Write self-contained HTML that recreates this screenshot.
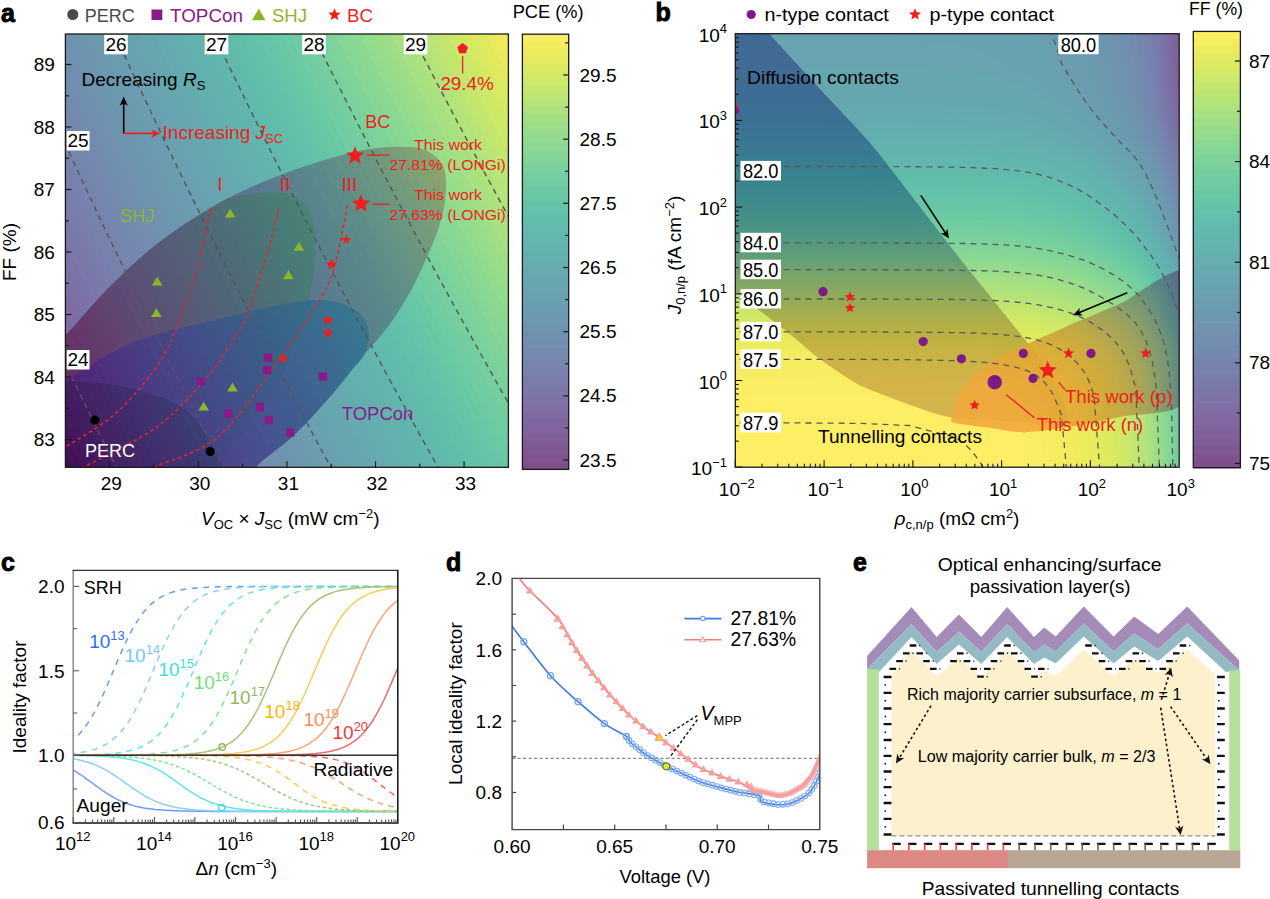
<!DOCTYPE html>
<html><head><meta charset="utf-8"><style>
html,body{margin:0;padding:0;background:#fff;width:1270px;height:899px;overflow:hidden}
svg{display:block}
text{font-family:"Liberation Sans", sans-serif}
</style></head><body>
<svg width="1270" height="899" viewBox="0 0 1270 899" font-family='"Liberation Sans", sans-serif'>
<rect width="1270" height="899" fill="#fff"/>
<clipPath id="clipA"><rect x="65.4" y="34.0" width="443.0" height="433.3"/></clipPath>
<clipPath id="clipB"><rect x="735.3" y="33.7" width="443.9000000000001" height="433.5"/></clipPath>
<g clip-path="url(#clipA)">
<rect x="65.4" y="34.0" width="443.0" height="433.3" fill="#fff"/>
<path d="M30,370 C35.8,342.7 51.4,350.2 65,336 C78.6,321.8 96.1,300.3 111.7,284.8 C127.3,269.3 142.8,255.1 158.4,242.8 C174,230.5 189.4,220.3 205,211 C220.6,201.7 236.1,193.9 251.9,186.7 C267.7,179.5 282.7,173.9 300,168 C317.3,162.1 339.4,155 355.6,151.5 C371.8,148 385.7,147.1 397.3,146.8 C408.9,146.6 417.6,147.1 425,150 C432.4,152.9 438.3,158.4 441.8,164 C445.3,169.6 445.8,175.6 446,183.5 C446.2,191.4 445.3,201.6 443.2,211.3 C441.1,221 438.6,229 433.4,241.9 C428.1,254.8 419.3,274.9 411.7,289 C404.1,303.1 396.9,314.3 388,326.5 C379.1,338.7 367.9,350 358,362 C348.1,374 339.6,385.9 328.7,398.3 C317.8,410.7 304.8,425 292.8,436.3 C280.9,447.6 267.5,455.4 257,466 C246.5,476.6 267.8,494.3 230,500 C192.2,505.7 63.3,521.7 30,500 C-3.3,478.3 24.2,397.3 30,370 Z" fill="rgb(228,70,150)"/>
<path d="M30,370 C35.8,342.7 51.4,350.2 65,336 C78.6,321.8 96.1,300.3 111.7,284.8 C127.3,269.3 142.8,254.9 158.4,242.8 C174,230.7 193.3,219.4 205,212 C216.7,204.6 218.8,201.6 228.5,198.4 C238.2,195.2 253.8,193.4 263.5,192.6 C273.2,191.8 280.4,192 287,193.7 C293.6,195.4 299,198.3 303.3,203 C307.6,207.7 310.7,213.6 312.6,221.8 C314.6,230 315,242.3 315,252 C315,261.7 314.1,270.3 312.6,280 C311.1,289.7 308.8,300 306,310 C303.2,320 300.3,328.3 296,340 C291.7,351.7 287.7,365.8 280,380 C272.3,394.2 260.8,410 250,425 C239.2,440 225,457.5 215,470 C205,482.5 220.8,495 190,500 C159.2,505 56.7,521.7 30,500 C3.3,478.3 24.2,397.3 30,370 Z" fill="rgb(150,83,40)" opacity="0.75"/>
<path d="M30,395 C35.8,375 47.8,388.8 65,380 C82.2,371.2 110.2,351.6 133.5,342 C156.8,332.4 181.4,328.2 205,322.2 C228.6,316.2 256.9,309.5 275.2,305.8 C293.5,302.1 304,300.4 315,300 C326,299.6 333.5,300.5 341.4,303.2 C349.3,305.9 357.9,310.7 362.5,316 C367.1,321.3 368.5,328.7 368.9,335 C369.3,341.3 367.5,348.2 364.7,354 C361.9,359.8 358,362.6 352,370 C346,377.4 338.6,387.2 328.7,398.3 C318.8,409.4 304.8,425 292.8,436.3 C280.9,447.6 267.5,455.4 257,466 C246.5,476.6 267.8,494.3 230,500 C192.2,505.7 63.3,517.5 30,500 C-3.3,482.5 24.2,415 30,395 Z" fill="rgb(70,30,150)" opacity="0.7"/>
<path d="M30,381 C36,361.2 51.2,380.8 65.7,381.5 C80.2,382.2 98.7,381.8 116.7,385.3 C134.7,388.8 159.6,395.7 173.5,402.3 C187.4,408.9 193.1,416.8 200,425 C206.9,433.2 211.2,444.6 215,451.5 C218.8,458.4 220.8,458.5 222.6,466.6 C224.4,474.7 258.1,494.4 226,500 C193.9,505.6 62.7,519.8 30,500 C-2.7,480.2 24.1,400.8 30,381 Z" fill="rgb(40,20,40)" opacity="0.7"/>
<g opacity="0.7">
<rect x="65.4" y="34.0" width="443.0" height="433.3" fill="#440154"/>
<path d="M55.4,486 L34.6,443.3 L14.2,400.4 L-5.9,357.6 L-25.6,314.9 L-45.1,272.1 L-64.2,229.2 L-83.1,186.4 L-101.6,143.7 L-119.9,100.9 L-137.9,58 L-155.6,15.3 L558.4,15.3 L558.4,486 Z" fill="#440256"/>
<path d="M64,486 L43.2,443.3 L22.7,400.4 L2.5,357.6 L-17.3,314.9 L-36.8,272.1 L-56,229.2 L-74.9,186.4 L-93.6,143.7 L-111.9,100.9 L-129.9,58 L-147.7,15.3 L558.4,15.3 L558.4,486 Z" fill="#46075a"/>
<path d="M72.6,486 L51.7,443.3 L31.2,400.4 L10.9,357.6 L-9,314.9 L-28.6,272.1 L-47.8,229.2 L-66.8,186.4 L-85.5,143.7 L-103.9,100.9 L-122,58 L-139.8,15.3 L558.4,15.3 L558.4,486 Z" fill="#460b5e"/>
<path d="M81.3,486 L60.3,443.3 L39.6,400.4 L19.3,357.6 L-0.6,314.9 L-20.3,272.1 L-39.6,229.2 L-58.7,186.4 L-77.4,143.7 L-95.9,100.9 L-114,58 L-131.9,15.3 L558.4,15.3 L558.4,486 Z" fill="#471063"/>
<path d="M89.9,486 L68.8,443.3 L48.1,400.4 L27.8,357.6 L7.7,314.9 L-12,272.1 L-31.4,229.2 L-50.5,186.4 L-69.3,143.7 L-87.8,100.9 L-106.1,58 L-124,15.3 L558.4,15.3 L558.4,486 Z" fill="#481467"/>
<path d="M98.5,486 L77.4,443.3 L56.6,400.4 L36.2,357.6 L16.1,314.9 L-3.7,272.1 L-23.2,229.2 L-42.4,186.4 L-61.2,143.7 L-79.8,100.9 L-98.1,58 L-116.1,15.3 L558.4,15.3 L558.4,486 Z" fill="#48186a"/>
<path d="M107.1,486 L85.9,443.3 L65.1,400.4 L44.6,357.6 L24.4,314.9 L4.5,272.1 L-15,229.2 L-34.2,186.4 L-53.2,143.7 L-71.8,100.9 L-90.2,58 L-108.2,15.3 L558.4,15.3 L558.4,486 Z" fill="#481c6e"/>
<path d="M115.7,486 L94.5,443.3 L73.6,400.4 L53,357.6 L32.7,314.9 L12.8,272.1 L-6.8,229.2 L-26.1,186.4 L-45.1,143.7 L-63.8,100.9 L-82.2,58 L-100.3,15.3 L558.4,15.3 L558.4,486 Z" fill="#482071"/>
<path d="M124.3,486 L103,443.3 L82,400.4 L61.4,357.6 L41.1,314.9 L21.1,272.1 L1.4,229.2 L-18,186.4 L-37,143.7 L-55.8,100.9 L-74.2,58 L-92.4,15.3 L558.4,15.3 L558.4,486 Z" fill="#482475"/>
<path d="M133,486 L111.6,443.3 L90.5,400.4 L69.8,357.6 L49.4,314.9 L29.4,272.1 L9.6,229.2 L-9.8,186.4 L-28.9,143.7 L-47.8,100.9 L-66.3,58 L-84.5,15.3 L558.4,15.3 L558.4,486 Z" fill="#482878"/>
<path d="M141.6,486 L120.1,443.3 L99,400.4 L78.2,357.6 L57.7,314.9 L37.6,272.1 L17.8,229.2 L-1.7,186.4 L-20.9,143.7 L-39.7,100.9 L-58.3,58 L-76.7,15.3 L558.4,15.3 L558.4,486 Z" fill="#472c7a"/>
<path d="M150.2,486 L128.7,443.3 L107.5,400.4 L86.6,357.6 L66.1,314.9 L45.9,272.1 L26,229.2 L6.5,186.4 L-12.8,143.7 L-31.7,100.9 L-50.4,58 L-68.8,15.3 L558.4,15.3 L558.4,486 Z" fill="#472f7d"/>
<path d="M158.8,486 L137.2,443.3 L115.9,400.4 L95,357.6 L74.4,314.9 L54.2,272.1 L34.2,229.2 L14.6,186.4 L-4.7,143.7 L-23.7,100.9 L-42.4,58 L-60.9,15.3 L558.4,15.3 L558.4,486 Z" fill="#46337f"/>
<path d="M167.4,486 L145.7,443.3 L124.4,400.4 L103.4,357.6 L82.8,314.9 L62.4,272.1 L42.4,229.2 L22.8,186.4 L3.4,143.7 L-15.7,100.9 L-34.5,58 L-53,15.3 L558.4,15.3 L558.4,486 Z" fill="#453781"/>
<path d="M176.1,486 L154.3,443.3 L132.9,400.4 L111.8,357.6 L91.1,314.9 L70.7,272.1 L50.7,229.2 L30.9,186.4 L11.5,143.7 L-7.7,100.9 L-26.5,58 L-45.1,15.3 L558.4,15.3 L558.4,486 Z" fill="#443a83"/>
<path d="M184.7,486 L162.8,443.3 L141.4,400.4 L120.2,357.6 L99.4,314.9 L79,272.1 L58.9,229.2 L39,186.4 L19.5,143.7 L0.3,100.9 L-18.6,58 L-37.2,15.3 L558.4,15.3 L558.4,486 Z" fill="#433e85"/>
<path d="M193.3,486 L171.4,443.3 L149.8,400.4 L128.6,357.6 L107.8,314.9 L87.3,272.1 L67.1,229.2 L47.2,186.4 L27.6,143.7 L8.4,100.9 L-10.6,58 L-29.3,15.3 L558.4,15.3 L558.4,486 Z" fill="#424186"/>
<path d="M201.9,486 L179.9,443.3 L158.3,400.4 L137,357.6 L116.1,314.9 L95.5,272.1 L75.3,229.2 L55.3,186.4 L35.7,143.7 L16.4,100.9 L-2.7,58 L-21.4,15.3 L558.4,15.3 L558.4,486 Z" fill="#404588"/>
<path d="M210.5,486 L188.5,443.3 L166.8,400.4 L145.5,357.6 L124.5,314.9 L103.8,272.1 L83.5,229.2 L63.5,186.4 L43.8,143.7 L24.4,100.9 L5.3,58 L-13.5,15.3 L558.4,15.3 L558.4,486 Z" fill="#3f4889"/>
<path d="M219.1,486 L197,443.3 L175.3,400.4 L153.9,357.6 L132.8,314.9 L112.1,272.1 L91.7,229.2 L71.6,186.4 L51.9,143.7 L32.4,100.9 L13.3,58 L-5.6,15.3 L558.4,15.3 L558.4,486 Z" fill="#3e4c8a"/>
<path d="M227.8,486 L205.6,443.3 L183.7,400.4 L162.3,357.6 L141.1,314.9 L120.4,272.1 L99.9,229.2 L79.8,186.4 L59.9,143.7 L40.4,100.9 L21.2,58 L2.3,15.3 L558.4,15.3 L558.4,486 Z" fill="#3c4f8a"/>
<path d="M236.4,486 L214.1,443.3 L192.2,400.4 L170.7,357.6 L149.5,314.9 L128.6,272.1 L108.1,229.2 L87.9,186.4 L68,143.7 L48.4,100.9 L29.2,58 L10.2,15.3 L558.4,15.3 L558.4,486 Z" fill="#3b528b"/>
<path d="M245,486 L222.7,443.3 L200.7,400.4 L179.1,357.6 L157.8,314.9 L136.9,272.1 L116.3,229.2 L96,186.4 L76.1,143.7 L56.5,100.9 L37.1,58 L18.1,15.3 L558.4,15.3 L558.4,486 Z" fill="#39558c"/>
<path d="M253.6,486 L231.2,443.3 L209.2,400.4 L187.5,357.6 L166.2,314.9 L145.2,272.1 L124.5,229.2 L104.2,186.4 L84.2,143.7 L64.5,100.9 L45.1,58 L26,15.3 L558.4,15.3 L558.4,486 Z" fill="#38598c"/>
<path d="M262.2,486 L239.7,443.3 L217.6,400.4 L195.9,357.6 L174.5,314.9 L153.4,272.1 L132.7,229.2 L112.3,186.4 L92.3,143.7 L72.5,100.9 L53,58 L33.9,15.3 L558.4,15.3 L558.4,486 Z" fill="#365c8d"/>
<path d="M270.8,486 L248.3,443.3 L226.1,400.4 L204.3,357.6 L182.8,314.9 L161.7,272.1 L140.9,229.2 L120.5,186.4 L100.3,143.7 L80.5,100.9 L61,58 L41.8,15.3 L558.4,15.3 L558.4,486 Z" fill="#355f8d"/>
<path d="M279.5,486 L256.8,443.3 L234.6,400.4 L212.7,357.6 L191.2,314.9 L170,272.1 L149.1,229.2 L128.6,186.4 L108.4,143.7 L88.5,100.9 L68.9,58 L49.7,15.3 L558.4,15.3 L558.4,486 Z" fill="#33628d"/>
<path d="M288.1,486 L265.4,443.3 L243.1,400.4 L221.1,357.6 L199.5,314.9 L178.3,272.1 L157.3,229.2 L136.8,186.4 L116.5,143.7 L96.5,100.9 L76.9,58 L57.5,15.3 L558.4,15.3 L558.4,486 Z" fill="#32658e"/>
<path d="M296.7,486 L273.9,443.3 L251.5,400.4 L229.5,357.6 L207.9,314.9 L186.5,272.1 L165.6,229.2 L144.9,186.4 L124.6,143.7 L104.6,100.9 L84.8,58 L65.4,15.3 L558.4,15.3 L558.4,486 Z" fill="#31688e"/>
<path d="M305.3,486 L282.5,443.3 L260,400.4 L237.9,357.6 L216.2,314.9 L194.8,272.1 L173.8,229.2 L153,186.4 L132.7,143.7 L112.6,100.9 L92.8,58 L73.3,15.3 L558.4,15.3 L558.4,486 Z" fill="#2f6b8e"/>
<path d="M313.9,486 L291,443.3 L268.5,400.4 L246.3,357.6 L224.5,314.9 L203.1,272.1 L182,229.2 L161.2,186.4 L140.7,143.7 L120.6,100.9 L100.8,58 L81.2,15.3 L558.4,15.3 L558.4,486 Z" fill="#2e6e8e"/>
<path d="M322.5,486 L299.6,443.3 L277,400.4 L254.7,357.6 L232.9,314.9 L211.4,272.1 L190.2,229.2 L169.3,186.4 L148.8,143.7 L128.6,100.9 L108.7,58 L89.1,15.3 L558.4,15.3 L558.4,486 Z" fill="#2c718e"/>
<path d="M331.2,486 L308.1,443.3 L285.4,400.4 L263.2,357.6 L241.2,314.9 L219.6,272.1 L198.4,229.2 L177.5,186.4 L156.9,143.7 L136.6,100.9 L116.7,58 L97,15.3 L558.4,15.3 L558.4,486 Z" fill="#2b748e"/>
<path d="M339.8,486 L316.7,443.3 L293.9,400.4 L271.6,357.6 L249.6,314.9 L227.9,272.1 L206.6,229.2 L185.6,186.4 L165,143.7 L144.6,100.9 L124.6,58 L104.9,15.3 L558.4,15.3 L558.4,486 Z" fill="#2a778e"/>
<path d="M348.4,486 L325.2,443.3 L302.4,400.4 L280,357.6 L257.9,314.9 L236.2,272.1 L214.8,229.2 L193.8,186.4 L173,143.7 L152.7,100.9 L132.6,58 L112.8,15.3 L558.4,15.3 L558.4,486 Z" fill="#297a8e"/>
<path d="M357,486 L333.8,443.3 L310.9,400.4 L288.4,357.6 L266.2,314.9 L244.4,272.1 L223,229.2 L201.9,186.4 L181.1,143.7 L160.7,100.9 L140.5,58 L120.7,15.3 L558.4,15.3 L558.4,486 Z" fill="#287d8e"/>
<path d="M365.6,486 L342.3,443.3 L319.4,400.4 L296.8,357.6 L274.6,314.9 L252.7,272.1 L231.2,229.2 L210,186.4 L189.2,143.7 L168.7,100.9 L148.5,58 L128.6,15.3 L558.4,15.3 L558.4,486 Z" fill="#27808e"/>
<path d="M374.2,486 L350.8,443.3 L327.8,400.4 L305.2,357.6 L282.9,314.9 L261,272.1 L239.4,229.2 L218.2,186.4 L197.3,143.7 L176.7,100.9 L156.4,58 L136.5,15.3 L558.4,15.3 L558.4,486 Z" fill="#26828e"/>
<path d="M382.9,486 L359.4,443.3 L336.3,400.4 L313.6,357.6 L291.3,314.9 L269.3,272.1 L247.6,229.2 L226.3,186.4 L205.4,143.7 L184.7,100.9 L164.4,58 L144.4,15.3 L558.4,15.3 L558.4,486 Z" fill="#25858e"/>
<path d="M391.5,486 L367.9,443.3 L344.8,400.4 L322,357.6 L299.6,314.9 L277.5,272.1 L255.8,229.2 L234.5,186.4 L213.4,143.7 L192.7,100.9 L172.4,58 L152.3,15.3 L558.4,15.3 L558.4,486 Z" fill="#23888e"/>
<path d="M400.1,486 L376.5,443.3 L353.3,400.4 L330.4,357.6 L307.9,314.9 L285.8,272.1 L264,229.2 L242.6,186.4 L221.5,143.7 L200.8,100.9 L180.3,58 L160.2,15.3 L558.4,15.3 L558.4,486 Z" fill="#228b8d"/>
<path d="M408.7,486 L385,443.3 L361.7,400.4 L338.8,357.6 L316.3,314.9 L294.1,272.1 L272.2,229.2 L250.8,186.4 L229.6,143.7 L208.8,100.9 L188.3,58 L168.1,15.3 L558.4,15.3 L558.4,486 Z" fill="#218e8d"/>
<path d="M417.3,486 L393.6,443.3 L370.2,400.4 L347.2,357.6 L324.6,314.9 L302.4,272.1 L280.5,229.2 L258.9,186.4 L237.7,143.7 L216.8,100.9 L196.2,58 L176,15.3 L558.4,15.3 L558.4,486 Z" fill="#21918c"/>
<path d="M425.9,486 L402.1,443.3 L378.7,400.4 L355.6,357.6 L332.9,314.9 L310.6,272.1 L288.7,229.2 L267,186.4 L245.8,143.7 L224.8,100.9 L204.2,58 L183.9,15.3 L558.4,15.3 L558.4,486 Z" fill="#20938c"/>
<path d="M434.6,486 L410.7,443.3 L387.2,400.4 L364,357.6 L341.3,314.9 L318.9,272.1 L296.9,229.2 L275.2,186.4 L253.8,143.7 L232.8,100.9 L212.1,58 L191.7,15.3 L558.4,15.3 L558.4,486 Z" fill="#1f968b"/>
<path d="M443.2,486 L419.2,443.3 L395.6,400.4 L372.4,357.6 L349.6,314.9 L327.2,272.1 L305.1,229.2 L283.3,186.4 L261.9,143.7 L240.8,100.9 L220.1,58 L199.6,15.3 L558.4,15.3 L558.4,486 Z" fill="#1f998a"/>
<path d="M451.8,486 L427.8,443.3 L404.1,400.4 L380.9,357.6 L358,314.9 L335.4,272.1 L313.3,229.2 L291.5,186.4 L270,143.7 L248.9,100.9 L228,58 L207.5,15.3 L558.4,15.3 L558.4,486 Z" fill="#1e9c89"/>
<path d="M460.4,486 L436.3,443.3 L412.6,400.4 L389.3,357.6 L366.3,314.9 L343.7,272.1 L321.5,229.2 L299.6,186.4 L278.1,143.7 L256.9,100.9 L236,58 L215.4,15.3 L558.4,15.3 L558.4,486 Z" fill="#1f9f88"/>
<path d="M469,486 L444.9,443.3 L421.1,400.4 L397.7,357.6 L374.6,314.9 L352,272.1 L329.7,229.2 L307.8,186.4 L286.2,143.7 L264.9,100.9 L243.9,58 L223.3,15.3 L558.4,15.3 L558.4,486 Z" fill="#1fa187"/>
<path d="M477.6,486 L453.4,443.3 L429.5,400.4 L406.1,357.6 L383,314.9 L360.3,272.1 L337.9,229.2 L315.9,186.4 L294.2,143.7 L272.9,100.9 L251.9,58 L231.2,15.3 L558.4,15.3 L558.4,486 Z" fill="#20a486"/>
<path d="M486.3,486 L461.9,443.3 L438,400.4 L414.5,357.6 L391.3,314.9 L368.5,272.1 L346.1,229.2 L324,186.4 L302.3,143.7 L280.9,100.9 L259.9,58 L239.1,15.3 L558.4,15.3 L558.4,486 Z" fill="#22a785"/>
<path d="M494.9,486 L470.5,443.3 L446.5,400.4 L422.9,357.6 L399.7,314.9 L376.8,272.1 L354.3,229.2 L332.2,186.4 L310.4,143.7 L288.9,100.9 L267.8,58 L247,15.3 L558.4,15.3 L558.4,486 Z" fill="#24aa83"/>
<path d="M503.5,486 L479,443.3 L455,400.4 L431.3,357.6 L408,314.9 L385.1,272.1 L362.5,229.2 L340.3,186.4 L318.5,143.7 L297,100.9 L275.8,58 L254.9,15.3 L558.4,15.3 L558.4,486 Z" fill="#26ad81"/>
<path d="M512.1,486 L487.6,443.3 L463.4,400.4 L439.7,357.6 L416.3,314.9 L393.4,272.1 L370.7,229.2 L348.5,186.4 L326.5,143.7 L305,100.9 L283.7,58 L262.8,15.3 L558.4,15.3 L558.4,486 Z" fill="#29af7f"/>
<path d="M520.7,486 L496.1,443.3 L471.9,400.4 L448.1,357.6 L424.7,314.9 L401.6,272.1 L378.9,229.2 L356.6,186.4 L334.6,143.7 L313,100.9 L291.7,58 L270.7,15.3 L558.4,15.3 L558.4,486 Z" fill="#2db27d"/>
<path d="M529.4,486 L504.7,443.3 L480.4,400.4 L456.5,357.6 L433,314.9 L409.9,272.1 L387.1,229.2 L364.8,186.4 L342.7,143.7 L321,100.9 L299.6,58 L278.6,15.3 L558.4,15.3 L558.4,486 Z" fill="#31b57b"/>
<path d="M538,486 L513.2,443.3 L488.9,400.4 L464.9,357.6 L441.4,314.9 L418.2,272.1 L395.4,229.2 L372.9,186.4 L350.8,143.7 L329,100.9 L307.6,58 L286.5,15.3 L558.4,15.3 L558.4,486 Z" fill="#35b779"/>
<path d="M546.6,486 L521.8,443.3 L497.3,400.4 L473.3,357.6 L449.7,314.9 L426.4,272.1 L403.6,229.2 L381,186.4 L358.9,143.7 L337,100.9 L315.5,58 L294.4,15.3 L558.4,15.3 L558.4,486 Z" fill="#3aba76"/>
<path d="M555.2,486 L530.3,443.3 L505.8,400.4 L481.7,357.6 L458,314.9 L434.7,272.1 L411.8,229.2 L389.2,186.4 L366.9,143.7 L345,100.9 L323.5,58 L302.3,15.3 L558.4,15.3 L558.4,486 Z" fill="#3fbc73"/>
<path d="M563.8,486 L538.9,443.3 L514.3,400.4 L490.1,357.6 L466.4,314.9 L443,272.1 L420,229.2 L397.3,186.4 L375,143.7 L353.1,100.9 L331.4,58 L310.2,15.3 L558.4,15.3 L558.4,486 Z" fill="#44bf70"/>
<path d="M572.4,486 L547.4,443.3 L522.8,400.4 L498.6,357.6 L474.7,314.9 L451.3,272.1 L428.2,229.2 L405.5,186.4 L383.1,143.7 L361.1,100.9 L339.4,58 L318.1,15.3 L558.4,15.3 L558.4,486 Z" fill="#4ac16d"/>
<path d="M581.1,486 L555.9,443.3 L531.3,400.4 L507,357.6 L483.1,314.9 L459.5,272.1 L436.4,229.2 L413.6,186.4 L391.2,143.7 L369.1,100.9 L347.4,58 L325.9,15.3 L558.4,15.3 L558.4,486 Z" fill="#50c46a"/>
<path d="M589.7,486 L564.5,443.3 L539.7,400.4 L515.4,357.6 L491.4,314.9 L467.8,272.1 L444.6,229.2 L421.7,186.4 L399.3,143.7 L377.1,100.9 L355.3,58 L333.8,15.3 L558.4,15.3 L558.4,486 Z" fill="#56c667"/>
<path d="M598.3,486 L573,443.3 L548.2,400.4 L523.8,357.6 L499.7,314.9 L476.1,272.1 L452.8,229.2 L429.9,186.4 L407.3,143.7 L385.1,100.9 L363.3,58 L341.7,15.3 L558.4,15.3 L558.4,486 Z" fill="#5cc863"/>
<path d="M606.9,486 L581.6,443.3 L556.7,400.4 L532.2,357.6 L508.1,314.9 L484.4,272.1 L461,229.2 L438,186.4 L415.4,143.7 L393.1,100.9 L371.2,58 L349.6,15.3 L558.4,15.3 L558.4,486 Z" fill="#63cb5f"/>
<path d="M615.5,486 L590.1,443.3 L565.2,400.4 L540.6,357.6 L516.4,314.9 L492.6,272.1 L469.2,229.2 L446.2,186.4 L423.5,143.7 L401.2,100.9 L379.2,58 L357.5,15.3 L558.4,15.3 L558.4,486 Z" fill="#69cd5b"/>
<path d="M624.1,486 L598.7,443.3 L573.6,400.4 L549,357.6 L524.8,314.9 L500.9,272.1 L477.4,229.2 L454.3,186.4 L431.6,143.7 L409.2,100.9 L387.1,58 L365.4,15.3 L558.4,15.3 L558.4,486 Z" fill="#70cf57"/>
<path d="M632.8,486 L607.2,443.3 L582.1,400.4 L557.4,357.6 L533.1,314.9 L509.2,272.1 L485.6,229.2 L462.5,186.4 L439.7,143.7 L417.2,100.9 L395.1,58 L373.3,15.3 L558.4,15.3 L558.4,486 Z" fill="#77d153"/>
<path d="M641.4,486 L615.8,443.3 L590.6,400.4 L565.8,357.6 L541.4,314.9 L517.4,272.1 L493.8,229.2 L470.6,186.4 L447.7,143.7 L425.2,100.9 L403,58 L381.2,15.3 L558.4,15.3 L558.4,486 Z" fill="#7fd34e"/>
<path d="M650,486 L624.3,443.3 L599.1,400.4 L574.2,357.6 L549.8,314.9 L525.7,272.1 L502,229.2 L478.7,186.4 L455.8,143.7 L433.2,100.9 L411,58 L389.1,15.3 L558.4,15.3 L558.4,486 Z" fill="#86d549"/>
<path d="M658.6,486 L632.9,443.3 L607.5,400.4 L582.6,357.6 L558.1,314.9 L534,272.1 L510.3,229.2 L486.9,186.4 L463.9,143.7 L441.2,100.9 L419,58 L397,15.3 L558.4,15.3 L558.4,486 Z" fill="#8ed645"/>
<path d="M667.2,486 L641.4,443.3 L616,400.4 L591,357.6 L566.4,314.9 L542.3,272.1 L518.5,229.2 L495,186.4 L472,143.7 L449.3,100.9 L426.9,58 L404.9,15.3 L558.4,15.3 L558.4,486 Z" fill="#95d840"/>
<path d="M675.8,486 L650,443.3 L624.5,400.4 L599.4,357.6 L574.8,314.9 L550.5,272.1 L526.7,229.2 L503.2,186.4 L480,143.7 L457.3,100.9 L434.9,58 L412.8,15.3 L558.4,15.3 L558.4,486 Z" fill="#9dd93b"/>
<path d="M684.5,486 L658.5,443.3 L633,400.4 L607.8,357.6 L583.1,314.9 L558.8,272.1 L534.9,229.2 L511.3,186.4 L488.1,143.7 L465.3,100.9 L442.8,58 L420.7,15.3 L558.4,15.3 L558.4,486 Z" fill="#a5db36"/>
<path d="M693.1,486 L667,443.3 L641.4,400.4 L616.3,357.6 L591.5,314.9 L567.1,272.1 L543.1,229.2 L519.5,186.4 L496.2,143.7 L473.3,100.9 L450.8,58 L428.6,15.3 L558.4,15.3 L558.4,486 Z" fill="#addc30"/>
<path d="M701.7,486 L675.6,443.3 L649.9,400.4 L624.7,357.6 L599.8,314.9 L575.4,272.1 L551.3,229.2 L527.6,186.4 L504.3,143.7 L481.3,100.9 L458.7,58 L436.5,15.3 L558.4,15.3 L558.4,486 Z" fill="#b5de2b"/>
<path d="M710.3,486 L684.1,443.3 L658.4,400.4 L633.1,357.6 L608.1,314.9 L583.6,272.1 L559.5,229.2 L535.7,186.4 L512.4,143.7 L489.3,100.9 L466.7,58 L444.4,15.3 L558.4,15.3 L558.4,486 Z" fill="#bddf26"/>
<path d="M718.9,486 L692.7,443.3 L666.9,400.4 L641.5,357.6 L616.5,314.9 L591.9,272.1 L567.7,229.2 L543.9,186.4 L520.4,143.7 L497.4,100.9 L474.6,58 L452.3,15.3 L558.4,15.3 L558.4,486 Z" fill="#c5e021"/>
<path d="M727.5,486 L701.2,443.3 L675.3,400.4 L649.9,357.6 L624.8,314.9 L600.2,272.1 L575.9,229.2 L552,186.4 L528.5,143.7 L505.4,100.9 L482.6,58 L460.1,15.3 L558.4,15.3 L558.4,486 Z" fill="#cde11d"/>
<path d="M736.2,486 L709.8,443.3 L683.8,400.4 L658.3,357.6 L633.2,314.9 L608.4,272.1 L584.1,229.2 L560.2,186.4 L536.6,143.7 L513.4,100.9 L490.5,58 L468,15.3 L558.4,15.3 L558.4,486 Z" fill="#d5e21a"/>
<path d="M744.8,486 L718.3,443.3 L692.3,400.4 L666.7,357.6 L641.5,314.9 L616.7,272.1 L592.3,229.2 L568.3,186.4 L544.7,143.7 L521.4,100.9 L498.5,58 L475.9,15.3 L558.4,15.3 L558.4,486 Z" fill="#dde318"/>
<path d="M753.4,486 L726.9,443.3 L700.8,400.4 L675.1,357.6 L649.8,314.9 L625,272.1 L600.5,229.2 L576.5,186.4 L552.8,143.7 L529.4,100.9 L506.5,58 L483.8,15.3 L558.4,15.3 L558.4,486 Z" fill="#e5e419"/>
<path d="M762,486 L735.4,443.3 L709.2,400.4 L683.5,357.6 L658.2,314.9 L633.3,272.1 L608.7,229.2 L584.6,186.4 L560.8,143.7 L537.4,100.9 L514.4,58 L491.7,15.3 L558.4,15.3 L558.4,486 Z" fill="#ece51b"/>
<path d="M770.6,486 L744,443.3 L717.7,400.4 L691.9,357.6 L666.5,314.9 L641.5,272.1 L616.9,229.2 L592.7,186.4 L568.9,143.7 L545.5,100.9 L522.4,58 L499.6,15.3 L558.4,15.3 L558.4,486 Z" fill="#f4e61e"/>
<path d="M779.2,486 L752.5,443.3 L726.2,400.4 L700.3,357.6 L674.9,314.9 L649.8,272.1 L625.2,229.2 L600.9,186.4 L577,143.7 L553.5,100.9 L530.3,58 L507.5,15.3 L558.4,15.3 L558.4,486 Z" fill="#fbe723"/>
<path d="M787.9,486 L761,443.3 L734.7,400.4 L708.7,357.6 L683.2,314.9 L658.1,272.1 L633.4,229.2 L609,186.4 L585.1,143.7 L561.5,100.9 L538.3,58 L515.4,15.3 L558.4,15.3 L558.4,486 Z" fill="#fde725"/>
</g>
</g>
<g clip-path="url(#clipA)">
<path d="M122.3,479.8 L97,428.9 L72.2,378 L47.9,327 L24,276.1 L0.6,225.2 L-22.4,174.3 L-44.9,123.3 L-67.1,72.4 L-88.8,21.5" fill="none" stroke="#555" stroke-width="1.4" stroke-dasharray="5.5,4.5"/>
<path d="M229.9,479.8 L203.5,428.9 L177.7,378 L152.3,327 L127.5,276.1 L103.1,225.2 L79.2,174.3 L55.7,123.3 L32.6,72.4 L10,21.5" fill="none" stroke="#555" stroke-width="1.4" stroke-dasharray="5.5,4.5"/>
<path d="M337.5,479.8 L310.1,428.9 L283.2,378 L256.8,327 L231,276.1 L205.6,225.2 L180.7,174.3 L156.3,123.3 L132.3,72.4 L108.8,21.5" fill="none" stroke="#555" stroke-width="1.4" stroke-dasharray="5.5,4.5"/>
<path d="M445,479.8 L416.6,428.9 L388.7,378 L361.3,327 L334.5,276.1 L308.1,225.2 L282.3,174.3 L256.9,123.3 L232,72.4 L207.5,21.5" fill="none" stroke="#555" stroke-width="1.4" stroke-dasharray="5.5,4.5"/>
<path d="M552.6,479.8 L523.1,428.9 L494.2,378 L465.8,327 L437.9,276.1 L410.6,225.2 L383.8,174.3 L357.5,123.3 L331.7,72.4 L306.3,21.5" fill="none" stroke="#555" stroke-width="1.4" stroke-dasharray="5.5,4.5"/>
<path d="M660.2,479.8 L629.6,428.9 L599.7,378 L570.3,327 L541.4,276.1 L513.1,225.2 L485.4,174.3 L458.1,123.3 L431.4,72.4 L405.1,21.5" fill="none" stroke="#555" stroke-width="1.4" stroke-dasharray="5.5,4.5"/>
<path d="M50,456 C52.9,454.3 57.5,452 67.3,445.8 C77.1,439.6 96.8,428.7 109,418.9 C121.2,409.1 131.4,398 140.8,387 C150.2,376 158.3,365.4 165.2,352.8 C172.1,340.2 177.1,325.1 182.4,311.2 C187.7,297.3 193.2,282.8 197,269.6 C200.8,256.4 202.6,242.7 205,232 C207.4,221.3 210.2,210 211.3,205.6" fill="none" stroke="#e8242a" stroke-width="1.5" stroke-dasharray="3.5,3"/>
<path d="M70,474 C72.8,472.6 72.3,473.4 87,465.4 C101.7,457.4 138,440.9 158,426.2 C178,411.5 194.6,391.2 206.8,377.3 C219,363.4 224.4,354 231.3,343 C238.2,332 242.3,326.7 248.4,311.2 C254.5,295.7 262.8,267.6 268,250 C273.2,232.4 277.5,213 279.4,205.6" fill="none" stroke="#e8242a" stroke-width="1.5" stroke-dasharray="3.5,3"/>
<path d="M130,478 C134.2,476.1 140.6,473.6 155.4,466.6 C170.2,459.6 198.2,454.1 219,436 C239.8,417.9 265.1,377.9 280.3,357.7 C295.5,337.5 301.3,329 310,315 C318.7,301 326.1,291.9 332.3,273.7 C338.5,255.5 344.9,216.9 347.4,205.6" fill="none" stroke="#e8242a" stroke-width="1.5" stroke-dasharray="3.5,3"/>
</g>
<path d="M230.2,208.5 L235.4,217.6 L224.9,217.6 Z" fill="#8db52a"/>
<path d="M299,241.7 L304.2,250.8 L293.8,250.8 Z" fill="#8db52a"/>
<path d="M288.4,270.1 L293.6,279.2 L283.1,279.2 Z" fill="#8db52a"/>
<path d="M157.2,276.5 L162.4,285.6 L151.9,285.6 Z" fill="#8db52a"/>
<path d="M156.4,307.9 L161.7,317 L151.2,317 Z" fill="#8db52a"/>
<path d="M232.5,382.5 L237.8,391.6 L227.2,391.6 Z" fill="#8db52a"/>
<path d="M203.7,401.4 L208.9,410.5 L198.4,410.5 Z" fill="#8db52a"/>
<rect x="263.8" y="353.5" width="8.4" height="8.4" fill="#8b1a89"/>
<rect x="263.1" y="366" width="8.4" height="8.4" fill="#8b1a89"/>
<rect x="196.5" y="377.3" width="8.4" height="8.4" fill="#8b1a89"/>
<rect x="318.7" y="372.4" width="8.4" height="8.4" fill="#8b1a89"/>
<rect x="255.5" y="403" width="8.4" height="8.4" fill="#8b1a89"/>
<rect x="224.1" y="409.5" width="8.4" height="8.4" fill="#8b1a89"/>
<rect x="264.6" y="415.9" width="8.4" height="8.4" fill="#8b1a89"/>
<rect x="285.8" y="428.4" width="8.4" height="8.4" fill="#8b1a89"/>
<circle cx="94.8" cy="420.1" r="4.6" fill="#000"/>
<circle cx="210.2" cy="451.5" r="4.6" fill="#000"/>
<path d="M283.1,352.9 L284.6,356.4 L288.3,356.7 L285.5,359.2 L286.3,362.8 L283.1,360.9 L279.9,362.8 L280.7,359.2 L277.9,356.7 L281.6,356.4 Z" fill="#f01e1e"/>
<path d="M327.8,314.4 L329.3,318.1 L333.3,318.4 L330.3,321 L331.2,324.9 L327.8,322.8 L324.4,324.9 L325.3,321 L322.3,318.4 L326.3,318.1 Z" fill="#f01e1e"/>
<path d="M327.8,327.3 L329.3,331 L333.3,331.3 L330.3,333.9 L331.2,337.8 L327.8,335.7 L324.4,337.8 L325.3,333.9 L322.3,331.3 L326.3,331 Z" fill="#f01e1e"/>
<path d="M331.6,258.5 L333.1,262.2 L337.1,262.5 L334.1,265.1 L335,269 L331.6,266.9 L328.2,269 L329.1,265.1 L326.1,262.5 L330.1,262.2 Z" fill="#f01e1e"/>
<path d="M346.3,234.7 L347.6,237.9 L351.1,238.2 L348.4,240.4 L349.2,243.7 L346.3,241.9 L343.4,243.7 L344.2,240.4 L341.5,238.2 L345,237.9 Z" fill="#f01e1e"/>
<path d="M355,146.2 L357.5,152.2 L364,152.8 L359.1,157 L360.6,163.4 L355,160 L349.4,163.4 L350.9,157 L346,152.8 L352.5,152.2 Z" fill="#f01e1e"/>
<path d="M361,194.3 L363.5,200.3 L370,200.9 L365.1,205.1 L366.6,211.5 L361,208.1 L355.4,211.5 L356.9,205.1 L352,200.9 L358.5,200.3 Z" fill="#f01e1e"/>
<path d="M462.6,43.1 L467.9,47 L465.9,53.2 L459.3,53.2 L457.3,47 Z" fill="#f01e1e"/>
<line x1="462.6" y1="56" x2="462.6" y2="73.5" stroke="#f01e1e" stroke-width="1.3"/>
<line x1="366.7" y1="155.1" x2="389.5" y2="155.1" stroke="#f01e1e" stroke-width="1.3"/>
<line x1="372.8" y1="204.3" x2="389.5" y2="204.3" stroke="#f01e1e" stroke-width="1.3"/>
<line x1="123.7" y1="133.4" x2="123.7" y2="102" stroke="#000" stroke-width="1.6"/>
<path d="M123.7,96.5 L119.7,105.5 L123.7,103.5 L127.7,105.5 Z" fill="#000"/>
<line x1="123.7" y1="133.4" x2="154" y2="133.4" stroke="#f01e1e" stroke-width="1.6"/>
<path d="M160.5,133.4 L151.5,129.4 L153.5,133.4 L151.5,137.4 Z" fill="#f01e1e"/>
<text x="1" y="21.5" font-size="25" text-anchor="start" fill="#000" font-weight="bold" stroke="#000" stroke-width="0.9">a</text>
<circle cx="72.8" cy="14.5" r="5.5" fill="#4a4a4a"/>
<text x="84.8" y="22" font-size="19" text-anchor="start" fill="#4a4a4a" textLength="50" lengthAdjust="spacingAndGlyphs" >PERC</text>
<rect x="151.5" y="9.5" width="10.8" height="10.5" fill="#8b1a89"/>
<text x="170" y="22" font-size="19" text-anchor="start" fill="#8b1a89" textLength="73" lengthAdjust="spacingAndGlyphs" >TOPCon</text>
<path d="M258.8,8.5 L265.5,20.3 L252,20.3 Z" fill="#8db52a"/>
<text x="272" y="22" font-size="19" text-anchor="start" fill="#8db52a" textLength="35" lengthAdjust="spacingAndGlyphs" >SHJ</text>
<path d="M334.5,8.3 L336.2,12.4 L340.7,12.8 L337.3,15.7 L338.3,20.1 L334.5,17.7 L330.7,20.1 L331.7,15.7 L328.3,12.8 L332.8,12.4 Z" fill="#f01e1e"/>
<text x="347" y="22" font-size="19" text-anchor="start" fill="#f01e1e" textLength="26" lengthAdjust="spacingAndGlyphs" >BC</text>
<rect x="104.2" y="34.8" width="23.6" height="19.5" fill="#fff"/>
<text x="116" y="51.1" font-size="19" text-anchor="middle" fill="#000" >26</text>
<rect x="204.7" y="34.8" width="23.6" height="19.5" fill="#fff"/>
<text x="216.5" y="51.1" font-size="19" text-anchor="middle" fill="#000" >27</text>
<rect x="302.2" y="34.8" width="23.6" height="19.5" fill="#fff"/>
<text x="314" y="51.1" font-size="19" text-anchor="middle" fill="#000" >28</text>
<rect x="403.7" y="34.8" width="23.6" height="19.5" fill="#fff"/>
<text x="415.5" y="51.1" font-size="19" text-anchor="middle" fill="#000" >29</text>
<rect x="66.7" y="131" width="22.8" height="19.5" fill="#fff"/>
<text x="78.1" y="147.3" font-size="19" text-anchor="middle" fill="#000" >25</text>
<rect x="66.7" y="350" width="22.8" height="19.5" fill="#fff"/>
<text x="78.1" y="366.3" font-size="19" text-anchor="middle" fill="#000" >24</text>
<text x="81.5" y="85.6" font-size="19" text-anchor="start" fill="#000" >Decreasing <tspan font-style="italic">R</tspan><tspan font-size="13" dy="4">S</tspan></text>
<text x="162.6" y="139" font-size="19" text-anchor="start" fill="#f01e1e" >Increasing <tspan font-style="italic">J</tspan><tspan font-size="13" dy="4">SC</tspan></text>
<text x="440.4" y="90.4" font-size="19" text-anchor="start" fill="#f01e1e" textLength="53.4" lengthAdjust="spacingAndGlyphs" >29.4%</text>
<text x="365.3" y="127.9" font-size="19" text-anchor="start" fill="#f01e1e" textLength="25.1" lengthAdjust="spacingAndGlyphs" >BC</text>
<text x="448" y="150.1" font-size="15.5" text-anchor="middle" fill="#f01e1e" textLength="68" lengthAdjust="spacingAndGlyphs" >This work</text>
<text x="447.6" y="169.6" font-size="15.5" text-anchor="middle" fill="#f01e1e" textLength="116.2" lengthAdjust="spacingAndGlyphs" >27.81% (LONGi)</text>
<text x="448" y="200.2" font-size="15.5" text-anchor="middle" fill="#f01e1e" textLength="68" lengthAdjust="spacingAndGlyphs" >This work</text>
<text x="447.6" y="219.6" font-size="15.5" text-anchor="middle" fill="#f01e1e" textLength="116.2" lengthAdjust="spacingAndGlyphs" >27.63% (LONGi)</text>
<text x="219.8" y="191" font-size="19" text-anchor="middle" fill="#f01e1e" >I</text>
<text x="285" y="191" font-size="19" text-anchor="middle" fill="#f01e1e" >II</text>
<text x="349.3" y="191" font-size="19" text-anchor="middle" fill="#f01e1e" >III</text>
<text x="120" y="222.4" font-size="19" text-anchor="start" fill="#8db52a" textLength="34.3" lengthAdjust="spacingAndGlyphs" >SHJ</text>
<text x="85" y="456.9" font-size="19" text-anchor="start" fill="#fff" textLength="50" lengthAdjust="spacingAndGlyphs" >PERC</text>
<text x="341.7" y="420.2" font-size="19" text-anchor="start" fill="#8b1a89" textLength="71.7" lengthAdjust="spacingAndGlyphs" >TOPCon</text>
<rect x="65.4" y="34.0" width="443.0" height="433.3" fill="none" stroke="#1a1a1a" stroke-width="1.3"/>
<line x1="65.4" y1="439.5" x2="71.4" y2="439.5" stroke="#1a1a1a" stroke-width="1.2"/>
<text x="54.9" y="446" font-size="19" text-anchor="end" fill="#000" >83</text>
<line x1="65.4" y1="408.2" x2="68.9" y2="408.2" stroke="#1a1a1a" stroke-width="1.2"/>
<line x1="65.4" y1="377" x2="71.4" y2="377" stroke="#1a1a1a" stroke-width="1.2"/>
<text x="54.9" y="383.5" font-size="19" text-anchor="end" fill="#000" >84</text>
<line x1="65.4" y1="345.8" x2="68.9" y2="345.8" stroke="#1a1a1a" stroke-width="1.2"/>
<line x1="65.4" y1="314.5" x2="71.4" y2="314.5" stroke="#1a1a1a" stroke-width="1.2"/>
<text x="54.9" y="321" font-size="19" text-anchor="end" fill="#000" >85</text>
<line x1="65.4" y1="283.2" x2="68.9" y2="283.2" stroke="#1a1a1a" stroke-width="1.2"/>
<line x1="65.4" y1="252" x2="71.4" y2="252" stroke="#1a1a1a" stroke-width="1.2"/>
<text x="54.9" y="258.5" font-size="19" text-anchor="end" fill="#000" >86</text>
<line x1="65.4" y1="220.8" x2="68.9" y2="220.8" stroke="#1a1a1a" stroke-width="1.2"/>
<line x1="65.4" y1="189.5" x2="71.4" y2="189.5" stroke="#1a1a1a" stroke-width="1.2"/>
<text x="54.9" y="196" font-size="19" text-anchor="end" fill="#000" >87</text>
<line x1="65.4" y1="158.2" x2="68.9" y2="158.2" stroke="#1a1a1a" stroke-width="1.2"/>
<line x1="65.4" y1="127" x2="71.4" y2="127" stroke="#1a1a1a" stroke-width="1.2"/>
<text x="54.9" y="133.5" font-size="19" text-anchor="end" fill="#000" >88</text>
<line x1="65.4" y1="95.8" x2="68.9" y2="95.8" stroke="#1a1a1a" stroke-width="1.2"/>
<line x1="65.4" y1="64.5" x2="71.4" y2="64.5" stroke="#1a1a1a" stroke-width="1.2"/>
<text x="54.9" y="71" font-size="19" text-anchor="end" fill="#000" >89</text>
<line x1="109.7" y1="467.3" x2="109.7" y2="461.3" stroke="#1a1a1a" stroke-width="1.2"/>
<text x="111.2" y="490.3" font-size="19" text-anchor="middle" fill="#000" >29</text>
<line x1="154" y1="467.3" x2="154" y2="463.8" stroke="#1a1a1a" stroke-width="1.2"/>
<line x1="198.3" y1="467.3" x2="198.3" y2="461.3" stroke="#1a1a1a" stroke-width="1.2"/>
<text x="199.8" y="490.3" font-size="19" text-anchor="middle" fill="#000" >30</text>
<line x1="242.6" y1="467.3" x2="242.6" y2="463.8" stroke="#1a1a1a" stroke-width="1.2"/>
<line x1="286.9" y1="467.3" x2="286.9" y2="461.3" stroke="#1a1a1a" stroke-width="1.2"/>
<text x="288.4" y="490.3" font-size="19" text-anchor="middle" fill="#000" >31</text>
<line x1="331.2" y1="467.3" x2="331.2" y2="463.8" stroke="#1a1a1a" stroke-width="1.2"/>
<line x1="375.5" y1="467.3" x2="375.5" y2="461.3" stroke="#1a1a1a" stroke-width="1.2"/>
<text x="377" y="490.3" font-size="19" text-anchor="middle" fill="#000" >32</text>
<line x1="419.8" y1="467.3" x2="419.8" y2="463.8" stroke="#1a1a1a" stroke-width="1.2"/>
<line x1="464.1" y1="467.3" x2="464.1" y2="461.3" stroke="#1a1a1a" stroke-width="1.2"/>
<text x="465.6" y="490.3" font-size="19" text-anchor="middle" fill="#000" >33</text>
<text x="201" y="525" font-size="19" text-anchor="start" fill="#000" ><tspan font-style="italic">V</tspan><tspan font-size="13" dy="4">OC</tspan><tspan dy="-4"> × </tspan><tspan font-style="italic">J</tspan><tspan font-size="13" dy="4">SC</tspan><tspan dy="-4"> (mW cm</tspan><tspan font-size="13" dy="-7">−2</tspan><tspan dy="7">)</tspan></text>
<text transform="translate(15.5,252) rotate(-90)" font-size="19" text-anchor="middle">FF (%)</text>
<rect x="522.4" y="34.2" width="46.3" height="7.9" fill="#faee64"/>
<rect x="522.4" y="41.5" width="46.3" height="7.9" fill="#f4ed60"/>
<rect x="522.4" y="48.7" width="46.3" height="7.9" fill="#ecec5e"/>
<rect x="522.4" y="56" width="46.3" height="7.9" fill="#e5eb5e"/>
<rect x="522.4" y="63.2" width="46.3" height="7.9" fill="#dcea61"/>
<rect x="522.4" y="70.5" width="46.3" height="7.9" fill="#d5e965"/>
<rect x="522.4" y="77.7" width="46.3" height="7.9" fill="#cde86a"/>
<rect x="522.4" y="85" width="46.3" height="7.9" fill="#c6e76e"/>
<rect x="522.4" y="92.2" width="46.3" height="7.9" fill="#bce574"/>
<rect x="522.4" y="99.5" width="46.3" height="7.9" fill="#b5e479"/>
<rect x="522.4" y="106.7" width="46.3" height="7.9" fill="#aee27e"/>
<rect x="522.4" y="114" width="46.3" height="7.9" fill="#a5e083"/>
<rect x="522.4" y="121.2" width="46.3" height="7.9" fill="#9ede87"/>
<rect x="522.4" y="128.5" width="46.3" height="7.9" fill="#98dc8b"/>
<rect x="522.4" y="135.7" width="46.3" height="7.9" fill="#91da8f"/>
<rect x="522.4" y="143" width="46.3" height="7.9" fill="#8ad893"/>
<rect x="522.4" y="150.3" width="46.3" height="7.9" fill="#84d697"/>
<rect x="522.4" y="157.5" width="46.3" height="7.9" fill="#7fd39a"/>
<rect x="522.4" y="164.8" width="46.3" height="7.9" fill="#7ad19d"/>
<rect x="522.4" y="172" width="46.3" height="7.9" fill="#74cea0"/>
<rect x="522.4" y="179.3" width="46.3" height="7.9" fill="#70cca2"/>
<rect x="522.4" y="186.5" width="46.3" height="7.9" fill="#6cc9a4"/>
<rect x="522.4" y="193.8" width="46.3" height="7.9" fill="#69c7a6"/>
<rect x="522.4" y="201" width="46.3" height="7.9" fill="#66c3a8"/>
<rect x="522.4" y="208.3" width="46.3" height="7.9" fill="#64c1aa"/>
<rect x="522.4" y="215.5" width="46.3" height="7.9" fill="#63beab"/>
<rect x="522.4" y="222.8" width="46.3" height="7.9" fill="#62bbac"/>
<rect x="522.4" y="230" width="46.3" height="7.9" fill="#62b8ad"/>
<rect x="522.4" y="237.3" width="46.3" height="7.9" fill="#62b6ae"/>
<rect x="522.4" y="244.5" width="46.3" height="7.9" fill="#63b3af"/>
<rect x="522.4" y="251.8" width="46.3" height="7.9" fill="#64b0af"/>
<rect x="522.4" y="259.1" width="46.3" height="7.9" fill="#65adaf"/>
<rect x="522.4" y="266.3" width="46.3" height="7.9" fill="#66aab0"/>
<rect x="522.4" y="273.6" width="46.3" height="7.9" fill="#67a8b0"/>
<rect x="522.4" y="280.8" width="46.3" height="7.9" fill="#68a5b0"/>
<rect x="522.4" y="288.1" width="46.3" height="7.9" fill="#69a2b0"/>
<rect x="522.4" y="295.3" width="46.3" height="7.9" fill="#6a9fb0"/>
<rect x="522.4" y="302.6" width="46.3" height="7.9" fill="#6b9db0"/>
<rect x="522.4" y="309.8" width="46.3" height="7.9" fill="#6d99b0"/>
<rect x="522.4" y="317.1" width="46.3" height="7.9" fill="#6e97b0"/>
<rect x="522.4" y="324.3" width="46.3" height="7.9" fill="#6f94b0"/>
<rect x="522.4" y="331.6" width="46.3" height="7.9" fill="#7190af"/>
<rect x="522.4" y="338.8" width="46.3" height="7.9" fill="#728daf"/>
<rect x="522.4" y="346.1" width="46.3" height="7.9" fill="#738baf"/>
<rect x="522.4" y="353.3" width="46.3" height="7.9" fill="#7588ae"/>
<rect x="522.4" y="360.6" width="46.3" height="7.9" fill="#7784ad"/>
<rect x="522.4" y="367.9" width="46.3" height="7.9" fill="#7881ad"/>
<rect x="522.4" y="375.1" width="46.3" height="7.9" fill="#797dac"/>
<rect x="522.4" y="382.4" width="46.3" height="7.9" fill="#7a7aaa"/>
<rect x="522.4" y="389.6" width="46.3" height="7.9" fill="#7c76a9"/>
<rect x="522.4" y="396.9" width="46.3" height="7.9" fill="#7d73a7"/>
<rect x="522.4" y="404.1" width="46.3" height="7.9" fill="#7e6fa5"/>
<rect x="522.4" y="411.4" width="46.3" height="7.9" fill="#7e6ca3"/>
<rect x="522.4" y="418.6" width="46.3" height="7.9" fill="#7f67a0"/>
<rect x="522.4" y="425.9" width="46.3" height="7.9" fill="#7f649d"/>
<rect x="522.4" y="433.1" width="46.3" height="7.9" fill="#7f609a"/>
<rect x="522.4" y="440.4" width="46.3" height="7.9" fill="#7f5c95"/>
<rect x="522.4" y="447.6" width="46.3" height="7.9" fill="#7e5892"/>
<rect x="522.4" y="454.9" width="46.3" height="7.9" fill="#7e538e"/>
<rect x="522.4" y="462.1" width="46.3" height="7.9" fill="#7d4f89"/>
<rect x="522.4" y="34.2" width="46.3" height="435.2" fill="none" stroke="#1a1a1a" stroke-width="1.3"/>
<line x1="568.7" y1="460" x2="563.2" y2="460" stroke="#1a1a1a" stroke-width="1.2"/>
<text x="579.5" y="466.5" font-size="19" text-anchor="start" fill="#000" >23.5</text>
<line x1="568.7" y1="427.9" x2="565.2" y2="427.9" stroke="#1a1a1a" stroke-width="1.2"/>
<line x1="568.7" y1="395.9" x2="563.2" y2="395.9" stroke="#1a1a1a" stroke-width="1.2"/>
<text x="579.5" y="402.4" font-size="19" text-anchor="start" fill="#000" >24.5</text>
<line x1="568.7" y1="363.8" x2="565.2" y2="363.8" stroke="#1a1a1a" stroke-width="1.2"/>
<line x1="568.7" y1="331.7" x2="563.2" y2="331.7" stroke="#1a1a1a" stroke-width="1.2"/>
<text x="579.5" y="338.2" font-size="19" text-anchor="start" fill="#000" >25.5</text>
<line x1="568.7" y1="299.6" x2="565.2" y2="299.6" stroke="#1a1a1a" stroke-width="1.2"/>
<line x1="568.7" y1="267.5" x2="563.2" y2="267.5" stroke="#1a1a1a" stroke-width="1.2"/>
<text x="579.5" y="274" font-size="19" text-anchor="start" fill="#000" >26.5</text>
<line x1="568.7" y1="235.4" x2="565.2" y2="235.4" stroke="#1a1a1a" stroke-width="1.2"/>
<line x1="568.7" y1="203.3" x2="563.2" y2="203.3" stroke="#1a1a1a" stroke-width="1.2"/>
<text x="579.5" y="209.8" font-size="19" text-anchor="start" fill="#000" >27.5</text>
<line x1="568.7" y1="171.3" x2="565.2" y2="171.3" stroke="#1a1a1a" stroke-width="1.2"/>
<line x1="568.7" y1="139.2" x2="563.2" y2="139.2" stroke="#1a1a1a" stroke-width="1.2"/>
<text x="579.5" y="145.7" font-size="19" text-anchor="start" fill="#000" >28.5</text>
<line x1="568.7" y1="107.1" x2="565.2" y2="107.1" stroke="#1a1a1a" stroke-width="1.2"/>
<line x1="568.7" y1="75" x2="563.2" y2="75" stroke="#1a1a1a" stroke-width="1.2"/>
<text x="579.5" y="81.5" font-size="19" text-anchor="start" fill="#000" >29.5</text>
<line x1="568.7" y1="42.9" x2="565.2" y2="42.9" stroke="#1a1a1a" stroke-width="1.2"/>
<text x="512.7" y="18" font-size="19" text-anchor="start" fill="#000" textLength="70.9" lengthAdjust="spacingAndGlyphs" >PCE (%)</text>
<g clip-path="url(#clipB)">
<rect x="735.3" y="33.7" width="443.9000000000001" height="433.5" fill="#fff"/>
<path d="M700,20 C706,-6 753.4,19 760,20 C766.6,21 760.4,23.5 766,30 C771.6,36.5 805.5,73.3 816,84.7 C826.5,96.1 860.9,132.2 871,144 C881.1,155.8 907.8,191.2 917,203 C926.2,214.8 953.6,250.6 963,262.5 C972.4,274.4 1002.7,311.7 1010.7,321.7 C1018.7,331.7 1037.6,355.4 1042.6,362.7 C1047.6,370 1058.3,388.9 1060.8,394.6 C1063.3,400.3 1068.1,417 1068,420 C1067.9,423 1064.8,424.8 1060,425 C1055.2,425.2 1030.9,422.8 1020,422 C1009.1,421.2 961.4,418.8 951.4,417.4 C941.4,416 928.6,411.5 919.5,408.3 C910.4,405.1 870.3,390.5 860.3,385.5 C850.3,380.5 826.9,364.2 819.4,358.7 C811.9,353.1 791.4,335.1 785,330 C778.6,324.9 760.5,311.4 755.5,307.6 C750.5,303.8 740.5,294.8 735,292 C729.5,289.2 703.5,307.2 700,280 C696.5,252.8 694,46 700,20 Z" fill="rgb(120,62,165)"/>
<path d="M951.2,419.2 C951.4,416.7 954.8,402.7 957.2,398.2 C959.6,393.7 970.4,378.5 975.2,374 C980,369.5 999.9,356.1 1005.3,353 C1010.7,349.9 1022.6,345.9 1029.4,343 C1036.2,340.1 1064.2,327.5 1073.5,323.5 C1082.8,319.5 1111.2,307.8 1122.4,302.6 C1133.6,297.5 1178.7,262.2 1185,272 C1191.3,281.8 1191.3,386.6 1185,401 C1178.7,415.4 1133.6,414 1122.4,416.5 C1111.2,419 1083.3,424.7 1073.5,426.3 C1063.7,427.9 1032.8,432.2 1024.5,432.4 C1016.2,432.6 997.2,428.9 990.3,428 C983.3,427.1 958.9,423.9 955,423 C951.1,422.1 951,421.7 951.2,419.2 Z" fill="rgb(215,25,120)" opacity="0.9"/>
<g opacity="0.7">
<rect x="735.3" y="33.7" width="443.9000000000001" height="433.5" fill="#440154"/>
<path d="M717.5,16.4 L765.5,16.4 L813.4,16.4 L861.4,16.4 L909.3,16.4 L955.2,16.4 L957.2,16.4 L963.4,16.4 L971.6,16.4 L979.7,16.4 L987.9,16.4 L996.1,16.4 L1004.2,16.4 L1012.4,16.4 L1020.6,16.4 L1028.8,16.4 L1036.9,16.4 L1045.1,16.4 L1053.3,16.4 L1061.4,16.4 L1069.6,16.4 L1077.8,16.4 L1086,16.4 L1090.4,16.4 L1094.1,16.4 L1102.3,16.4 L1104.7,16.4 L1110.5,16.4 L1115.1,16.4 L1118.6,16.4 L1123.3,16.4 L1126.8,16.4 L1130,16.4 L1135,16.4 L1135.8,16.4 L1140.8,16.4 L1143.1,16.4 L1145.2,16.4 L1149.1,16.4 L1151.3,16.4 L1152.7,16.4 L1156,16.4 L1159.1,16.4 L1159.5,16.4 L1161.9,16.4 L1164.5,16.4 L1166.9,16.4 L1167.7,16.4 L1169.2,16.4 L1171.4,16.4 L1173.5,16.4 L1175.4,16.4 L1175.8,16.4 L1177.3,16.4 L1179.1,16.4 L1180.8,16.4 L1182.4,16.4 L1183.9,16.4 L1184,16.4 L1185.4,26.4 L1186.9,77.4 L1188.3,100.2 L1189.6,112.4 L1190.9,112.4 L1192.2,112.4 L1197,510.6 L717.5,510.6 Z" fill="#450457"/>
<path d="M717.5,16.4 L765.5,16.4 L813.4,16.4 L861.4,16.4 L909.3,16.4 L955.2,16.4 L957.2,16.4 L963.4,16.4 L971.6,16.4 L979.7,16.4 L987.9,16.4 L996.1,16.4 L1004.2,16.4 L1012.4,16.4 L1020.6,16.4 L1028.8,16.4 L1036.9,16.4 L1045.1,16.4 L1053.3,16.4 L1061.4,16.4 L1069.6,16.4 L1077.8,16.4 L1086,16.4 L1090.4,16.4 L1094.1,16.4 L1102.3,16.4 L1104.7,16.4 L1110.5,16.4 L1115.1,16.4 L1118.6,16.4 L1123.3,16.4 L1126.8,16.4 L1130,16.4 L1135,16.4 L1135.8,16.4 L1140.8,16.4 L1143.1,16.4 L1145.2,16.4 L1149.1,16.4 L1151.3,16.4 L1152.7,16.4 L1156,16.4 L1159.1,16.4 L1159.5,16.4 L1161.9,16.4 L1164.5,16.4 L1166.9,16.4 L1167.7,16.4 L1169.2,16.4 L1171.4,16.4 L1173.5,16.4 L1175.4,16.4 L1175.8,16.4 L1177.3,16.4 L1179.1,16.4 L1180.8,16.4 L1182.4,16.4 L1183.9,16.4 L1184,16.4 L1185.4,62.8 L1186.9,90.6 L1188.3,108.8 L1189.6,119 L1190.9,119 L1192.2,119 L1197,510.6 L717.5,510.6 Z" fill="#46075a"/>
<path d="M717.5,16.4 L765.5,16.4 L813.4,16.4 L861.4,16.4 L909.3,16.4 L955.2,16.4 L957.2,16.4 L963.4,16.4 L971.6,16.4 L979.7,16.4 L987.9,16.4 L996.1,16.4 L1004.2,16.4 L1012.4,16.4 L1020.6,16.4 L1028.8,16.4 L1036.9,16.4 L1045.1,16.4 L1053.3,16.4 L1061.4,16.4 L1069.6,16.4 L1077.8,16.4 L1086,16.4 L1090.4,16.4 L1094.1,16.4 L1102.3,16.4 L1104.7,16.4 L1110.5,16.4 L1115.1,16.4 L1118.6,16.4 L1123.3,16.4 L1126.8,16.4 L1130,16.4 L1135,16.4 L1135.8,16.4 L1140.8,16.4 L1143.1,16.4 L1145.2,16.4 L1149.1,16.4 L1151.3,16.4 L1152.7,16.4 L1156,16.4 L1159.1,16.4 L1159.5,16.4 L1161.9,16.4 L1164.5,16.4 L1166.9,16.4 L1167.7,16.4 L1169.2,16.4 L1171.4,16.4 L1173.5,16.4 L1175.4,16.4 L1175.8,16.4 L1177.3,16.4 L1179.1,16.4 L1180.8,16.4 L1182.4,16.4 L1183.9,32.2 L1184,35.1 L1185.4,79.1 L1186.9,101.1 L1188.3,115.9 L1189.6,125.1 L1190.9,125.1 L1192.2,125.1 L1197,510.6 L717.5,510.6 Z" fill="#460a5d"/>
<path d="M717.5,16.4 L765.5,16.4 L813.4,16.4 L861.4,16.4 L909.3,16.4 L955.2,16.4 L957.2,16.4 L963.4,16.4 L971.6,16.4 L979.7,16.4 L987.9,16.4 L996.1,16.4 L1004.2,16.4 L1012.4,16.4 L1020.6,16.4 L1028.8,16.4 L1036.9,16.4 L1045.1,16.4 L1053.3,16.4 L1061.4,16.4 L1069.6,16.4 L1077.8,16.4 L1086,16.4 L1090.4,16.4 L1094.1,16.4 L1102.3,16.4 L1104.7,16.4 L1110.5,16.4 L1115.1,16.4 L1118.6,16.4 L1123.3,16.4 L1126.8,16.4 L1130,16.4 L1135,16.4 L1135.8,16.4 L1140.8,16.4 L1143.1,16.4 L1145.2,16.4 L1149.1,16.4 L1151.3,16.4 L1152.7,16.4 L1156,16.4 L1159.1,16.4 L1159.5,16.4 L1161.9,16.4 L1164.5,16.4 L1166.9,16.4 L1167.7,16.4 L1169.2,16.4 L1171.4,16.4 L1173.5,16.4 L1175.4,16.4 L1175.8,16.4 L1177.3,16.4 L1179.1,16.4 L1180.8,16.4 L1182.4,16.4 L1183.9,65.3 L1184,66.4 L1185.4,91.9 L1186.9,109.6 L1188.3,122.2 L1189.6,130.8 L1190.9,130.8 L1192.2,130.8 L1197,510.6 L717.5,510.6 Z" fill="#470d60"/>
<path d="M717.5,16.4 L765.5,16.4 L813.4,16.4 L861.4,16.4 L909.3,16.4 L955.2,16.4 L957.2,16.4 L963.4,16.4 L971.6,16.4 L979.7,16.4 L987.9,16.4 L996.1,16.4 L1004.2,16.4 L1012.4,16.4 L1020.6,16.4 L1028.8,16.4 L1036.9,16.4 L1045.1,16.4 L1053.3,16.4 L1061.4,16.4 L1069.6,16.4 L1077.8,16.4 L1086,16.4 L1090.4,16.4 L1094.1,16.4 L1102.3,16.4 L1104.7,16.4 L1110.5,16.4 L1115.1,16.4 L1118.6,16.4 L1123.3,16.4 L1126.8,16.4 L1130,16.4 L1135,16.4 L1135.8,16.4 L1140.8,16.4 L1143.1,16.4 L1145.2,16.4 L1149.1,16.4 L1151.3,16.4 L1152.7,16.4 L1156,16.4 L1159.1,16.4 L1159.5,16.4 L1161.9,16.4 L1164.5,16.4 L1166.9,16.4 L1167.7,16.4 L1169.2,16.4 L1171.4,16.4 L1173.5,16.4 L1175.4,16.4 L1175.8,16.4 L1177.3,16.4 L1179.1,16.4 L1180.8,16.4 L1182.4,38.6 L1183.9,80.9 L1184,81.9 L1185.4,102.2 L1186.9,116.6 L1188.3,128.1 L1189.6,135.8 L1190.9,135.8 L1192.2,135.8 L1197,510.6 L717.5,510.6 Z" fill="#471063"/>
<path d="M717.5,16.4 L765.5,16.4 L813.4,16.4 L861.4,16.4 L909.3,16.4 L955.2,16.4 L957.2,16.4 L963.4,16.4 L971.6,16.4 L979.7,16.4 L987.9,16.4 L996.1,16.4 L1004.2,16.4 L1012.4,16.4 L1020.6,16.4 L1028.8,16.4 L1036.9,16.4 L1045.1,16.4 L1053.3,16.4 L1061.4,16.4 L1069.6,16.4 L1077.8,16.4 L1086,16.4 L1090.4,16.4 L1094.1,16.4 L1102.3,16.4 L1104.7,16.4 L1110.5,16.4 L1115.1,16.4 L1118.6,16.4 L1123.3,16.4 L1126.8,16.4 L1130,16.4 L1135,16.4 L1135.8,16.4 L1140.8,16.4 L1143.1,16.4 L1145.2,16.4 L1149.1,16.4 L1151.3,16.4 L1152.7,16.4 L1156,16.4 L1159.1,16.4 L1159.5,16.4 L1161.9,16.4 L1164.5,16.4 L1166.9,16.4 L1167.7,16.4 L1169.2,16.4 L1171.4,16.4 L1173.5,16.4 L1175.4,16.4 L1175.8,16.4 L1177.3,16.4 L1179.1,16.4 L1180.8,16.4 L1182.4,67.8 L1183.9,93.4 L1184,94.2 L1185.4,110.4 L1186.9,122.8 L1188.3,133.5 L1189.6,140.4 L1190.9,140.4 L1192.2,140.4 L1197,510.6 L717.5,510.6 Z" fill="#471365"/>
<path d="M717.5,16.4 L765.5,16.4 L813.4,16.4 L861.4,16.4 L909.3,16.4 L955.2,16.4 L957.2,16.4 L963.4,16.4 L971.6,16.4 L979.7,16.4 L987.9,16.4 L996.1,16.4 L1004.2,16.4 L1012.4,16.4 L1020.6,16.4 L1028.8,16.4 L1036.9,16.4 L1045.1,16.4 L1053.3,16.4 L1061.4,16.4 L1069.6,16.4 L1077.8,16.4 L1086,16.4 L1090.4,16.4 L1094.1,16.4 L1102.3,16.4 L1104.7,16.4 L1110.5,16.4 L1115.1,16.4 L1118.6,16.4 L1123.3,16.4 L1126.8,16.4 L1130,16.4 L1135,16.4 L1135.8,16.4 L1140.8,16.4 L1143.1,16.4 L1145.2,16.4 L1149.1,16.4 L1151.3,16.4 L1152.7,16.4 L1156,16.4 L1159.1,16.4 L1159.5,16.4 L1161.9,16.4 L1164.5,16.4 L1166.9,16.4 L1167.7,16.4 L1169.2,16.4 L1171.4,16.4 L1173.5,16.4 L1175.4,16.4 L1175.8,16.4 L1177.3,16.4 L1179.1,16.4 L1180.8,45.3 L1182.4,83 L1183.9,103.4 L1184,104 L1185.4,117.3 L1186.9,128.7 L1188.3,138.3 L1189.6,144.5 L1190.9,144.5 L1192.2,144.5 L1197,510.6 L717.5,510.6 Z" fill="#481668"/>
<path d="M717.5,16.4 L765.5,16.4 L813.4,16.4 L861.4,16.4 L909.3,16.4 L955.2,16.4 L957.2,16.4 L963.4,16.4 L971.6,16.4 L979.7,16.4 L987.9,16.4 L996.1,16.4 L1004.2,16.4 L1012.4,16.4 L1020.6,16.4 L1028.8,16.4 L1036.9,16.4 L1045.1,16.4 L1053.3,16.4 L1061.4,16.4 L1069.6,16.4 L1077.8,16.4 L1086,16.4 L1090.4,16.4 L1094.1,16.4 L1102.3,16.4 L1104.7,16.4 L1110.5,16.4 L1115.1,16.4 L1118.6,16.4 L1123.3,16.4 L1126.8,16.4 L1130,16.4 L1135,16.4 L1135.8,16.4 L1140.8,16.4 L1143.1,16.4 L1145.2,16.4 L1149.1,16.4 L1151.3,16.4 L1152.7,16.4 L1156,16.4 L1159.1,16.4 L1159.5,16.4 L1161.9,16.4 L1164.5,16.4 L1166.9,16.4 L1167.7,16.4 L1169.2,16.4 L1171.4,16.4 L1173.5,16.4 L1175.4,16.4 L1175.8,16.4 L1177.3,16.4 L1179.1,16.4 L1180.8,70.6 L1182.4,95.1 L1183.9,111.4 L1184,111.9 L1185.4,123.5 L1186.9,134 L1188.3,142.6 L1189.6,148.3 L1190.9,148.3 L1192.2,148.3 L1197,510.6 L717.5,510.6 Z" fill="#48186a"/>
<path d="M717.5,16.4 L765.5,16.4 L813.4,16.4 L861.4,16.4 L909.3,16.4 L955.2,16.4 L957.2,16.4 L963.4,16.4 L971.6,16.4 L979.7,16.4 L987.9,16.4 L996.1,16.4 L1004.2,16.4 L1012.4,16.4 L1020.6,16.4 L1028.8,16.4 L1036.9,16.4 L1045.1,16.4 L1053.3,16.4 L1061.4,16.4 L1069.6,16.4 L1077.8,16.4 L1086,16.4 L1090.4,16.4 L1094.1,16.4 L1102.3,16.4 L1104.7,16.4 L1110.5,16.4 L1115.1,16.4 L1118.6,16.4 L1123.3,16.4 L1126.8,16.4 L1130,16.4 L1135,16.4 L1135.8,16.4 L1140.8,16.4 L1143.1,16.4 L1145.2,16.4 L1149.1,16.4 L1151.3,16.4 L1152.7,16.4 L1156,16.4 L1159.1,16.4 L1159.5,16.4 L1161.9,16.4 L1164.5,16.4 L1166.9,16.4 L1167.7,16.4 L1169.2,16.4 L1171.4,16.4 L1173.5,16.4 L1175.4,16.4 L1175.8,16.4 L1177.3,16.4 L1179.1,52 L1180.8,85.2 L1182.4,104.7 L1183.9,118.2 L1184,118.6 L1185.4,129.3 L1186.9,138.7 L1188.3,146.6 L1189.6,152 L1190.9,152 L1192.2,152 L1197,510.6 L717.5,510.6 Z" fill="#481b6d"/>
<path d="M717.5,16.4 L765.5,16.4 L813.4,16.4 L861.4,16.4 L909.3,16.4 L955.2,16.4 L957.2,16.4 L963.4,16.4 L971.6,16.4 L979.7,16.4 L987.9,16.4 L996.1,16.4 L1004.2,16.4 L1012.4,16.4 L1020.6,16.4 L1028.8,16.4 L1036.9,16.4 L1045.1,16.4 L1053.3,16.4 L1061.4,16.4 L1069.6,16.4 L1077.8,16.4 L1086,16.4 L1090.4,16.4 L1094.1,16.4 L1102.3,16.4 L1104.7,16.4 L1110.5,16.4 L1115.1,16.4 L1118.6,16.4 L1123.3,16.4 L1126.8,16.4 L1130,16.4 L1135,16.4 L1135.8,16.4 L1140.8,16.4 L1143.1,16.4 L1145.2,16.4 L1149.1,16.4 L1151.3,16.4 L1152.7,16.4 L1156,16.4 L1159.1,16.4 L1159.5,16.4 L1161.9,16.4 L1164.5,16.4 L1166.9,16.4 L1167.7,16.4 L1169.2,16.4 L1171.4,16.4 L1173.5,16.4 L1175.4,16.4 L1175.8,16.4 L1177.3,19.2 L1179.1,73.4 L1180.8,96.8 L1182.4,112.5 L1183.9,124.3 L1184,124.7 L1185.4,134.5 L1186.9,143 L1188.3,150.3 L1189.6,155.5 L1190.9,155.5 L1192.2,155.5 L1197,510.6 L717.5,510.6 Z" fill="#481d6f"/>
<path d="M717.5,16.4 L765.5,16.4 L813.4,16.4 L861.4,16.4 L909.3,16.4 L955.2,16.4 L957.2,16.4 L963.4,16.4 L971.6,16.4 L979.7,16.4 L987.9,16.4 L996.1,16.4 L1004.2,16.4 L1012.4,16.4 L1020.6,16.4 L1028.8,16.4 L1036.9,16.4 L1045.1,16.4 L1053.3,16.4 L1061.4,16.4 L1069.6,16.4 L1077.8,16.4 L1086,16.4 L1090.4,16.4 L1094.1,16.4 L1102.3,16.4 L1104.7,16.4 L1110.5,16.4 L1115.1,16.4 L1118.6,16.4 L1123.3,16.4 L1126.8,16.4 L1130,16.4 L1135,16.4 L1135.8,16.4 L1140.8,16.4 L1143.1,16.4 L1145.2,16.4 L1149.1,16.4 L1151.3,16.4 L1152.7,16.4 L1156,16.4 L1159.1,16.4 L1159.5,16.4 L1161.9,16.4 L1164.5,16.4 L1166.9,16.4 L1167.7,16.4 L1169.2,16.4 L1171.4,16.4 L1173.5,16.4 L1175.4,16.4 L1175.8,16.4 L1177.3,58.6 L1179.1,87.4 L1180.8,106.1 L1182.4,119.1 L1183.9,130.1 L1184,130.4 L1185.4,139.2 L1186.9,146.9 L1188.3,153.8 L1189.6,159 L1190.9,159 L1192.2,159 L1197,510.6 L717.5,510.6 Z" fill="#482071"/>
<path d="M717.5,16.4 L765.5,16.4 L813.4,16.4 L861.4,16.4 L909.3,16.4 L955.2,16.4 L957.2,16.4 L963.4,16.4 L971.6,16.4 L979.7,16.4 L987.9,16.4 L996.1,16.4 L1004.2,16.4 L1012.4,16.4 L1020.6,16.4 L1028.8,16.4 L1036.9,16.4 L1045.1,16.4 L1053.3,16.4 L1061.4,16.4 L1069.6,16.4 L1077.8,16.4 L1086,16.4 L1090.4,16.4 L1094.1,16.4 L1102.3,16.4 L1104.7,16.4 L1110.5,16.4 L1115.1,16.4 L1118.6,16.4 L1123.3,16.4 L1126.8,16.4 L1130,16.4 L1135,16.4 L1135.8,16.4 L1140.8,16.4 L1143.1,16.4 L1145.2,16.4 L1149.1,16.4 L1151.3,16.4 L1152.7,16.4 L1156,16.4 L1159.1,16.4 L1159.5,16.4 L1161.9,16.4 L1164.5,16.4 L1166.9,16.4 L1167.7,16.4 L1169.2,16.4 L1171.4,16.4 L1173.5,16.4 L1175.4,29.2 L1175.8,44.9 L1177.3,76.6 L1179.1,98.6 L1180.8,113.6 L1182.4,125.2 L1183.9,135.2 L1184,135.5 L1185.4,143.5 L1186.9,150.6 L1188.3,157.3 L1189.6,162.7 L1190.9,162.7 L1192.2,162.7 L1197,510.6 L717.5,510.6 Z" fill="#482374"/>
<path d="M717.5,16.4 L765.5,16.4 L813.4,16.4 L861.4,16.4 L909.3,16.4 L955.2,16.4 L957.2,16.4 L963.4,16.4 L971.6,16.4 L979.7,16.4 L987.9,16.4 L996.1,16.4 L1004.2,16.4 L1012.4,16.4 L1020.6,16.4 L1028.8,16.4 L1036.9,16.4 L1045.1,16.4 L1053.3,16.4 L1061.4,16.4 L1069.6,16.4 L1077.8,16.4 L1086,16.4 L1090.4,16.4 L1094.1,16.4 L1102.3,16.4 L1104.7,16.4 L1110.5,16.4 L1115.1,16.4 L1118.6,16.4 L1123.3,16.4 L1126.8,16.4 L1130,16.4 L1135,16.4 L1135.8,16.4 L1140.8,16.4 L1143.1,16.4 L1145.2,16.4 L1149.1,16.4 L1151.3,16.4 L1152.7,16.4 L1156,16.4 L1159.1,16.4 L1159.5,16.4 L1161.9,16.4 L1164.5,16.4 L1166.9,16.4 L1167.7,16.4 L1169.2,16.4 L1171.4,16.4 L1173.5,16.4 L1175.4,64 L1175.8,70.4 L1177.3,90 L1179.1,107.5 L1180.8,120.1 L1182.4,130.9 L1183.9,139.8 L1184,140.1 L1185.4,147.4 L1186.9,154.2 L1188.3,160.9 L1189.6,166.5 L1190.9,166.5 L1192.2,166.5 L1197,510.6 L717.5,510.6 Z" fill="#482576"/>
<path d="M717.5,16.4 L765.5,16.4 L813.4,16.4 L861.4,16.4 L909.3,16.4 L955.2,16.4 L957.2,16.4 L963.4,16.4 L971.6,16.4 L979.7,16.4 L987.9,16.4 L996.1,16.4 L1004.2,16.4 L1012.4,16.4 L1020.6,16.4 L1028.8,16.4 L1036.9,16.4 L1045.1,16.4 L1053.3,16.4 L1061.4,16.4 L1069.6,16.4 L1077.8,16.4 L1086,16.4 L1090.4,16.4 L1094.1,16.4 L1102.3,16.4 L1104.7,16.4 L1110.5,16.4 L1115.1,16.4 L1118.6,16.4 L1123.3,16.4 L1126.8,16.4 L1130,16.4 L1135,16.4 L1135.8,16.4 L1140.8,16.4 L1143.1,16.4 L1145.2,16.4 L1149.1,16.4 L1151.3,16.4 L1152.7,16.4 L1156,16.4 L1159.1,16.4 L1159.5,16.4 L1161.9,16.4 L1164.5,16.4 L1166.9,16.4 L1167.7,16.4 L1169.2,16.4 L1171.4,16.4 L1173.5,39.3 L1175.4,80 L1175.8,85 L1177.3,100.6 L1179.1,114.9 L1180.8,126.2 L1182.4,135.9 L1183.9,144 L1184,144.3 L1185.4,151 L1186.9,157.7 L1188.3,164.7 L1189.6,170.5 L1190.9,170.5 L1192.2,170.5 L1197,510.6 L717.5,510.6 Z" fill="#482878"/>
<path d="M717.5,16.4 L765.5,16.4 L813.4,16.4 L861.4,16.4 L909.3,16.4 L955.2,16.4 L957.2,16.4 L963.4,16.4 L971.6,16.4 L979.7,16.4 L987.9,16.4 L996.1,16.4 L1004.2,16.4 L1012.4,16.4 L1020.6,16.4 L1028.8,16.4 L1036.9,16.4 L1045.1,16.4 L1053.3,16.4 L1061.4,16.4 L1069.6,16.4 L1077.8,16.4 L1086,16.4 L1090.4,16.4 L1094.1,16.4 L1102.3,16.4 L1104.7,16.4 L1110.5,16.4 L1115.1,16.4 L1118.6,16.4 L1123.3,16.4 L1126.8,16.4 L1130,16.4 L1135,16.4 L1135.8,16.4 L1140.8,16.4 L1143.1,16.4 L1145.2,16.4 L1149.1,16.4 L1151.3,16.4 L1152.7,16.4 L1156,16.4 L1159.1,16.4 L1159.5,16.4 L1161.9,16.4 L1164.5,16.4 L1166.9,16.4 L1167.7,16.4 L1169.2,16.4 L1171.4,16.4 L1173.5,68.1 L1175.4,92.7 L1175.8,96.7 L1177.3,109.2 L1179.1,121.2 L1180.8,131.7 L1182.4,140.5 L1183.9,147.9 L1184,148.1 L1185.4,154.6 L1186.9,161.3 L1188.3,168.6 L1189.6,174.6 L1190.9,174.6 L1192.2,174.6 L1197,510.6 L717.5,510.6 Z" fill="#472a7a"/>
<path d="M717.5,16.4 L765.5,16.4 L813.4,16.4 L861.4,16.4 L909.3,16.4 L955.2,16.4 L957.2,16.4 L963.4,16.4 L971.6,16.4 L979.7,16.4 L987.9,16.4 L996.1,16.4 L1004.2,16.4 L1012.4,16.4 L1020.6,16.4 L1028.8,16.4 L1036.9,16.4 L1045.1,16.4 L1053.3,16.4 L1061.4,16.4 L1069.6,16.4 L1077.8,16.4 L1086,16.4 L1090.4,16.4 L1094.1,16.4 L1102.3,16.4 L1104.7,16.4 L1110.5,16.4 L1115.1,16.4 L1118.6,16.4 L1123.3,16.4 L1126.8,16.4 L1130,16.4 L1135,16.4 L1135.8,16.4 L1140.8,16.4 L1143.1,16.4 L1145.2,16.4 L1149.1,16.4 L1151.3,16.4 L1152.7,16.4 L1156,16.4 L1159.1,16.4 L1159.5,16.4 L1161.9,16.4 L1164.5,16.4 L1166.9,16.4 L1167.7,16.4 L1169.2,16.4 L1171.4,48.3 L1173.5,83.2 L1175.4,102.8 L1175.8,106 L1177.3,116.2 L1179.1,127.2 L1180.8,136.7 L1182.4,144.6 L1183.9,151.5 L1184,151.7 L1185.4,158.1 L1186.9,165 L1188.3,172.6 L1189.6,178.6 L1190.9,178.6 L1192.2,178.6 L1197,510.6 L717.5,510.6 Z" fill="#472d7b"/>
<path d="M717.5,16.4 L765.5,16.4 L813.4,16.4 L861.4,16.4 L909.3,16.4 L955.2,16.4 L957.2,16.4 L963.4,16.4 L971.6,16.4 L979.7,16.4 L987.9,16.4 L996.1,16.4 L1004.2,16.4 L1012.4,16.4 L1020.6,16.4 L1028.8,16.4 L1036.9,16.4 L1045.1,16.4 L1053.3,16.4 L1061.4,16.4 L1069.6,16.4 L1077.8,16.4 L1086,16.4 L1090.4,16.4 L1094.1,16.4 L1102.3,16.4 L1104.7,16.4 L1110.5,16.4 L1115.1,16.4 L1118.6,16.4 L1123.3,16.4 L1126.8,16.4 L1130,16.4 L1135,16.4 L1135.8,16.4 L1140.8,16.4 L1143.1,16.4 L1145.2,16.4 L1149.1,16.4 L1151.3,16.4 L1152.7,16.4 L1156,16.4 L1159.1,16.4 L1159.5,16.4 L1161.9,16.4 L1164.5,16.4 L1166.9,16.4 L1167.7,16.4 L1169.2,16.4 L1171.4,71.8 L1173.5,95.2 L1175.4,110.9 L1175.8,113.6 L1177.3,122.5 L1179.1,132.7 L1180.8,141.2 L1182.4,148.4 L1183.9,155 L1184,155.3 L1185.4,161.7 L1186.9,169 L1188.3,176.7 L1189.6,182.7 L1190.9,182.7 L1192.2,182.7 L1197,510.6 L717.5,510.6 Z" fill="#472f7d"/>
<path d="M717.5,16.4 L765.5,16.4 L813.4,16.4 L861.4,16.4 L909.3,16.4 L955.2,16.4 L957.2,16.4 L963.4,16.4 L971.6,16.4 L979.7,16.4 L987.9,16.4 L996.1,16.4 L1004.2,16.4 L1012.4,16.4 L1020.6,16.4 L1028.8,16.4 L1036.9,16.4 L1045.1,16.4 L1053.3,16.4 L1061.4,16.4 L1069.6,16.4 L1077.8,16.4 L1086,16.4 L1090.4,16.4 L1094.1,16.4 L1102.3,16.4 L1104.7,16.4 L1110.5,16.4 L1115.1,16.4 L1118.6,16.4 L1123.3,16.4 L1126.8,16.4 L1130,16.4 L1135,16.4 L1135.8,16.4 L1140.8,16.4 L1143.1,16.4 L1145.2,16.4 L1149.1,16.4 L1151.3,16.4 L1152.7,16.4 L1156,16.4 L1159.1,16.4 L1159.5,16.4 L1161.9,16.4 L1164.5,16.4 L1166.9,16.4 L1167.7,16.4 L1169.2,56.4 L1171.4,86.2 L1173.5,104.8 L1175.4,117.7 L1175.8,120.1 L1177.3,128.4 L1179.1,137.5 L1180.8,145.2 L1182.4,152 L1183.9,158.6 L1184,158.8 L1185.4,165.5 L1186.9,173 L1188.3,180.8 L1189.6,186.8 L1190.9,186.8 L1192.2,186.8 L1197,510.6 L717.5,510.6 Z" fill="#46327e"/>
<path d="M717.5,16.4 L765.5,16.4 L813.4,16.4 L861.4,16.4 L909.3,16.4 L955.2,16.4 L957.2,16.4 L963.4,16.4 L971.6,16.4 L979.7,16.4 L987.9,16.4 L996.1,16.4 L1004.2,16.4 L1012.4,16.4 L1020.6,16.4 L1028.8,16.4 L1036.9,16.4 L1045.1,16.4 L1053.3,16.4 L1061.4,16.4 L1069.6,16.4 L1077.8,16.4 L1086,16.4 L1090.4,16.4 L1094.1,16.4 L1102.3,16.4 L1104.7,16.4 L1110.5,16.4 L1115.1,16.4 L1118.6,16.4 L1123.3,16.4 L1126.8,16.4 L1130,16.4 L1135,16.4 L1135.8,16.4 L1140.8,16.4 L1143.1,16.4 L1145.2,16.4 L1149.1,16.4 L1151.3,16.4 L1152.7,16.4 L1156,16.4 L1159.1,16.4 L1159.5,16.4 L1161.9,16.4 L1164.5,16.4 L1166.9,26.1 L1167.7,48.7 L1169.2,75.4 L1171.4,97.6 L1173.5,112.6 L1175.4,123.9 L1175.8,126.1 L1177.3,133.7 L1179.1,141.9 L1180.8,149 L1182.4,155.6 L1183.9,162.2 L1184,162.4 L1185.4,169.5 L1186.9,177.1 L1188.3,184.8 L1189.6,190.8 L1190.9,190.8 L1192.2,190.8 L1197,510.6 L717.5,510.6 Z" fill="#463480"/>
<path d="M717.5,16.4 L765.5,16.4 L813.4,16.4 L861.4,16.4 L909.3,16.4 L955.2,16.4 L957.2,16.4 L963.4,16.4 L971.6,16.4 L979.7,16.4 L987.9,16.4 L996.1,16.4 L1004.2,16.4 L1012.4,16.4 L1020.6,16.4 L1028.8,16.4 L1036.9,16.4 L1045.1,16.4 L1053.3,16.4 L1061.4,16.4 L1069.6,16.4 L1077.8,16.4 L1086,16.4 L1090.4,16.4 L1094.1,16.4 L1102.3,16.4 L1104.7,16.4 L1110.5,16.4 L1115.1,16.4 L1118.6,16.4 L1123.3,16.4 L1126.8,16.4 L1130,16.4 L1135,16.4 L1135.8,16.4 L1140.8,16.4 L1143.1,16.4 L1145.2,16.4 L1149.1,16.4 L1151.3,16.4 L1152.7,16.4 L1156,16.4 L1159.1,16.4 L1159.5,16.4 L1161.9,16.4 L1164.5,16.4 L1166.9,62.6 L1167.7,72 L1169.2,89.1 L1171.4,106.7 L1173.5,119.2 L1175.4,129.7 L1175.8,131.7 L1177.3,138.5 L1179.1,145.9 L1180.8,152.6 L1182.4,159.1 L1183.9,166 L1184,166.3 L1185.4,173.5 L1186.9,181.1 L1188.3,188.9 L1189.6,194.9 L1190.9,194.9 L1192.2,194.9 L1197,510.6 L717.5,510.6 Z" fill="#453781"/>
<path d="M717.5,16.4 L765.5,16.4 L813.4,16.4 L861.4,16.4 L909.3,16.4 L955.2,16.4 L957.2,16.4 L963.4,16.4 L971.6,16.4 L979.7,16.4 L987.9,16.4 L996.1,16.4 L1004.2,16.4 L1012.4,16.4 L1020.6,16.4 L1028.8,16.4 L1036.9,16.4 L1045.1,16.4 L1053.3,16.4 L1061.4,16.4 L1069.6,16.4 L1077.8,16.4 L1086,16.4 L1090.4,16.4 L1094.1,16.4 L1102.3,16.4 L1104.7,16.4 L1110.5,16.4 L1115.1,16.4 L1118.6,16.4 L1123.3,16.4 L1126.8,16.4 L1130,16.4 L1135,16.4 L1135.8,16.4 L1140.8,16.4 L1143.1,16.4 L1145.2,16.4 L1149.1,16.4 L1151.3,16.4 L1152.7,16.4 L1156,16.4 L1159.1,16.4 L1159.5,16.4 L1161.9,16.4 L1164.5,35.8 L1166.9,78.9 L1167.7,86.3 L1169.2,99.9 L1171.4,114.2 L1173.5,125.3 L1175.4,134.9 L1175.8,136.6 L1177.3,142.8 L1179.1,149.7 L1180.8,156.1 L1182.4,162.7 L1183.9,170 L1184,170.3 L1185.4,177.6 L1186.9,185.2 L1188.3,193 L1189.6,198.9 L1190.9,198.9 L1192.2,198.9 L1197,510.6 L717.5,510.6 Z" fill="#443983"/>
<path d="M717.5,16.4 L765.5,16.4 L813.4,16.4 L861.4,16.4 L909.3,16.4 L955.2,16.4 L957.2,16.4 L963.4,16.4 L971.6,16.4 L979.7,16.4 L987.9,16.4 L996.1,16.4 L1004.2,16.4 L1012.4,16.4 L1020.6,16.4 L1028.8,16.4 L1036.9,16.4 L1045.1,16.4 L1053.3,16.4 L1061.4,16.4 L1069.6,16.4 L1077.8,16.4 L1086,16.4 L1090.4,16.4 L1094.1,16.4 L1102.3,16.4 L1104.7,16.4 L1110.5,16.4 L1115.1,16.4 L1118.6,16.4 L1123.3,16.4 L1126.8,16.4 L1130,16.4 L1135,16.4 L1135.8,16.4 L1140.8,16.4 L1143.1,16.4 L1145.2,16.4 L1149.1,16.4 L1151.3,16.4 L1152.7,16.4 L1156,16.4 L1159.1,16.4 L1159.5,16.4 L1161.9,16.4 L1164.5,66.7 L1166.9,91.8 L1167.7,97.7 L1169.2,108.6 L1171.4,120.6 L1173.5,130.9 L1175.4,139.5 L1175.8,141.1 L1177.3,146.7 L1179.1,153.3 L1180.8,159.7 L1182.4,166.6 L1183.9,174 L1184,174.3 L1185.4,181.6 L1186.9,189.3 L1188.3,197 L1189.6,202.9 L1190.9,202.9 L1192.2,202.9 L1197,510.6 L717.5,510.6 Z" fill="#443b84"/>
<path d="M717.5,16.4 L765.5,16.4 L813.4,16.4 L861.4,16.4 L909.3,16.4 L955.2,16.4 L957.2,16.4 L963.4,16.4 L971.6,16.4 L979.7,16.4 L987.9,16.4 L996.1,16.4 L1004.2,16.4 L1012.4,16.4 L1020.6,16.4 L1028.8,16.4 L1036.9,16.4 L1045.1,16.4 L1053.3,16.4 L1061.4,16.4 L1069.6,16.4 L1077.8,16.4 L1086,16.4 L1090.4,16.4 L1094.1,16.4 L1102.3,16.4 L1104.7,16.4 L1110.5,16.4 L1115.1,16.4 L1118.6,16.4 L1123.3,16.4 L1126.8,16.4 L1130,16.4 L1135,16.4 L1135.8,16.4 L1140.8,16.4 L1143.1,16.4 L1145.2,16.4 L1149.1,16.4 L1151.3,16.4 L1152.7,16.4 L1156,16.4 L1159.1,16.4 L1159.5,16.4 L1161.9,44.3 L1164.5,82.1 L1166.9,102.1 L1167.7,106.8 L1169.2,115.7 L1171.4,126.6 L1173.5,136 L1175.4,143.7 L1175.8,145.2 L1177.3,150.4 L1179.1,156.8 L1180.8,163.4 L1182.4,170.6 L1183.9,178.1 L1184,178.4 L1185.4,185.7 L1186.9,193.4 L1188.3,201 L1189.6,206.9 L1190.9,206.9 L1192.2,206.9 L1197,510.6 L717.5,510.6 Z" fill="#433e85"/>
<path d="M717.5,16.4 L765.5,16.4 L813.4,16.4 L861.4,16.4 L909.3,16.4 L955.2,16.4 L957.2,16.4 L963.4,16.4 L971.6,16.4 L979.7,16.4 L987.9,16.4 L996.1,16.4 L1004.2,16.4 L1012.4,16.4 L1020.6,16.4 L1028.8,16.4 L1036.9,16.4 L1045.1,16.4 L1053.3,16.4 L1061.4,16.4 L1069.6,16.4 L1077.8,16.4 L1086,16.4 L1090.4,16.4 L1094.1,16.4 L1102.3,16.4 L1104.7,16.4 L1110.5,16.4 L1115.1,16.4 L1118.6,16.4 L1123.3,16.4 L1126.8,16.4 L1130,16.4 L1135,16.4 L1135.8,16.4 L1140.8,16.4 L1143.1,16.4 L1145.2,16.4 L1149.1,16.4 L1151.3,16.4 L1152.7,16.4 L1156,16.4 L1159.1,16.4 L1159.5,20.7 L1161.9,70.2 L1164.5,94.4 L1166.9,110.4 L1167.7,114.2 L1169.2,122 L1171.4,132.1 L1173.5,140.5 L1175.4,147.6 L1175.8,149 L1177.3,154 L1179.1,160.3 L1180.8,167.3 L1182.4,174.6 L1183.9,182.2 L1184,182.4 L1185.4,189.8 L1186.9,197.4 L1188.3,205 L1189.6,210.8 L1190.9,210.8 L1192.2,210.8 L1197,510.6 L717.5,510.6 Z" fill="#424086"/>
<path d="M717.5,16.4 L765.5,16.4 L813.4,16.4 L861.4,16.4 L909.3,16.4 L955.2,16.4 L957.2,16.4 L963.4,16.4 L971.6,16.4 L979.7,16.4 L987.9,16.4 L996.1,16.4 L1004.2,16.4 L1012.4,16.4 L1020.6,16.4 L1028.8,16.4 L1036.9,16.4 L1045.1,16.4 L1053.3,16.4 L1061.4,16.4 L1069.6,16.4 L1077.8,16.4 L1086,16.4 L1090.4,16.4 L1094.1,16.4 L1102.3,16.4 L1104.7,16.4 L1110.5,16.4 L1115.1,16.4 L1118.6,16.4 L1123.3,16.4 L1126.8,16.4 L1130,16.4 L1135,16.4 L1135.8,16.4 L1140.8,16.4 L1143.1,16.4 L1145.2,16.4 L1149.1,16.4 L1151.3,16.4 L1152.7,16.4 L1156,16.4 L1159.1,50.9 L1159.5,59.6 L1161.9,84.8 L1164.5,104.1 L1166.9,117.3 L1167.7,120.7 L1169.2,128 L1171.4,137 L1173.5,144.6 L1175.4,151.3 L1175.8,152.6 L1177.3,157.5 L1179.1,164 L1180.8,171.3 L1182.4,178.7 L1183.9,186.2 L1184,186.5 L1185.4,193.8 L1186.9,201.4 L1188.3,209 L1189.6,214.7 L1190.9,214.7 L1192.2,214.7 L1197,510.6 L717.5,510.6 Z" fill="#414287"/>
<path d="M717.5,16.4 L765.5,16.4 L813.4,16.4 L861.4,16.4 L909.3,16.4 L955.2,16.4 L957.2,16.4 L963.4,16.4 L971.6,16.4 L979.7,16.4 L987.9,16.4 L996.1,16.4 L1004.2,16.4 L1012.4,16.4 L1020.6,16.4 L1028.8,16.4 L1036.9,16.4 L1045.1,16.4 L1053.3,16.4 L1061.4,16.4 L1069.6,16.4 L1077.8,16.4 L1086,16.4 L1090.4,16.4 L1094.1,16.4 L1102.3,16.4 L1104.7,16.4 L1110.5,16.4 L1115.1,16.4 L1118.6,16.4 L1123.3,16.4 L1126.8,16.4 L1130,16.4 L1135,16.4 L1135.8,16.4 L1140.8,16.4 L1143.1,16.4 L1145.2,16.4 L1149.1,16.4 L1151.3,16.4 L1152.7,16.4 L1156,16.4 L1159.1,72.9 L1159.5,77.1 L1161.9,96.5 L1164.5,112 L1166.9,123.4 L1167.7,126.7 L1169.2,133.3 L1171.4,141.5 L1173.5,148.5 L1175.4,154.8 L1175.8,156.1 L1177.3,161.1 L1179.1,168 L1180.8,175.3 L1182.4,182.8 L1183.9,190.3 L1184,190.6 L1185.4,197.9 L1186.9,205.4 L1188.3,212.9 L1189.6,218.5 L1190.9,218.5 L1192.2,218.5 L1197,510.6 L717.5,510.6 Z" fill="#404588"/>
<path d="M717.5,16.4 L765.5,16.4 L813.4,16.4 L861.4,16.4 L909.3,16.4 L955.2,16.4 L957.2,16.4 L963.4,16.4 L971.6,16.4 L979.7,16.4 L987.9,16.4 L996.1,16.4 L1004.2,16.4 L1012.4,16.4 L1020.6,16.4 L1028.8,16.4 L1036.9,16.4 L1045.1,16.4 L1053.3,16.4 L1061.4,16.4 L1069.6,16.4 L1077.8,16.4 L1086,16.4 L1090.4,16.4 L1094.1,16.4 L1102.3,16.4 L1104.7,16.4 L1110.5,16.4 L1115.1,16.4 L1118.6,16.4 L1123.3,16.4 L1126.8,16.4 L1130,16.4 L1135,16.4 L1135.8,16.4 L1140.8,16.4 L1143.1,16.4 L1145.2,16.4 L1149.1,16.4 L1151.3,16.4 L1152.7,16.4 L1156,55.3 L1159.1,87 L1159.5,90.4 L1161.9,105.9 L1164.5,118.7 L1166.9,129.3 L1167.7,132.2 L1169.2,138.1 L1171.4,145.5 L1173.5,152.1 L1175.4,158.3 L1175.8,159.6 L1177.3,164.8 L1179.1,172 L1180.8,179.4 L1182.4,186.8 L1183.9,194.4 L1184,194.6 L1185.4,201.9 L1186.9,209.4 L1188.3,216.7 L1189.6,222.3 L1190.9,222.3 L1192.2,222.3 L1197,510.6 L717.5,510.6 Z" fill="#3f4788"/>
<path d="M717.5,16.4 L765.5,16.4 L813.4,16.4 L861.4,16.4 L909.3,16.4 L955.2,16.4 L957.2,16.4 L963.4,16.4 L971.6,16.4 L979.7,16.4 L987.9,16.4 L996.1,16.4 L1004.2,16.4 L1012.4,16.4 L1020.6,16.4 L1028.8,16.4 L1036.9,16.4 L1045.1,16.4 L1053.3,16.4 L1061.4,16.4 L1069.6,16.4 L1077.8,16.4 L1086,16.4 L1090.4,16.4 L1094.1,16.4 L1102.3,16.4 L1104.7,16.4 L1110.5,16.4 L1115.1,16.4 L1118.6,16.4 L1123.3,16.4 L1126.8,16.4 L1130,16.4 L1135,16.4 L1135.8,16.4 L1140.8,16.4 L1143.1,16.4 L1145.2,16.4 L1149.1,16.4 L1151.3,16.4 L1152.7,18.4 L1156,74.9 L1159.1,98.3 L1159.5,100.9 L1161.9,113.5 L1164.5,124.8 L1166.9,134.5 L1167.7,137.1 L1169.2,142.5 L1171.4,149.3 L1173.5,155.6 L1175.4,161.9 L1175.8,163.3 L1177.3,168.8 L1179.1,176 L1180.8,183.4 L1182.4,190.9 L1183.9,198.4 L1184,198.7 L1185.4,205.9 L1186.9,213.3 L1188.3,220.5 L1189.6,225.9 L1190.9,225.9 L1192.2,225.9 L1197,510.6 L717.5,510.6 Z" fill="#3e4989"/>
<path d="M717.5,16.4 L765.5,16.4 L813.4,16.4 L861.4,16.4 L909.3,16.4 L955.2,16.4 L957.2,16.4 L963.4,16.4 L971.6,16.4 L979.7,16.4 L987.9,16.4 L996.1,16.4 L1004.2,16.4 L1012.4,16.4 L1020.6,16.4 L1028.8,16.4 L1036.9,16.4 L1045.1,16.4 L1053.3,16.4 L1061.4,16.4 L1069.6,16.4 L1077.8,16.4 L1086,16.4 L1090.4,16.4 L1094.1,16.4 L1102.3,16.4 L1104.7,16.4 L1110.5,16.4 L1115.1,16.4 L1118.6,16.4 L1123.3,16.4 L1126.8,16.4 L1130,16.4 L1135,16.4 L1135.8,16.4 L1140.8,16.4 L1143.1,16.4 L1145.2,16.4 L1149.1,16.4 L1151.3,27.7 L1152.7,58.1 L1156,88.6 L1159.1,107.3 L1159.5,109.4 L1161.9,120 L1164.5,130.5 L1166.9,139.2 L1167.7,141.5 L1169.2,146.4 L1171.4,152.9 L1173.5,159.2 L1175.4,165.7 L1175.8,167.2 L1177.3,172.8 L1179.1,180.1 L1180.8,187.5 L1182.4,195 L1183.9,202.4 L1184,202.7 L1185.4,209.8 L1186.9,217.1 L1188.3,224.2 L1189.6,229.5 L1190.9,229.5 L1192.2,229.5 L1197,510.6 L717.5,510.6 Z" fill="#3e4c8a"/>
<path d="M717.5,16.4 L765.5,16.4 L813.4,16.4 L861.4,16.4 L909.3,16.4 L955.2,16.4 L957.2,16.4 L963.4,16.4 L971.6,16.4 L979.7,16.4 L987.9,16.4 L996.1,16.4 L1004.2,16.4 L1012.4,16.4 L1020.6,16.4 L1028.8,16.4 L1036.9,16.4 L1045.1,16.4 L1053.3,16.4 L1061.4,16.4 L1069.6,16.4 L1077.8,16.4 L1086,16.4 L1090.4,16.4 L1094.1,16.4 L1102.3,16.4 L1104.7,16.4 L1110.5,16.4 L1115.1,16.4 L1118.6,16.4 L1123.3,16.4 L1126.8,16.4 L1130,16.4 L1135,16.4 L1135.8,16.4 L1140.8,16.4 L1143.1,16.4 L1145.2,16.4 L1149.1,21.2 L1151.3,63.4 L1152.7,76.3 L1156,99.5 L1159.1,114.6 L1159.5,116.5 L1161.9,126 L1164.5,135.6 L1166.9,143.4 L1167.7,145.6 L1169.2,150.2 L1171.4,156.4 L1173.5,162.8 L1175.4,169.7 L1175.8,171.2 L1177.3,176.9 L1179.1,184.2 L1180.8,191.6 L1182.4,199 L1183.9,206.4 L1184,206.7 L1185.4,213.7 L1186.9,220.9 L1188.3,227.8 L1189.6,233 L1190.9,233 L1192.2,233 L1197,510.6 L717.5,510.6 Z" fill="#3d4e8a"/>
<path d="M717.5,16.4 L765.5,16.4 L813.4,16.4 L861.4,16.4 L909.3,16.4 L955.2,16.4 L957.2,16.4 L963.4,16.4 L971.6,16.4 L979.7,16.4 L987.9,16.4 L996.1,16.4 L1004.2,16.4 L1012.4,16.4 L1020.6,16.4 L1028.8,16.4 L1036.9,16.4 L1045.1,16.4 L1053.3,16.4 L1061.4,16.4 L1069.6,16.4 L1077.8,16.4 L1086,16.4 L1090.4,16.4 L1094.1,16.4 L1102.3,16.4 L1104.7,16.4 L1110.5,16.4 L1115.1,16.4 L1118.6,16.4 L1123.3,16.4 L1126.8,16.4 L1130,16.4 L1135,16.4 L1135.8,16.4 L1140.8,16.4 L1143.1,16.4 L1145.2,16.4 L1149.1,60 L1151.3,79.5 L1152.7,89.7 L1156,108.3 L1159.1,121 L1159.5,122.7 L1161.9,131.6 L1164.5,140.2 L1166.9,147.3 L1167.7,149.3 L1169.2,153.7 L1171.4,160 L1173.5,166.7 L1175.4,173.8 L1175.8,175.3 L1177.3,180.9 L1179.1,188.2 L1180.8,195.6 L1182.4,203 L1183.9,210.3 L1184,210.6 L1185.4,217.5 L1186.9,224.6 L1188.3,231.4 L1189.6,236.4 L1190.9,236.4 L1192.2,236.4 L1197,510.6 L717.5,510.6 Z" fill="#3c508b"/>
<path d="M717.5,16.4 L765.5,16.4 L813.4,16.4 L861.4,16.4 L909.3,16.4 L955.2,16.4 L957.2,16.4 L963.4,16.4 L971.6,16.4 L979.7,16.4 L987.9,16.4 L996.1,16.4 L1004.2,16.4 L1012.4,16.4 L1020.6,16.4 L1028.8,16.4 L1036.9,16.4 L1045.1,16.4 L1053.3,16.4 L1061.4,16.4 L1069.6,16.4 L1077.8,16.4 L1086,16.4 L1090.4,16.4 L1094.1,16.4 L1102.3,16.4 L1104.7,16.4 L1110.5,16.4 L1115.1,16.4 L1118.6,16.4 L1123.3,16.4 L1126.8,16.4 L1130,16.4 L1135,16.4 L1135.8,16.4 L1140.8,16.4 L1143.1,16.4 L1145.2,23.5 L1149.1,77.3 L1151.3,92.3 L1152.7,100.4 L1156,115.5 L1159.1,127 L1159.5,128.6 L1161.9,136.6 L1164.5,144.3 L1166.9,151 L1167.7,152.9 L1169.2,157.2 L1171.4,163.6 L1173.5,170.7 L1175.4,177.8 L1175.8,179.3 L1177.3,185 L1179.1,192.3 L1180.8,199.7 L1182.4,207 L1183.9,214.2 L1184,214.5 L1185.4,221.3 L1186.9,228.2 L1188.3,234.8 L1189.6,239.7 L1190.9,239.7 L1192.2,239.7 L1197,510.6 L717.5,510.6 Z" fill="#3b528b"/>
<path d="M717.5,16.4 L765.5,16.4 L813.4,16.4 L861.4,16.4 L909.3,16.4 L955.2,16.4 L957.2,16.4 L963.4,16.4 L971.6,16.4 L979.7,16.4 L987.9,16.4 L996.1,16.4 L1004.2,16.4 L1012.4,16.4 L1020.6,16.4 L1028.8,16.4 L1036.9,16.4 L1045.1,16.4 L1053.3,16.4 L1061.4,16.4 L1069.6,16.4 L1077.8,16.4 L1086,16.4 L1090.4,16.4 L1094.1,16.4 L1102.3,16.4 L1104.7,16.4 L1110.5,16.4 L1115.1,16.4 L1118.6,16.4 L1123.3,16.4 L1126.8,16.4 L1130,16.4 L1135,16.4 L1135.8,16.4 L1140.8,16.4 L1143.1,26.8 L1145.2,61.3 L1149.1,90.5 L1151.3,102.5 L1152.7,109 L1156,121.8 L1159.1,132.5 L1159.5,133.9 L1161.9,141.1 L1164.5,148.2 L1166.9,154.5 L1167.7,156.5 L1169.2,160.8 L1171.4,167.6 L1173.5,174.7 L1175.4,181.9 L1175.8,183.4 L1177.3,189.1 L1179.1,196.4 L1180.8,203.7 L1182.4,210.9 L1183.9,218 L1184,218.3 L1185.4,225 L1186.9,231.7 L1188.3,238.1 L1189.6,242.8 L1190.9,242.8 L1192.2,242.8 L1197,510.6 L717.5,510.6 Z" fill="#3a548c"/>
<path d="M717.5,16.4 L765.5,16.4 L813.4,16.4 L861.4,16.4 L909.3,16.4 L955.2,16.4 L957.2,16.4 L963.4,16.4 L971.6,16.4 L979.7,16.4 L987.9,16.4 L996.1,16.4 L1004.2,16.4 L1012.4,16.4 L1020.6,16.4 L1028.8,16.4 L1036.9,16.4 L1045.1,16.4 L1053.3,16.4 L1061.4,16.4 L1069.6,16.4 L1077.8,16.4 L1086,16.4 L1090.4,16.4 L1094.1,16.4 L1102.3,16.4 L1104.7,16.4 L1110.5,16.4 L1115.1,16.4 L1118.6,16.4 L1123.3,16.4 L1126.8,16.4 L1130,16.4 L1135,16.4 L1135.8,16.4 L1140.8,25.7 L1143.1,63 L1145.2,78.1 L1149.1,101.1 L1151.3,110.7 L1152.7,116.1 L1156,127.8 L1159.1,137.4 L1159.5,138.6 L1161.9,145.1 L1164.5,151.8 L1166.9,158.1 L1167.7,160 L1169.2,164.5 L1171.4,171.6 L1173.5,178.8 L1175.4,186 L1175.8,187.5 L1177.3,193.1 L1179.1,200.4 L1180.8,207.6 L1182.4,214.8 L1183.9,221.8 L1184,222 L1185.4,228.6 L1186.9,235.1 L1188.3,241.3 L1189.6,245.8 L1190.9,245.8 L1192.2,245.8 L1197,510.6 L717.5,510.6 Z" fill="#39568c"/>
<path d="M717.5,16.4 L765.5,16.4 L813.4,16.4 L861.4,16.4 L909.3,16.4 L955.2,16.4 L957.2,16.4 L963.4,16.4 L971.6,16.4 L979.7,16.4 L987.9,16.4 L996.1,16.4 L1004.2,16.4 L1012.4,16.4 L1020.6,16.4 L1028.8,16.4 L1036.9,16.4 L1045.1,16.4 L1053.3,16.4 L1061.4,16.4 L1069.6,16.4 L1077.8,16.4 L1086,16.4 L1090.4,16.4 L1094.1,16.4 L1102.3,16.4 L1104.7,16.4 L1110.5,16.4 L1115.1,16.4 L1118.6,16.4 L1123.3,16.4 L1126.8,16.4 L1130,16.4 L1135,16.4 L1135.8,16.4 L1140.8,62.5 L1143.1,79.2 L1145.2,91.2 L1149.1,109.5 L1151.3,117.5 L1152.7,122.4 L1156,133.1 L1159.1,141.8 L1159.5,142.9 L1161.9,148.9 L1164.5,155.3 L1166.9,161.7 L1167.7,163.7 L1169.2,168.5 L1171.4,175.6 L1173.5,182.8 L1175.4,190 L1175.8,191.5 L1177.3,197.2 L1179.1,204.4 L1180.8,211.6 L1182.4,218.6 L1183.9,225.5 L1184,225.7 L1185.4,232.1 L1186.9,238.4 L1188.3,244.4 L1189.6,248.7 L1190.9,248.7 L1192.2,248.7 L1197,510.6 L717.5,510.6 Z" fill="#38588c"/>
<path d="M717.5,16.4 L765.5,16.4 L813.4,16.4 L861.4,16.4 L909.3,16.4 L955.2,16.4 L957.2,16.4 L963.4,16.4 L971.6,16.4 L979.7,16.4 L987.9,16.4 L996.1,16.4 L1004.2,16.4 L1012.4,16.4 L1020.6,16.4 L1028.8,16.4 L1036.9,16.4 L1045.1,16.4 L1053.3,16.4 L1061.4,16.4 L1069.6,16.4 L1077.8,16.4 L1086,16.4 L1090.4,16.4 L1094.1,16.4 L1102.3,16.4 L1104.7,16.4 L1110.5,16.4 L1115.1,16.4 L1118.6,16.4 L1123.3,16.4 L1126.8,16.4 L1130,16.4 L1135,18.2 L1135.8,29.8 L1140.8,78.8 L1143.1,92 L1145.2,101.6 L1149.1,116.5 L1151.3,123.7 L1152.7,128.3 L1156,138 L1159.1,145.8 L1159.5,146.9 L1161.9,152.5 L1164.5,158.9 L1166.9,165.4 L1167.7,167.6 L1169.2,172.5 L1171.4,179.7 L1173.5,186.9 L1175.4,194.1 L1175.8,195.6 L1177.3,201.2 L1179.1,208.3 L1180.8,215.4 L1182.4,222.3 L1183.9,229.1 L1184,229.3 L1185.4,235.5 L1186.9,241.6 L1188.3,247.3 L1189.6,251.4 L1190.9,251.4 L1192.2,251.4 L1197,510.6 L717.5,510.6 Z" fill="#375a8c"/>
<path d="M717.5,16.4 L765.5,16.4 L813.4,16.4 L861.4,16.4 L909.3,16.4 L955.2,16.4 L957.2,16.4 L963.4,16.4 L971.6,16.4 L979.7,16.4 L987.9,16.4 L996.1,16.4 L1004.2,16.4 L1012.4,16.4 L1020.6,16.4 L1028.8,16.4 L1036.9,16.4 L1045.1,16.4 L1053.3,16.4 L1061.4,16.4 L1069.6,16.4 L1077.8,16.4 L1086,16.4 L1090.4,16.4 L1094.1,16.4 L1102.3,16.4 L1104.7,16.4 L1110.5,16.4 L1115.1,16.4 L1118.6,16.4 L1123.3,16.4 L1126.8,16.4 L1130,16.4 L1135,58 L1135.8,64.3 L1140.8,91.7 L1143.1,102.3 L1145.2,109.9 L1149.1,122.8 L1151.3,129.5 L1152.7,133.6 L1156,142.3 L1159.1,149.6 L1159.5,150.6 L1161.9,156.1 L1164.5,162.5 L1166.9,169.4 L1167.7,171.6 L1169.2,176.6 L1171.4,183.8 L1173.5,191 L1175.4,198.1 L1175.8,199.6 L1177.3,205.2 L1179.1,212.2 L1180.8,219.2 L1182.4,226 L1183.9,232.6 L1184,232.8 L1185.4,238.8 L1186.9,244.7 L1188.3,250.1 L1189.6,254 L1190.9,254 L1192.2,254 L1197,510.6 L717.5,510.6 Z" fill="#365c8d"/>
<path d="M717.5,16.4 L765.5,16.4 L813.4,16.4 L861.4,16.4 L909.3,16.4 L955.2,16.4 L957.2,16.4 L963.4,16.4 L971.6,16.4 L979.7,16.4 L987.9,16.4 L996.1,16.4 L1004.2,16.4 L1012.4,16.4 L1020.6,16.4 L1028.8,16.4 L1036.9,16.4 L1045.1,16.4 L1053.3,16.4 L1061.4,16.4 L1069.6,16.4 L1077.8,16.4 L1086,16.4 L1090.4,16.4 L1094.1,16.4 L1102.3,16.4 L1104.7,16.4 L1110.5,16.4 L1115.1,16.4 L1118.6,16.4 L1123.3,16.4 L1126.8,16.4 L1130,37.5 L1135,76.2 L1135.8,80.2 L1140.8,102 L1143.1,110.5 L1145.2,116.9 L1149.1,128.7 L1151.3,134.7 L1152.7,138.4 L1156,146.3 L1159.1,153.1 L1159.5,154.1 L1161.9,159.6 L1164.5,166.3 L1166.9,173.5 L1167.7,175.7 L1169.2,180.6 L1171.4,187.8 L1173.5,195 L1175.4,202.1 L1175.8,203.6 L1177.3,209.1 L1179.1,216.1 L1180.8,222.9 L1182.4,229.6 L1183.9,236 L1184,236.2 L1185.4,242 L1186.9,247.6 L1188.3,252.8 L1189.6,256.6 L1190.9,256.6 L1192.2,256.6 L1197,510.6 L717.5,510.6 Z" fill="#355e8d"/>
<path d="M717.5,16.4 L765.5,16.4 L813.4,16.4 L861.4,16.4 L909.3,16.4 L955.2,16.4 L957.2,16.4 L963.4,16.4 L971.6,16.4 L979.7,16.4 L987.9,16.4 L996.1,16.4 L1004.2,16.4 L1012.4,16.4 L1020.6,16.4 L1028.8,16.4 L1036.9,16.4 L1045.1,16.4 L1053.3,16.4 L1061.4,16.4 L1069.6,16.4 L1077.8,16.4 L1086,16.4 L1090.4,16.4 L1094.1,16.4 L1102.3,16.4 L1104.7,16.4 L1110.5,16.4 L1115.1,16.4 L1118.6,16.4 L1123.3,16.4 L1126.8,41.5 L1130,67.4 L1135,89.7 L1135.8,92.8 L1140.8,110.3 L1143.1,117.4 L1145.2,123.1 L1149.1,133.9 L1151.3,139.4 L1152.7,142.7 L1156,150 L1159.1,156.7 L1159.5,157.6 L1161.9,163.3 L1164.5,170.3 L1166.9,177.5 L1167.7,179.7 L1169.2,184.7 L1171.4,191.9 L1173.5,199.1 L1175.4,206.1 L1175.8,207.6 L1177.3,213 L1179.1,219.9 L1180.8,226.6 L1182.4,233.1 L1183.9,239.2 L1184,239.5 L1185.4,245 L1186.9,250.4 L1188.3,255.4 L1189.6,259.2 L1190.9,259.2 L1192.2,259.2 L1197,510.6 L717.5,510.6 Z" fill="#34608d"/>
<path d="M717.5,16.4 L765.5,16.4 L813.4,16.4 L861.4,16.4 L909.3,16.4 L955.2,16.4 L957.2,16.4 L963.4,16.4 L971.6,16.4 L979.7,16.4 L987.9,16.4 L996.1,16.4 L1004.2,16.4 L1012.4,16.4 L1020.6,16.4 L1028.8,16.4 L1036.9,16.4 L1045.1,16.4 L1053.3,16.4 L1061.4,16.4 L1069.6,16.4 L1077.8,16.4 L1086,16.4 L1090.4,16.4 L1094.1,16.4 L1102.3,16.4 L1104.7,16.4 L1110.5,16.4 L1115.1,16.4 L1118.6,16.4 L1123.3,44.5 L1126.8,69 L1130,82.7 L1135,100.4 L1135.8,102.9 L1140.8,117.2 L1143.1,123.6 L1145.2,129 L1149.1,138.7 L1151.3,143.6 L1152.7,146.6 L1156,153.6 L1159.1,160.2 L1159.5,161.2 L1161.9,167.2 L1164.5,174.4 L1166.9,181.6 L1167.7,183.8 L1169.2,188.8 L1171.4,195.9 L1173.5,203.1 L1175.4,210.1 L1175.8,211.5 L1177.3,216.9 L1179.1,223.6 L1180.8,230.2 L1182.4,236.4 L1183.9,242.4 L1184,242.6 L1185.4,247.9 L1186.9,253.1 L1188.3,258 L1189.6,261.7 L1190.9,261.7 L1192.2,261.7 L1197,510.6 L717.5,510.6 Z" fill="#33628d"/>
<path d="M717.5,16.4 L765.5,16.4 L813.4,16.4 L861.4,16.4 L909.3,16.4 L955.2,16.4 L957.2,16.4 L963.4,16.4 L971.6,16.4 L979.7,16.4 L987.9,16.4 L996.1,16.4 L1004.2,16.4 L1012.4,16.4 L1020.6,16.4 L1028.8,16.4 L1036.9,16.4 L1045.1,16.4 L1053.3,16.4 L1061.4,16.4 L1069.6,16.4 L1077.8,16.4 L1086,16.4 L1090.4,16.4 L1094.1,16.4 L1102.3,16.4 L1104.7,16.4 L1110.5,16.4 L1115.1,16.4 L1118.6,38.9 L1123.3,70.2 L1126.8,83.9 L1130,94.8 L1135,109 L1135.8,111 L1140.8,123.4 L1143.1,129.4 L1145.2,134.2 L1149.1,143 L1151.3,147.5 L1152.7,150.4 L1156,157.1 L1159.1,163.9 L1159.5,165 L1161.9,171.2 L1164.5,178.4 L1166.9,185.7 L1167.7,187.9 L1169.2,192.8 L1171.4,200 L1173.5,207.1 L1175.4,213.9 L1175.8,215.4 L1177.3,220.7 L1179.1,227.2 L1180.8,233.6 L1182.4,239.7 L1183.9,245.4 L1184,245.6 L1185.4,250.7 L1186.9,255.6 L1188.3,260.5 L1189.6,264.3 L1190.9,264.3 L1192.2,264.3 L1197,510.6 L717.5,510.6 Z" fill="#32648e"/>
<path d="M717.5,16.4 L765.5,16.4 L813.4,16.4 L861.4,16.4 L909.3,16.4 L955.2,16.4 L957.2,16.4 L963.4,16.4 L971.6,16.4 L979.7,16.4 L987.9,16.4 L996.1,16.4 L1004.2,16.4 L1012.4,16.4 L1020.6,16.4 L1028.8,16.4 L1036.9,16.4 L1045.1,16.4 L1053.3,16.4 L1061.4,16.4 L1069.6,16.4 L1077.8,16.4 L1086,16.4 L1090.4,16.4 L1094.1,16.4 L1102.3,16.4 L1104.7,16.4 L1110.5,16.4 L1115.1,46.5 L1118.6,67.9 L1123.3,84.9 L1126.8,95.8 L1130,104.5 L1135,116.1 L1135.8,117.8 L1140.8,129.2 L1143.1,134.6 L1145.2,138.9 L1149.1,146.9 L1151.3,151.1 L1152.7,153.9 L1156,160.7 L1159.1,167.8 L1159.5,168.9 L1161.9,175.2 L1164.5,182.5 L1166.9,189.7 L1167.7,191.9 L1169.2,196.9 L1171.4,204 L1173.5,211 L1175.4,217.8 L1175.8,219.2 L1177.3,224.4 L1179.1,230.8 L1180.8,237 L1182.4,242.9 L1183.9,248.3 L1184,248.5 L1185.4,253.4 L1186.9,258.2 L1188.3,263.1 L1189.6,267 L1190.9,267 L1192.2,267 L1197,510.6 L717.5,510.6 Z" fill="#31668e"/>
<path d="M717.5,16.4 L765.5,16.4 L813.4,16.4 L861.4,16.4 L909.3,16.4 L955.2,16.4 L957.2,16.4 L963.4,16.4 L971.6,16.4 L979.7,16.4 L987.9,16.4 L996.1,16.4 L1004.2,16.4 L1012.4,16.4 L1020.6,16.4 L1028.8,16.4 L1036.9,16.4 L1045.1,16.4 L1053.3,16.4 L1061.4,16.4 L1069.6,16.4 L1077.8,16.4 L1086,16.4 L1090.4,16.4 L1094.1,16.4 L1102.3,16.4 L1104.7,16.4 L1110.5,46.2 L1115.1,71 L1118.6,83.1 L1123.3,96.6 L1126.8,105.3 L1130,112.3 L1135,122.3 L1135.8,124 L1140.8,134.5 L1143.1,139.3 L1145.2,143.2 L1149.1,150.6 L1151.3,154.7 L1152.7,157.4 L1156,164.4 L1159.1,171.9 L1159.5,173 L1161.9,179.3 L1164.5,186.6 L1166.9,193.8 L1167.7,196 L1169.2,200.9 L1171.4,207.9 L1173.5,214.8 L1175.4,221.5 L1175.8,222.9 L1177.3,228 L1179.1,234.2 L1180.8,240.2 L1182.4,245.9 L1183.9,251.1 L1184,251.2 L1185.4,255.9 L1186.9,260.7 L1188.3,265.7 L1189.6,269.7 L1190.9,269.7 L1192.2,269.7 L1197,510.6 L717.5,510.6 Z" fill="#31688e"/>
<path d="M717.5,16.4 L765.5,16.4 L813.4,16.4 L861.4,16.4 L909.3,16.4 L955.2,16.4 L957.2,16.4 L963.4,16.4 L971.6,16.4 L979.7,16.4 L987.9,16.4 L996.1,16.4 L1004.2,16.4 L1012.4,16.4 L1020.6,16.4 L1028.8,16.4 L1036.9,16.4 L1045.1,16.4 L1053.3,16.4 L1061.4,16.4 L1069.6,16.4 L1077.8,16.4 L1086,16.4 L1090.4,16.4 L1094.1,16.4 L1102.3,19.7 L1104.7,39.5 L1110.5,70.9 L1115.1,85.6 L1118.6,95.1 L1123.3,105.9 L1126.8,113 L1130,119 L1135,128.3 L1135.8,129.8 L1140.8,139.1 L1143.1,143.5 L1145.2,147.1 L1149.1,154.2 L1151.3,158.2 L1152.7,161 L1156,168.3 L1159.1,175.9 L1159.5,177 L1161.9,183.3 L1164.5,190.7 L1166.9,197.8 L1167.7,200 L1169.2,204.9 L1171.4,211.9 L1173.5,218.7 L1175.4,225.2 L1175.8,226.6 L1177.3,231.5 L1179.1,237.6 L1180.8,243.4 L1182.4,248.7 L1183.9,253.7 L1184,253.9 L1185.4,258.5 L1186.9,263.3 L1188.3,268.4 L1189.6,272.5 L1190.9,272.5 L1192.2,272.5 L1197,510.6 L717.5,510.6 Z" fill="#306a8e"/>
<path d="M717.5,16.4 L765.5,16.4 L813.4,16.4 L861.4,16.4 L909.3,16.4 L955.2,16.4 L957.2,16.4 L963.4,16.4 L971.6,16.4 L979.7,16.4 L987.9,16.4 L996.1,16.4 L1004.2,16.4 L1012.4,16.4 L1020.6,16.4 L1028.8,16.4 L1036.9,16.4 L1045.1,16.4 L1053.3,16.4 L1061.4,16.4 L1069.6,16.4 L1077.8,16.4 L1086,16.4 L1090.4,16.4 L1094.1,16.4 L1102.3,59 L1104.7,68.2 L1110.5,85.5 L1115.1,97.1 L1118.6,104.7 L1123.3,113.5 L1126.8,119.5 L1130,125 L1135,133.6 L1135.8,134.9 L1140.8,143.4 L1143.1,147.4 L1145.2,150.8 L1149.1,157.7 L1151.3,161.8 L1152.7,164.8 L1156,172.4 L1159.1,180 L1159.5,181.1 L1161.9,187.4 L1164.5,194.7 L1166.9,201.9 L1167.7,204 L1169.2,208.9 L1171.4,215.7 L1173.5,222.4 L1175.4,228.8 L1175.8,230.1 L1177.3,234.9 L1179.1,240.8 L1180.8,246.4 L1182.4,251.5 L1183.9,256.3 L1184,256.5 L1185.4,261 L1186.9,265.9 L1188.3,271.2 L1189.6,275.3 L1190.9,275.3 L1192.2,275.3 L1197,510.6 L717.5,510.6 Z" fill="#2f6c8e"/>
<path d="M717.5,16.4 L765.5,16.4 L813.4,16.4 L861.4,16.4 L909.3,16.4 L955.2,16.4 L957.2,16.4 L963.4,16.4 L971.6,16.4 L979.7,16.4 L987.9,16.4 L996.1,16.4 L1004.2,16.4 L1012.4,16.4 L1020.6,16.4 L1028.8,16.4 L1036.9,16.4 L1045.1,16.4 L1053.3,16.4 L1061.4,16.4 L1069.6,16.4 L1077.8,16.4 L1086,16.4 L1090.4,16.4 L1094.1,42.1 L1102.3,76.8 L1104.7,83.3 L1110.5,97 L1115.1,106.3 L1118.6,112.5 L1123.3,120 L1126.8,125.6 L1130,130.7 L1135,138.4 L1135.8,139.6 L1140.8,147.3 L1143.1,151.1 L1145.2,154.3 L1149.1,161.3 L1151.3,165.6 L1152.7,168.7 L1156,176.4 L1159.1,184 L1159.5,185.2 L1161.9,191.5 L1164.5,198.7 L1166.9,205.8 L1167.7,208 L1169.2,212.8 L1171.4,219.5 L1173.5,226.1 L1175.4,232.3 L1175.8,233.6 L1177.3,238.3 L1179.1,243.9 L1180.8,249.2 L1182.4,254.1 L1183.9,258.8 L1184,259 L1185.4,263.6 L1186.9,268.6 L1188.3,274 L1189.6,278.2 L1190.9,278.2 L1192.2,278.2 L1197,510.6 L717.5,510.6 Z" fill="#2e6e8e"/>
<path d="M717.5,16.4 L765.5,16.4 L813.4,16.4 L861.4,16.4 L909.3,16.4 L955.2,16.4 L957.2,16.4 L963.4,16.4 L971.6,16.4 L979.7,16.4 L987.9,16.4 L996.1,16.4 L1004.2,16.4 L1012.4,16.4 L1020.6,16.4 L1028.8,16.4 L1036.9,16.4 L1045.1,16.4 L1053.3,16.4 L1061.4,16.4 L1069.6,16.4 L1077.8,16.4 L1086,27 L1090.4,55.7 L1094.1,69.2 L1102.3,90.1 L1104.7,95.3 L1110.5,106.3 L1115.1,113.8 L1118.6,119.2 L1123.3,126 L1126.8,131.2 L1130,135.8 L1135,142.7 L1135.8,143.8 L1140.8,151 L1143.1,154.6 L1145.2,157.9 L1149.1,165 L1151.3,169.6 L1152.7,172.7 L1156,180.5 L1159.1,188.1 L1159.5,189.2 L1161.9,195.5 L1164.5,202.8 L1166.9,209.8 L1167.7,211.9 L1169.2,216.6 L1171.4,223.2 L1173.5,229.6 L1175.4,235.7 L1175.8,237 L1177.3,241.5 L1179.1,246.9 L1180.8,251.9 L1182.4,256.7 L1183.9,261.4 L1184,261.6 L1185.4,266.2 L1186.9,271.4 L1188.3,276.8 L1189.6,281.1 L1190.9,281.1 L1192.2,281.1 L1197,510.6 L717.5,510.6 Z" fill="#2d708e"/>
<path d="M717.5,16.4 L765.5,16.4 L813.4,16.4 L861.4,16.4 L909.3,16.4 L955.2,16.4 L957.2,16.4 L963.4,16.4 L971.6,16.4 L979.7,16.4 L987.9,16.4 L996.1,16.4 L1004.2,16.4 L1012.4,16.4 L1020.6,16.4 L1028.8,16.4 L1036.9,16.4 L1045.1,16.4 L1053.3,16.4 L1061.4,16.4 L1069.6,16.4 L1077.8,19.5 L1086,63.1 L1090.4,75.1 L1094.1,84.1 L1102.3,100.7 L1104.7,104.9 L1110.5,113.8 L1115.1,120.3 L1118.6,125.2 L1123.3,131.6 L1126.8,136.2 L1130,140.3 L1135,146.6 L1135.8,147.6 L1140.8,154.5 L1143.1,158.1 L1145.2,161.5 L1149.1,169 L1151.3,173.6 L1152.7,176.8 L1156,184.6 L1159.1,192.2 L1159.5,193.3 L1161.9,199.6 L1164.5,206.7 L1166.9,213.7 L1167.7,215.8 L1169.2,220.4 L1171.4,226.9 L1173.5,233.1 L1175.4,239 L1175.8,240.2 L1177.3,244.5 L1179.1,249.7 L1180.8,254.5 L1182.4,259.2 L1183.9,264 L1184,264.1 L1185.4,269 L1186.9,274.3 L1188.3,279.7 L1189.6,284 L1190.9,284 L1192.2,284 L1197,510.6 L717.5,510.6 Z" fill="#2c718e"/>
<path d="M717.5,16.4 L765.5,16.4 L813.4,16.4 L861.4,16.4 L909.3,16.4 L955.2,16.4 L957.2,16.4 L963.4,16.4 L971.6,16.4 L979.7,16.4 L987.9,16.4 L996.1,16.4 L1004.2,16.4 L1012.4,16.4 L1020.6,16.4 L1028.8,16.4 L1036.9,16.4 L1045.1,16.4 L1053.3,16.4 L1061.4,16.4 L1069.6,20 L1077.8,58.8 L1086,79.2 L1090.4,88.8 L1094.1,96 L1102.3,109.2 L1104.7,112.6 L1110.5,120.3 L1115.1,126.3 L1118.6,130.9 L1123.3,136.6 L1126.8,140.8 L1130,144.5 L1135,150.3 L1135.8,151.3 L1140.8,158 L1143.1,161.7 L1145.2,165.2 L1149.1,173 L1151.3,177.7 L1152.7,180.9 L1156,188.6 L1159.1,196.2 L1159.5,197.3 L1161.9,203.6 L1164.5,210.7 L1166.9,217.5 L1167.7,219.5 L1169.2,224.1 L1171.4,230.4 L1173.5,236.5 L1175.4,242.2 L1175.8,243.3 L1177.3,247.5 L1179.1,252.4 L1180.8,257.1 L1182.4,261.8 L1183.9,266.6 L1184,266.8 L1185.4,271.8 L1186.9,277.1 L1188.3,282.6 L1189.6,286.9 L1190.9,286.9 L1192.2,286.9 L1197,510.6 L717.5,510.6 Z" fill="#2c738e"/>
<path d="M717.5,16.4 L765.5,16.4 L813.4,16.4 L861.4,16.4 L909.3,16.4 L955.2,16.4 L957.2,16.4 L963.4,16.4 L971.6,16.4 L979.7,16.4 L987.9,16.4 L996.1,16.4 L1004.2,16.4 L1012.4,16.4 L1020.6,16.4 L1028.8,16.4 L1036.9,16.4 L1045.1,16.4 L1053.3,16.4 L1061.4,27.1 L1069.6,59.2 L1077.8,76.7 L1086,92.1 L1090.4,99.7 L1094.1,105.4 L1102.3,116.3 L1104.7,119.2 L1110.5,126.3 L1115.1,131.9 L1118.6,135.9 L1123.3,141.1 L1126.8,144.9 L1130,148.3 L1135,153.9 L1135.8,154.8 L1140.8,161.6 L1143.1,165.5 L1145.2,169.2 L1149.1,177.1 L1151.3,181.7 L1152.7,184.9 L1156,192.7 L1159.1,200.3 L1159.5,201.4 L1161.9,207.5 L1164.5,214.5 L1166.9,221.3 L1167.7,223.3 L1169.2,227.7 L1171.4,233.9 L1173.5,239.8 L1175.4,245.2 L1175.8,246.3 L1177.3,250.2 L1179.1,255 L1180.8,259.6 L1182.4,264.4 L1183.9,269.3 L1184,269.5 L1185.4,274.6 L1186.9,280 L1188.3,285.5 L1189.6,289.9 L1190.9,289.9 L1192.2,289.9 L1197,510.6 L717.5,510.6 Z" fill="#2b758e"/>
<path d="M717.5,16.4 L765.5,16.4 L813.4,16.4 L861.4,16.4 L909.3,16.4 L955.2,16.4 L957.2,16.4 L963.4,16.4 L971.6,16.4 L979.7,16.4 L987.9,16.4 L996.1,16.4 L1004.2,16.4 L1012.4,16.4 L1020.6,16.4 L1028.8,16.4 L1036.9,16.4 L1045.1,16.4 L1053.3,37.9 L1061.4,63.1 L1069.6,76.9 L1077.8,90 L1086,102.3 L1090.4,108.4 L1094.1,113.1 L1102.3,122.6 L1104.7,125.3 L1110.5,131.9 L1115.1,136.8 L1118.6,140.5 L1123.3,145.2 L1126.8,148.7 L1130,151.9 L1135,157.4 L1135.8,158.4 L1140.8,165.4 L1143.1,169.5 L1145.2,173.2 L1149.1,181.1 L1151.3,185.8 L1152.7,189 L1156,196.7 L1159.1,204.3 L1159.5,205.3 L1161.9,211.5 L1164.5,218.4 L1166.9,224.9 L1167.7,226.9 L1169.2,231.2 L1171.4,237.2 L1173.5,242.9 L1175.4,248.1 L1175.8,249.2 L1177.3,252.9 L1179.1,257.5 L1180.8,262.2 L1182.4,267 L1183.9,272.1 L1184,272.3 L1185.4,277.4 L1186.9,282.9 L1188.3,288.5 L1189.6,292.9 L1190.9,292.9 L1192.2,292.9 L1197,510.6 L717.5,510.6 Z" fill="#2a778e"/>
<path d="M717.5,16.4 L765.5,16.4 L813.4,16.4 L861.4,16.4 L909.3,16.4 L955.2,16.4 L957.2,16.4 L963.4,16.4 L971.6,16.4 L979.7,16.4 L987.9,16.4 L996.1,16.4 L1004.2,16.4 L1012.4,16.4 L1020.6,16.4 L1028.8,16.4 L1036.9,31.8 L1045.1,52.4 L1053.3,67.6 L1061.4,79.3 L1069.6,90.2 L1077.8,100.7 L1086,110.5 L1090.4,115.6 L1094.1,119.6 L1102.3,128.5 L1104.7,131 L1110.5,136.8 L1115.1,141.3 L1118.6,144.6 L1123.3,148.9 L1126.8,152.3 L1130,155.5 L1135,161 L1135.8,162 L1140.8,169.4 L1143.1,173.5 L1145.2,177.3 L1149.1,185.2 L1151.3,189.9 L1152.7,193.1 L1156,200.8 L1159.1,208.2 L1159.5,209.3 L1161.9,215.3 L1164.5,222.1 L1166.9,228.6 L1167.7,230.5 L1169.2,234.7 L1171.4,240.5 L1173.5,245.9 L1175.4,250.9 L1175.8,251.9 L1177.3,255.5 L1179.1,260.1 L1180.8,264.8 L1182.4,269.7 L1183.9,275 L1184,275.2 L1185.4,280.3 L1186.9,285.8 L1188.3,291.5 L1189.6,295.9 L1190.9,295.9 L1192.2,295.9 L1197,510.6 L717.5,510.6 Z" fill="#29798e"/>
<path d="M717.5,16.4 L765.5,16.4 L813.4,16.4 L861.4,16.4 L909.3,16.4 L955.2,16.4 L957.2,16.4 L963.4,16.4 L971.6,16.4 L979.7,16.4 L987.9,16.4 L996.1,18.5 L1004.2,24.9 L1012.4,33.2 L1020.6,43.6 L1028.8,55.2 L1036.9,65.1 L1045.1,73.6 L1053.3,82.8 L1061.4,92.1 L1069.6,100.8 L1077.8,109.2 L1086,117.4 L1090.4,121.9 L1094.1,125.7 L1102.3,133.8 L1104.7,136 L1110.5,141.3 L1115.1,145.3 L1118.6,148.4 L1123.3,152.5 L1126.8,155.8 L1130,159 L1135,164.7 L1135.8,165.8 L1140.8,173.4 L1143.1,177.6 L1145.2,181.3 L1149.1,189.3 L1151.3,193.9 L1152.7,197.1 L1156,204.8 L1159.1,212.1 L1159.5,213.2 L1161.9,219.1 L1164.5,225.8 L1166.9,232.1 L1167.7,233.9 L1169.2,238 L1171.4,243.6 L1173.5,248.8 L1175.4,253.5 L1175.8,254.5 L1177.3,258.1 L1179.1,262.6 L1180.8,267.4 L1182.4,272.6 L1183.9,277.8 L1184,278 L1185.4,283.2 L1186.9,288.8 L1188.3,294.5 L1189.6,299 L1190.9,299 L1192.2,299 L1197,510.6 L717.5,510.6 Z" fill="#297b8e"/>
<path d="M717.5,37.8 L765.5,37.9 L813.4,38 L861.4,38.5 L909.3,40 L955.2,45 L957.2,45.4 L963.4,46.7 L971.6,48.8 L979.7,51.5 L987.9,54.6 L996.1,58.2 L1004.2,62.1 L1012.4,65.7 L1020.6,69.9 L1028.8,74.9 L1036.9,80.8 L1045.1,87.6 L1053.3,94.9 L1061.4,102.3 L1069.6,109.3 L1077.8,116.3 L1086,123.6 L1090.4,127.8 L1094.1,131.3 L1102.3,138.5 L1104.7,140.5 L1110.5,145.3 L1115.1,149.1 L1118.6,152.1 L1123.3,156.1 L1126.8,159.3 L1130,162.6 L1135,168.7 L1135.8,169.8 L1140.8,177.5 L1143.1,181.7 L1145.2,185.4 L1149.1,193.3 L1151.3,198 L1152.7,201.1 L1156,208.7 L1159.1,216 L1159.5,217 L1161.9,222.9 L1164.5,229.4 L1166.9,235.5 L1167.7,237.3 L1169.2,241.2 L1171.4,246.6 L1173.5,251.5 L1175.4,256.1 L1175.8,257.1 L1177.3,260.6 L1179.1,265.2 L1180.8,270.2 L1182.4,275.4 L1183.9,280.7 L1184,280.9 L1185.4,286.1 L1186.9,291.7 L1188.3,297.5 L1189.6,302.1 L1190.9,302.1 L1192.2,302.1 L1197,510.6 L717.5,510.6 Z" fill="#287d8e"/>
<path d="M717.5,67.5 L765.5,67.5 L813.4,67.6 L861.4,67.8 L909.3,68.4 L955.2,70.4 L957.2,70.6 L963.4,71.1 L971.6,72 L979.7,73.2 L987.9,74.6 L996.1,76.4 L1004.2,78.6 L1012.4,81.3 L1020.6,84.6 L1028.8,88.6 L1036.9,93.3 L1045.1,98.7 L1053.3,104.5 L1061.4,110.5 L1069.6,116.4 L1077.8,122.5 L1086,129.4 L1090.4,133.2 L1094.1,136.3 L1102.3,142.8 L1104.7,144.7 L1110.5,149.1 L1115.1,152.7 L1118.6,155.6 L1123.3,159.6 L1126.8,163 L1130,166.5 L1135,172.7 L1135.8,173.8 L1140.8,181.6 L1143.1,185.7 L1145.2,189.5 L1149.1,197.4 L1151.3,202 L1152.7,205.1 L1156,212.6 L1159.1,219.8 L1159.5,220.8 L1161.9,226.5 L1164.5,232.8 L1166.9,238.8 L1167.7,240.5 L1169.2,244.3 L1171.4,249.4 L1173.5,254.1 L1175.4,258.7 L1175.8,259.6 L1177.3,263.2 L1179.1,267.9 L1180.8,273 L1182.4,278.2 L1183.9,283.6 L1184,283.8 L1185.4,289.1 L1186.9,294.8 L1188.3,300.6 L1189.6,305 L1190.9,305 L1192.2,305 L1197,510.6 L717.5,510.6 Z" fill="#277f8e"/>
<path d="M717.5,82.8 L765.5,82.8 L813.4,82.8 L861.4,83 L909.3,83.5 L955.2,85.1 L957.2,85.2 L963.4,85.6 L971.6,86.3 L979.7,87.2 L987.9,88.4 L996.1,89.8 L1004.2,91.5 L1012.4,93.7 L1020.6,96.3 L1028.8,99.5 L1036.9,103.3 L1045.1,107.6 L1053.3,112.4 L1061.4,117.4 L1069.6,122.6 L1077.8,128.4 L1086,134.6 L1090.4,138 L1094.1,140.8 L1102.3,146.8 L1104.7,148.5 L1110.5,152.7 L1115.1,156.2 L1118.6,159.1 L1123.3,163.3 L1126.8,166.9 L1130,170.5 L1135,176.8 L1135.8,177.9 L1140.8,185.6 L1143.1,189.8 L1145.2,193.6 L1149.1,201.4 L1151.3,206 L1152.7,209.1 L1156,216.5 L1159.1,223.5 L1159.5,224.5 L1161.9,230.1 L1164.5,236.2 L1166.9,242 L1167.7,243.6 L1169.2,247.2 L1171.4,252.1 L1173.5,256.7 L1175.4,261.2 L1175.8,262.2 L1177.3,265.8 L1179.1,270.7 L1180.8,275.9 L1182.4,281.1 L1183.9,286.5 L1184,286.7 L1185.4,292.1 L1186.9,297.8 L1188.3,303.6 L1189.6,308 L1190.9,308 L1192.2,308 L1197,510.6 L717.5,510.6 Z" fill="#26818e"/>
<path d="M717.5,94.9 L765.5,94.9 L813.4,94.9 L861.4,95 L909.3,95.4 L955.2,96.7 L957.2,96.8 L963.4,97.2 L971.6,97.7 L979.7,98.4 L987.9,99.3 L996.1,100.5 L1004.2,101.9 L1012.4,103.6 L1020.6,105.7 L1028.8,108.3 L1036.9,111.3 L1045.1,114.9 L1053.3,119 L1061.4,123.6 L1069.6,128.5 L1077.8,133.7 L1086,139.3 L1090.4,142.4 L1094.1,144.9 L1102.3,150.5 L1104.7,152.1 L1110.5,156.2 L1115.1,159.8 L1118.6,162.8 L1123.3,167.2 L1126.8,170.9 L1130,174.5 L1135,180.8 L1135.8,181.9 L1140.8,189.7 L1143.1,193.9 L1145.2,197.6 L1149.1,205.4 L1151.3,209.9 L1152.7,213 L1156,220.2 L1159.1,227.1 L1159.5,228.1 L1161.9,233.5 L1164.5,239.5 L1166.9,245 L1167.7,246.6 L1169.2,250 L1171.4,254.7 L1173.5,259.3 L1175.4,263.8 L1175.8,264.7 L1177.3,268.5 L1179.1,273.5 L1180.8,278.7 L1182.4,284 L1183.9,289.5 L1184,289.7 L1185.4,295.1 L1186.9,300.9 L1188.3,306.6 L1189.6,311 L1190.9,311 L1192.2,311 L1197,510.6 L717.5,510.6 Z" fill="#26828e"/>
<path d="M717.5,104.5 L765.5,104.5 L813.4,104.6 L861.4,104.7 L909.3,105 L955.2,106 L957.2,106.1 L963.4,106.4 L971.6,106.8 L979.7,107.4 L987.9,108.1 L996.1,109 L1004.2,110.2 L1012.4,111.6 L1020.6,113.3 L1028.8,115.5 L1036.9,118.1 L1045.1,121.3 L1053.3,125.1 L1061.4,129.4 L1069.6,133.8 L1077.8,138.5 L1086,143.5 L1090.4,146.3 L1094.1,148.7 L1102.3,154 L1104.7,155.6 L1110.5,159.8 L1115.1,163.5 L1118.6,166.6 L1123.3,171.2 L1126.8,174.9 L1130,178.6 L1135,184.9 L1135.8,186 L1140.8,193.8 L1143.1,197.9 L1145.2,201.6 L1149.1,209.3 L1151.3,213.8 L1152.7,216.8 L1156,224 L1159.1,230.7 L1159.5,231.6 L1161.9,236.9 L1164.5,242.7 L1166.9,247.9 L1167.7,249.4 L1169.2,252.7 L1171.4,257.3 L1173.5,261.8 L1175.4,266.4 L1175.8,267.4 L1177.3,271.3 L1179.1,276.4 L1180.8,281.6 L1182.4,287 L1183.9,292.5 L1184,292.7 L1185.4,298.2 L1186.9,303.9 L1188.3,309.5 L1189.6,314 L1190.9,314 L1192.2,314 L1197,510.6 L717.5,510.6 Z" fill="#25848e"/>
<path d="M717.5,112.4 L765.5,112.4 L813.4,112.4 L861.4,112.5 L909.3,112.7 L955.2,113.6 L957.2,113.6 L963.4,113.9 L971.6,114.3 L979.7,114.7 L987.9,115.4 L996.1,116.1 L1004.2,117.1 L1012.4,118.3 L1020.6,119.9 L1028.8,121.8 L1036.9,124.2 L1045.1,127.3 L1053.3,130.8 L1061.4,134.6 L1069.6,138.5 L1077.8,142.8 L1086,147.4 L1090.4,150.1 L1094.1,152.3 L1102.3,157.5 L1104.7,159.2 L1110.5,163.4 L1115.1,167.4 L1118.6,170.6 L1123.3,175.2 L1126.8,179 L1130,182.7 L1135,189 L1135.8,190.1 L1140.8,197.8 L1143.1,201.9 L1145.2,205.6 L1149.1,213.2 L1151.3,217.6 L1152.7,220.6 L1156,227.6 L1159.1,234.1 L1159.5,235.1 L1161.9,240.2 L1164.5,245.7 L1166.9,250.7 L1167.7,252.1 L1169.2,255.3 L1171.4,259.8 L1173.5,264.4 L1175.4,269.1 L1175.8,270.2 L1177.3,274.1 L1179.1,279.2 L1180.8,284.5 L1182.4,289.9 L1183.9,295.5 L1184,295.7 L1185.4,301.3 L1186.9,306.9 L1188.3,312.6 L1189.6,317.2 L1190.9,317.2 L1192.2,317.2 L1197,510.6 L717.5,510.6 Z" fill="#24868e"/>
<path d="M717.5,119 L765.5,119 L813.4,119 L861.4,119.1 L909.3,119.3 L955.2,120.1 L957.2,120.1 L963.4,120.3 L971.6,120.7 L979.7,121.1 L987.9,121.7 L996.1,122.4 L1004.2,123.3 L1012.4,124.4 L1020.6,125.9 L1028.8,127.8 L1036.9,130 L1045.1,132.7 L1053.3,135.8 L1061.4,139.3 L1069.6,142.8 L1077.8,146.7 L1086,151.1 L1090.4,153.6 L1094.1,155.9 L1102.3,161.1 L1104.7,162.8 L1110.5,167.3 L1115.1,171.4 L1118.6,174.7 L1123.3,179.3 L1126.8,183.1 L1130,186.7 L1135,193.1 L1135.8,194.1 L1140.8,201.8 L1143.1,205.9 L1145.2,209.5 L1149.1,217.1 L1151.3,221.4 L1152.7,224.3 L1156,231.1 L1159.1,237.5 L1159.5,238.4 L1161.9,243.3 L1164.5,248.5 L1166.9,253.3 L1167.7,254.7 L1169.2,257.9 L1171.4,262.4 L1173.5,267 L1175.4,271.9 L1175.8,273 L1177.3,277 L1179.1,282.1 L1180.8,287.5 L1182.4,292.9 L1183.9,298.6 L1184,298.8 L1185.4,304.2 L1186.9,309.8 L1188.3,315.7 L1189.6,320.5 L1190.9,320.5 L1192.2,320.5 L1197,510.6 L717.5,510.6 Z" fill="#23888e"/>
<path d="M717.5,125.1 L765.5,125.1 L813.4,125.1 L861.4,125.2 L909.3,125.4 L955.2,126.1 L957.2,126.2 L963.4,126.4 L971.6,126.7 L979.7,127.1 L987.9,127.6 L996.1,128.3 L1004.2,129.1 L1012.4,130.2 L1020.6,131.5 L1028.8,133.1 L1036.9,135.2 L1045.1,137.6 L1053.3,140.4 L1061.4,143.5 L1069.6,146.8 L1077.8,150.4 L1086,154.6 L1090.4,157.2 L1094.1,159.4 L1102.3,164.9 L1104.7,166.7 L1110.5,171.4 L1115.1,175.4 L1118.6,178.7 L1123.3,183.4 L1126.8,187.1 L1130,190.8 L1135,197.1 L1135.8,198.2 L1140.8,205.8 L1143.1,209.8 L1145.2,213.4 L1149.1,220.8 L1151.3,225.1 L1152.7,227.9 L1156,234.6 L1159.1,240.7 L1159.5,241.6 L1161.9,246.3 L1164.5,251.3 L1166.9,255.9 L1167.7,257.3 L1169.2,260.4 L1171.4,265 L1173.5,269.8 L1175.4,274.8 L1175.8,275.8 L1177.3,279.8 L1179.1,285 L1180.8,290.4 L1182.4,296 L1183.9,301.7 L1184,301.9 L1185.4,307.2 L1186.9,312.9 L1188.3,318.9 L1189.6,324 L1190.9,324 L1192.2,324 L1197,510.6 L717.5,510.6 Z" fill="#238a8d"/>
<path d="M717.5,130.8 L765.5,130.8 L813.4,130.8 L861.4,130.8 L909.3,131 L955.2,131.7 L957.2,131.7 L963.4,131.9 L971.6,132.2 L979.7,132.6 L987.9,133 L996.1,133.6 L1004.2,134.4 L1012.4,135.3 L1020.6,136.5 L1028.8,138 L1036.9,139.8 L1045.1,142 L1053.3,144.5 L1061.4,147.4 L1069.6,150.5 L1077.8,154 L1086,158.1 L1090.4,160.7 L1094.1,163.1 L1102.3,168.8 L1104.7,170.7 L1110.5,175.4 L1115.1,179.5 L1118.6,182.8 L1123.3,187.4 L1126.8,191.2 L1130,194.9 L1135,201.1 L1135.8,202.2 L1140.8,209.7 L1143.1,213.7 L1145.2,217.3 L1149.1,224.5 L1151.3,228.7 L1152.7,231.4 L1156,237.9 L1159.1,243.8 L1159.5,244.7 L1161.9,249.1 L1164.5,253.9 L1166.9,258.5 L1167.7,259.9 L1169.2,263 L1171.4,267.7 L1173.5,272.6 L1175.4,277.6 L1175.8,278.7 L1177.3,282.7 L1179.1,288 L1180.8,293.4 L1182.4,299.1 L1183.9,304.6 L1184,304.8 L1185.4,310.2 L1186.9,316 L1188.3,322.3 L1189.6,327.8 L1190.9,327.8 L1192.2,327.8 L1197,510.6 L717.5,510.6 Z" fill="#228c8d"/>
<path d="M717.5,135.8 L765.5,135.8 L813.4,135.8 L861.4,135.9 L909.3,136.1 L955.2,136.7 L957.2,136.7 L963.4,136.9 L971.6,137.1 L979.7,137.4 L987.9,137.9 L996.1,138.4 L1004.2,139.1 L1012.4,139.9 L1020.6,141 L1028.8,142.3 L1036.9,144 L1045.1,146 L1053.3,148.4 L1061.4,151.1 L1069.6,154 L1077.8,157.5 L1086,161.7 L1090.4,164.4 L1094.1,166.9 L1102.3,172.9 L1104.7,174.7 L1110.5,179.5 L1115.1,183.6 L1118.6,186.9 L1123.3,191.5 L1126.8,195.3 L1130,198.9 L1135,205.1 L1135.8,206.2 L1140.8,213.6 L1143.1,217.6 L1145.2,221 L1149.1,228.2 L1151.3,232.2 L1152.7,234.9 L1156,241.1 L1159.1,246.8 L1159.5,247.6 L1161.9,251.8 L1164.5,256.5 L1166.9,261 L1167.7,262.4 L1169.2,265.6 L1171.4,270.4 L1173.5,275.4 L1175.4,280.5 L1175.8,281.6 L1177.3,285.6 L1179.1,291 L1180.8,296.5 L1182.4,302.1 L1183.9,307.6 L1184,307.8 L1185.4,313.2 L1186.9,319.2 L1188.3,326 L1189.6,331.9 L1190.9,331.9 L1192.2,331.9 L1197,510.6 L717.5,510.6 Z" fill="#218e8d"/>
<path d="M717.5,140.4 L765.5,140.4 L813.4,140.4 L861.4,140.4 L909.3,140.6 L955.2,141.1 L957.2,141.2 L963.4,141.3 L971.6,141.5 L979.7,141.8 L987.9,142.2 L996.1,142.7 L1004.2,143.3 L1012.4,144.1 L1020.6,145.1 L1028.8,146.3 L1036.9,147.8 L1045.1,149.7 L1053.3,152 L1061.4,154.6 L1069.6,157.6 L1077.8,161.1 L1086,165.5 L1090.4,168.4 L1094.1,170.9 L1102.3,176.9 L1104.7,178.8 L1110.5,183.5 L1115.1,187.6 L1118.6,190.9 L1123.3,195.6 L1126.8,199.3 L1130,202.9 L1135,209.1 L1135.8,210.1 L1140.8,217.5 L1143.1,221.3 L1145.2,224.7 L1149.1,231.7 L1151.3,235.6 L1152.7,238.2 L1156,244.2 L1159.1,249.6 L1159.5,250.3 L1161.9,254.5 L1164.5,259.1 L1166.9,263.6 L1167.7,265 L1169.2,268.3 L1171.4,273.2 L1173.5,278.3 L1175.4,283.4 L1175.8,284.5 L1177.3,288.6 L1179.1,294 L1180.8,299.6 L1182.4,305.1 L1183.9,310.6 L1184,310.8 L1185.4,316.3 L1186.9,322.7 L1188.3,329.9 L1189.6,336.1 L1190.9,336.1 L1192.2,336.1 L1197,510.6 L717.5,510.6 Z" fill="#21908d"/>
<path d="M717.5,144.5 L765.5,144.5 L813.4,144.5 L861.4,144.6 L909.3,144.7 L955.2,145.2 L957.2,145.2 L963.4,145.4 L971.6,145.6 L979.7,145.9 L987.9,146.2 L996.1,146.7 L1004.2,147.2 L1012.4,147.9 L1020.6,148.9 L1028.8,150 L1036.9,151.5 L1045.1,153.3 L1053.3,155.5 L1061.4,158.2 L1069.6,161.1 L1077.8,164.9 L1086,169.5 L1090.4,172.4 L1094.1,175 L1102.3,181 L1104.7,182.9 L1110.5,187.6 L1115.1,191.7 L1118.6,195 L1123.3,199.6 L1126.8,203.3 L1130,206.9 L1135,213 L1135.8,214 L1140.8,221.2 L1143.1,225 L1145.2,228.3 L1149.1,235.1 L1151.3,238.9 L1152.7,241.4 L1156,247.1 L1159.1,252.3 L1159.5,253 L1161.9,257 L1164.5,261.6 L1166.9,266.2 L1167.7,267.7 L1169.2,271.1 L1171.4,276.1 L1173.5,281.2 L1175.4,286.3 L1175.8,287.4 L1177.3,291.6 L1179.1,297 L1180.8,302.6 L1182.4,308 L1183.9,313.6 L1184,313.8 L1185.4,319.6 L1186.9,326.3 L1188.3,334.1 L1189.6,340.6 L1190.9,340.6 L1192.2,340.6 L1197,510.6 L717.5,510.6 Z" fill="#20928c"/>
<path d="M717.5,148.3 L765.5,148.4 L813.4,148.4 L861.4,148.4 L909.3,148.5 L955.2,149 L957.2,149 L963.4,149.1 L971.6,149.4 L979.7,149.6 L987.9,149.9 L996.1,150.4 L1004.2,150.9 L1012.4,151.6 L1020.6,152.5 L1028.8,153.6 L1036.9,155 L1045.1,156.8 L1053.3,159 L1061.4,161.8 L1069.6,164.9 L1077.8,168.8 L1086,173.6 L1090.4,176.5 L1094.1,179 L1102.3,185.1 L1104.7,186.9 L1110.5,191.7 L1115.1,195.8 L1118.6,199 L1123.3,203.6 L1126.8,207.3 L1130,210.8 L1135,216.8 L1135.8,217.8 L1140.8,224.9 L1143.1,228.6 L1145.2,231.9 L1149.1,238.4 L1151.3,242.1 L1152.7,244.5 L1156,249.9 L1159.1,254.9 L1159.5,255.6 L1161.9,259.6 L1164.5,264.2 L1166.9,268.9 L1167.7,270.5 L1169.2,273.9 L1171.4,278.9 L1173.5,284.1 L1175.4,289.3 L1175.8,290.4 L1177.3,294.6 L1179.1,300.1 L1180.8,305.6 L1182.4,311 L1183.9,316.8 L1184,317 L1185.4,323.1 L1186.9,330.3 L1188.3,338.4 L1189.6,345.7 L1190.9,345.7 L1192.2,345.7 L1197,510.6 L717.5,510.6 Z" fill="#20938c"/>
<path d="M717.5,152 L765.5,152 L813.4,152 L861.4,152 L909.3,152.2 L955.2,152.6 L957.2,152.6 L963.4,152.7 L971.6,152.9 L979.7,153.2 L987.9,153.5 L996.1,153.9 L1004.2,154.5 L1012.4,155.1 L1020.6,156 L1028.8,157.1 L1036.9,158.5 L1045.1,160.4 L1053.3,162.7 L1061.4,165.5 L1069.6,168.9 L1077.8,172.8 L1086,177.6 L1090.4,180.5 L1094.1,183.1 L1102.3,189.1 L1104.7,191 L1110.5,195.7 L1115.1,199.8 L1118.6,203 L1123.3,207.6 L1126.8,211.2 L1130,214.7 L1135,220.6 L1135.8,221.6 L1140.8,228.5 L1143.1,232.1 L1145.2,235.3 L1149.1,241.6 L1151.3,245.1 L1152.7,247.4 L1156,252.6 L1159.1,257.5 L1159.5,258.2 L1161.9,262.1 L1164.5,266.8 L1166.9,271.7 L1167.7,273.3 L1169.2,276.7 L1171.4,281.8 L1173.5,287 L1175.4,292.3 L1175.8,293.4 L1177.3,297.7 L1179.1,303.1 L1180.8,308.5 L1182.4,314.1 L1183.9,320.1 L1184,320.3 L1185.4,326.8 L1186.9,334.5 L1188.3,343.1 L1189.6,351.8 L1190.9,351.8 L1192.2,351.8 L1197,510.6 L717.5,510.6 Z" fill="#1f958b"/>
<path d="M717.5,155.5 L765.5,155.5 L813.4,155.5 L861.4,155.6 L909.3,155.7 L955.2,156.1 L957.2,156.1 L963.4,156.3 L971.6,156.5 L979.7,156.7 L987.9,157 L996.1,157.4 L1004.2,158 L1012.4,158.7 L1020.6,159.5 L1028.8,160.7 L1036.9,162.2 L1045.1,164.1 L1053.3,166.5 L1061.4,169.5 L1069.6,172.9 L1077.8,176.9 L1086,181.7 L1090.4,184.6 L1094.1,187.2 L1102.3,193.2 L1104.7,195.1 L1110.5,199.8 L1115.1,203.8 L1118.6,207 L1123.3,211.5 L1126.8,215.1 L1130,218.5 L1135,224.3 L1135.8,225.3 L1140.8,232 L1143.1,235.5 L1145.2,238.6 L1149.1,244.7 L1151.3,248 L1152.7,250.2 L1156,255.2 L1159.1,260 L1159.5,260.7 L1161.9,264.7 L1164.5,269.6 L1166.9,274.6 L1167.7,276.1 L1169.2,279.6 L1171.4,284.7 L1173.5,290 L1175.4,295.3 L1175.8,296.4 L1177.3,300.7 L1179.1,306.1 L1180.8,311.5 L1182.4,317.2 L1183.9,323.6 L1184,323.8 L1185.4,330.8 L1186.9,338.8 L1188.3,348.7 L1189.6,359.3 L1190.9,359.3 L1192.2,359.3 L1197,510.6 L717.5,510.6 Z" fill="#1f978b"/>
<path d="M717.5,159 L765.5,159 L813.4,159 L861.4,159.1 L909.3,159.2 L955.2,159.7 L957.2,159.7 L963.4,159.8 L971.6,160 L979.7,160.3 L987.9,160.6 L996.1,161 L1004.2,161.6 L1012.4,162.3 L1020.6,163.2 L1028.8,164.4 L1036.9,166 L1045.1,168 L1053.3,170.5 L1061.4,173.6 L1069.6,176.9 L1077.8,181 L1086,185.7 L1090.4,188.7 L1094.1,191.3 L1102.3,197.2 L1104.7,199.1 L1110.5,203.8 L1115.1,207.8 L1118.6,210.9 L1123.3,215.3 L1126.8,218.9 L1130,222.2 L1135,227.9 L1135.8,228.9 L1140.8,235.5 L1143.1,238.8 L1145.2,241.8 L1149.1,247.6 L1151.3,250.8 L1152.7,252.9 L1156,257.8 L1159.1,262.6 L1159.5,263.3 L1161.9,267.4 L1164.5,272.4 L1166.9,277.4 L1167.7,279 L1169.2,282.5 L1171.4,287.7 L1173.5,293 L1175.4,298.4 L1175.8,299.5 L1177.3,303.7 L1179.1,309.1 L1180.8,314.6 L1182.4,320.6 L1183.9,327.3 L1184,327.5 L1185.4,335 L1186.9,343.6 L1188.3,355.5 L1189.6,367.3 L1190.9,367.3 L1192.2,367.3 L1197,510.6 L717.5,510.6 Z" fill="#1f998a"/>
<path d="M717.5,162.7 L765.5,162.7 L813.4,162.7 L861.4,162.7 L909.3,162.9 L955.2,163.3 L957.2,163.4 L963.4,163.5 L971.6,163.7 L979.7,164 L987.9,164.3 L996.1,164.8 L1004.2,165.3 L1012.4,166.1 L1020.6,167.1 L1028.8,168.3 L1036.9,170 L1045.1,172 L1053.3,174.6 L1061.4,177.6 L1069.6,181 L1077.8,185 L1086,189.8 L1090.4,192.7 L1094.1,195.3 L1102.3,201.3 L1104.7,203.1 L1110.5,207.7 L1115.1,211.7 L1118.6,214.8 L1123.3,219.1 L1126.8,222.6 L1130,225.9 L1135,231.4 L1135.8,232.4 L1140.8,238.8 L1143.1,242 L1145.2,244.9 L1149.1,250.4 L1151.3,253.4 L1152.7,255.5 L1156,260.3 L1159.1,265.2 L1159.5,265.9 L1161.9,270.1 L1164.5,275.2 L1166.9,280.3 L1167.7,281.9 L1169.2,285.4 L1171.4,290.7 L1173.5,296 L1175.4,301.4 L1175.8,302.6 L1177.3,306.7 L1179.1,312.1 L1180.8,317.8 L1182.4,324.1 L1183.9,331.3 L1184,331.6 L1185.4,339.3 L1186.9,349.3 L1188.3,363.4 L1189.6,377.6 L1190.9,377.6 L1192.2,377.6 L1197,510.6 L717.5,510.6 Z" fill="#1e9b8a"/>
<path d="M717.5,166.5 L765.5,166.5 L813.4,166.5 L861.4,166.6 L909.3,166.7 L955.2,167.2 L957.2,167.3 L963.4,167.4 L971.6,167.6 L979.7,167.9 L987.9,168.3 L996.1,168.7 L1004.2,169.3 L1012.4,170.1 L1020.6,171.1 L1028.8,172.4 L1036.9,174 L1045.1,176.1 L1053.3,178.6 L1061.4,181.7 L1069.6,185.1 L1077.8,189.1 L1086,193.9 L1090.4,196.8 L1094.1,199.3 L1102.3,205.3 L1104.7,207.1 L1110.5,211.6 L1115.1,215.5 L1118.6,218.6 L1123.3,222.9 L1126.8,226.3 L1130,229.5 L1135,234.9 L1135.8,235.8 L1140.8,241.9 L1143.1,245.1 L1145.2,247.8 L1149.1,253 L1151.3,256 L1152.7,258 L1156,262.9 L1159.1,267.8 L1159.5,268.6 L1161.9,273 L1164.5,278.1 L1166.9,283.2 L1167.7,284.8 L1169.2,288.4 L1171.4,293.7 L1173.5,299.1 L1175.4,304.4 L1175.8,305.5 L1177.3,309.7 L1179.1,315.1 L1180.8,321.1 L1182.4,327.9 L1183.9,335.5 L1184,335.8 L1185.4,344.2 L1186.9,356.2 L1188.3,372.1 L1189.6,394.6 L1190.9,394.6 L1192.2,394.6 L1197,510.6 L717.5,510.6 Z" fill="#1e9d89"/>
<path d="M717.5,170.5 L765.5,170.5 L813.4,170.6 L861.4,170.6 L909.3,170.7 L955.2,171.2 L957.2,171.3 L963.4,171.4 L971.6,171.6 L979.7,171.9 L987.9,172.3 L996.1,172.8 L1004.2,173.4 L1012.4,174.1 L1020.6,175.1 L1028.8,176.4 L1036.9,178.1 L1045.1,180.1 L1053.3,182.7 L1061.4,185.8 L1069.6,189.2 L1077.8,193.2 L1086,197.9 L1090.4,200.8 L1094.1,203.4 L1102.3,209.2 L1104.7,211 L1110.5,215.5 L1115.1,219.3 L1118.6,222.4 L1123.3,226.5 L1126.8,229.8 L1130,233 L1135,238.2 L1135.8,239.1 L1140.8,245 L1143.1,248 L1145.2,250.5 L1149.1,255.6 L1151.3,258.6 L1152.7,260.6 L1156,265.5 L1159.1,270.6 L1159.5,271.4 L1161.9,275.8 L1164.5,280.9 L1166.9,286.1 L1167.7,287.7 L1169.2,291.4 L1171.4,296.7 L1173.5,302.2 L1175.4,307.4 L1175.8,308.5 L1177.3,312.7 L1179.1,318.4 L1180.8,324.7 L1182.4,331.9 L1183.9,339.9 L1184,340.3 L1185.4,350 L1186.9,364.2 L1188.3,385.4 L1189.6,422.8 L1190.9,422.8 L1192.2,422.8 L1197,510.6 L717.5,510.6 Z" fill="#1f9f88"/>
<path d="M717.5,174.6 L765.5,174.6 L813.4,174.6 L861.4,174.6 L909.3,174.8 L955.2,175.3 L957.2,175.3 L963.4,175.5 L971.6,175.7 L979.7,176 L987.9,176.3 L996.1,176.8 L1004.2,177.4 L1012.4,178.2 L1020.6,179.2 L1028.8,180.5 L1036.9,182.1 L1045.1,184.2 L1053.3,186.8 L1061.4,189.8 L1069.6,193.2 L1077.8,197.2 L1086,201.9 L1090.4,204.8 L1094.1,207.3 L1102.3,213.1 L1104.7,214.9 L1110.5,219.3 L1115.1,223.1 L1118.6,226 L1123.3,230.1 L1126.8,233.3 L1130,236.4 L1135,241.4 L1135.8,242.2 L1140.8,247.9 L1143.1,250.7 L1145.2,253.2 L1149.1,258.2 L1151.3,261.1 L1152.7,263.1 L1156,268.2 L1159.1,273.4 L1159.5,274.2 L1161.9,278.6 L1164.5,283.8 L1166.9,289.1 L1167.7,290.7 L1169.2,294.4 L1171.4,299.8 L1173.5,305.1 L1175.4,310.4 L1175.8,311.5 L1177.3,315.8 L1179.1,321.7 L1180.8,328.5 L1182.4,336.2 L1183.9,344.9 L1184,345.3 L1185.4,357.1 L1186.9,373.1 L1188.3,407.7 L1189.6,501.9 L1190.9,501.9 L1192.2,501.9 L1197,510.6 L717.5,510.6 Z" fill="#1fa188"/>
<path d="M717.5,178.6 L765.5,178.6 L813.4,178.6 L861.4,178.7 L909.3,178.8 L955.2,179.3 L957.2,179.4 L963.4,179.5 L971.6,179.7 L979.7,180 L987.9,180.4 L996.1,180.9 L1004.2,181.5 L1012.4,182.3 L1020.6,183.3 L1028.8,184.6 L1036.9,186.2 L1045.1,188.3 L1053.3,190.9 L1061.4,193.9 L1069.6,197.3 L1077.8,201.2 L1086,205.9 L1090.4,208.8 L1094.1,211.2 L1102.3,216.9 L1104.7,218.7 L1110.5,223 L1115.1,226.7 L1118.6,229.6 L1123.3,233.6 L1126.8,236.7 L1130,239.6 L1135,244.5 L1135.8,245.3 L1140.8,250.7 L1143.1,253.4 L1145.2,255.8 L1149.1,260.7 L1151.3,263.7 L1152.7,265.7 L1156,271 L1159.1,276.3 L1159.5,277.1 L1161.9,281.5 L1164.5,286.8 L1166.9,292.1 L1167.7,293.7 L1169.2,297.4 L1171.4,302.8 L1173.5,308.1 L1175.4,313.4 L1175.8,314.6 L1177.3,319 L1179.1,325.4 L1180.8,332.6 L1182.4,340.6 L1183.9,350.9 L1184,351.3 L1185.4,365.1 L1186.9,387.1 L1188.3,501.9 L1189.6,501.9 L1190.9,501.9 L1192.2,501.9 L1197,510.6 L717.5,510.6 Z" fill="#1fa287"/>
<path d="M717.5,182.7 L765.5,182.7 L813.4,182.7 L861.4,182.8 L909.3,182.9 L955.2,183.4 L957.2,183.4 L963.4,183.6 L971.6,183.8 L979.7,184.1 L987.9,184.5 L996.1,184.9 L1004.2,185.6 L1012.4,186.3 L1020.6,187.3 L1028.8,188.6 L1036.9,190.3 L1045.1,192.3 L1053.3,194.9 L1061.4,197.9 L1069.6,201.3 L1077.8,205.2 L1086,209.9 L1090.4,212.7 L1094.1,215.1 L1102.3,220.7 L1104.7,222.4 L1110.5,226.7 L1115.1,230.3 L1118.6,233.1 L1123.3,236.9 L1126.8,239.9 L1130,242.8 L1135,247.4 L1135.8,248.2 L1140.8,253.3 L1143.1,256 L1145.2,258.3 L1149.1,263.3 L1151.3,266.3 L1152.7,268.4 L1156,273.8 L1159.1,279.1 L1159.5,279.9 L1161.9,284.4 L1164.5,289.7 L1166.9,295.1 L1167.7,296.8 L1169.2,300.5 L1171.4,305.8 L1173.5,311.1 L1175.4,316.5 L1175.8,317.7 L1177.3,322.5 L1179.1,329.2 L1180.8,336.9 L1182.4,345.8 L1183.9,358.2 L1184,358.7 L1185.4,374.4 L1186.9,410.5 L1188.3,501.9 L1189.6,501.9 L1190.9,501.9 L1192.2,501.9 L1197,510.6 L717.5,510.6 Z" fill="#20a486"/>
<path d="M717.5,186.8 L765.5,186.8 L813.4,186.8 L861.4,186.8 L909.3,187 L955.2,187.5 L957.2,187.5 L963.4,187.7 L971.6,187.9 L979.7,188.2 L987.9,188.5 L996.1,189 L1004.2,189.6 L1012.4,190.4 L1020.6,191.4 L1028.8,192.7 L1036.9,194.3 L1045.1,196.4 L1053.3,198.9 L1061.4,202 L1069.6,205.3 L1077.8,209.2 L1086,213.7 L1090.4,216.5 L1094.1,218.9 L1102.3,224.4 L1104.7,226.1 L1110.5,230.2 L1115.1,233.7 L1118.6,236.5 L1123.3,240.2 L1126.8,243.1 L1130,245.8 L1135,250.2 L1135.8,250.9 L1140.8,255.9 L1143.1,258.5 L1145.2,260.9 L1149.1,265.9 L1151.3,269 L1152.7,271.2 L1156,276.6 L1159.1,282 L1159.5,282.8 L1161.9,287.4 L1164.5,292.7 L1166.9,298.2 L1167.7,299.8 L1169.2,303.5 L1171.4,308.8 L1173.5,314.1 L1175.4,319.8 L1175.8,321.1 L1177.3,326.1 L1179.1,333.4 L1180.8,341.4 L1182.4,351.9 L1183.9,366.2 L1184,366.7 L1185.4,389.2 L1186.9,501.9 L1188.3,501.9 L1189.6,501.9 L1190.9,501.9 L1192.2,501.9 L1197,510.6 L717.5,510.6 Z" fill="#21a685"/>
<path d="M717.5,190.8 L765.5,190.8 L813.4,190.9 L861.4,190.9 L909.3,191.1 L955.2,191.5 L957.2,191.6 L963.4,191.7 L971.6,191.9 L979.7,192.2 L987.9,192.6 L996.1,193.1 L1004.2,193.7 L1012.4,194.5 L1020.6,195.5 L1028.8,196.7 L1036.9,198.4 L1045.1,200.4 L1053.3,203 L1061.4,205.9 L1069.6,209.2 L1077.8,213.1 L1086,217.6 L1090.4,220.3 L1094.1,222.7 L1102.3,228 L1104.7,229.7 L1110.5,233.7 L1115.1,237.1 L1118.6,239.7 L1123.3,243.3 L1126.8,246.1 L1130,248.7 L1135,252.9 L1135.8,253.6 L1140.8,258.5 L1143.1,261.1 L1145.2,263.4 L1149.1,268.6 L1151.3,271.9 L1152.7,274.1 L1156,279.5 L1159.1,284.9 L1159.5,285.7 L1161.9,290.4 L1164.5,295.8 L1166.9,301.2 L1167.7,302.9 L1169.2,306.5 L1171.4,311.8 L1173.5,317.3 L1175.4,323.3 L1175.8,324.7 L1177.3,330.1 L1179.1,337.7 L1180.8,346.7 L1182.4,359.4 L1183.9,375.9 L1184,376.8 L1185.4,414 L1186.9,501.9 L1188.3,501.9 L1189.6,501.9 L1190.9,501.9 L1192.2,501.9 L1197,510.6 L717.5,510.6 Z" fill="#22a884"/>
<path d="M717.5,194.9 L765.5,194.9 L813.4,194.9 L861.4,195 L909.3,195.1 L955.2,195.6 L957.2,195.6 L963.4,195.8 L971.6,196 L979.7,196.3 L987.9,196.7 L996.1,197.1 L1004.2,197.7 L1012.4,198.5 L1020.6,199.5 L1028.8,200.8 L1036.9,202.4 L1045.1,204.4 L1053.3,206.9 L1061.4,209.9 L1069.6,213.1 L1077.8,216.9 L1086,221.3 L1090.4,224 L1094.1,226.3 L1102.3,231.6 L1104.7,233.1 L1110.5,237.1 L1115.1,240.3 L1118.6,242.9 L1123.3,246.3 L1126.8,248.9 L1130,251.4 L1135,255.5 L1135.8,256.1 L1140.8,261 L1143.1,263.6 L1145.2,266.1 L1149.1,271.4 L1151.3,274.7 L1152.7,276.9 L1156,282.4 L1159.1,287.9 L1159.5,288.7 L1161.9,293.4 L1164.5,298.9 L1166.9,304.2 L1167.7,305.8 L1169.2,309.5 L1171.4,314.8 L1173.5,320.6 L1175.4,327 L1175.8,328.5 L1177.3,334.3 L1179.1,342.3 L1180.8,353 L1182.4,367.4 L1183.9,391.9 L1184,393.3 L1185.4,501.9 L1186.9,501.9 L1188.3,501.9 L1189.6,501.9 L1190.9,501.9 L1192.2,501.9 L1197,510.6 L717.5,510.6 Z" fill="#24aa83"/>
<path d="M717.5,198.9 L765.5,198.9 L813.4,199 L861.4,199 L909.3,199.1 L955.2,199.6 L957.2,199.7 L963.4,199.8 L971.6,200 L979.7,200.3 L987.9,200.7 L996.1,201.2 L1004.2,201.8 L1012.4,202.5 L1020.6,203.5 L1028.8,204.8 L1036.9,206.4 L1045.1,208.4 L1053.3,210.9 L1061.4,213.8 L1069.6,217 L1077.8,220.7 L1086,225 L1090.4,227.6 L1094.1,229.9 L1102.3,235 L1104.7,236.5 L1110.5,240.3 L1115.1,243.5 L1118.6,245.9 L1123.3,249.1 L1126.8,251.6 L1130,254 L1135,258 L1135.8,258.7 L1140.8,263.6 L1143.1,266.3 L1145.2,268.8 L1149.1,274.3 L1151.3,277.5 L1152.7,279.8 L1156,285.3 L1159.1,290.9 L1159.5,291.7 L1161.9,296.4 L1164.5,301.9 L1166.9,307.2 L1167.7,308.8 L1169.2,312.5 L1171.4,318 L1173.5,324.2 L1175.4,331 L1175.8,332.6 L1177.3,338.6 L1179.1,347.7 L1180.8,360.7 L1182.4,377.8 L1183.9,418.3 L1184,420.6 L1185.4,501.9 L1186.9,501.9 L1188.3,501.9 L1189.6,501.9 L1190.9,501.9 L1192.2,501.9 L1197,510.6 L717.5,510.6 Z" fill="#25ac82"/>
<path d="M717.5,202.9 L765.5,202.9 L813.4,203 L861.4,203 L909.3,203.2 L955.2,203.6 L957.2,203.7 L963.4,203.8 L971.6,204 L979.7,204.3 L987.9,204.7 L996.1,205.1 L1004.2,205.7 L1012.4,206.5 L1020.6,207.5 L1028.8,208.7 L1036.9,210.3 L1045.1,212.3 L1053.3,214.7 L1061.4,217.6 L1069.6,220.7 L1077.8,224.4 L1086,228.6 L1090.4,231.2 L1094.1,233.4 L1102.3,238.3 L1104.7,239.8 L1110.5,243.5 L1115.1,246.4 L1118.6,248.7 L1123.3,251.8 L1126.8,254.3 L1130,256.6 L1135,260.6 L1135.8,261.2 L1140.8,266.2 L1143.1,269 L1145.2,271.6 L1149.1,277.1 L1151.3,280.4 L1152.7,282.7 L1156,288.3 L1159.1,293.9 L1159.5,294.7 L1161.9,299.5 L1164.5,304.9 L1166.9,310.2 L1167.7,311.8 L1169.2,315.6 L1171.4,321.4 L1173.5,327.9 L1175.4,335.2 L1175.8,336.8 L1177.3,343.4 L1179.1,354.3 L1180.8,368.8 L1182.4,395 L1183.9,501.9 L1184,501.9 L1185.4,501.9 L1186.9,501.9 L1188.3,501.9 L1189.6,501.9 L1190.9,501.9 L1192.2,501.9 L1197,510.6 L717.5,510.6 Z" fill="#27ad81"/>
<path d="M717.5,206.9 L765.5,206.9 L813.4,206.9 L861.4,207 L909.3,207.1 L955.2,207.6 L957.2,207.6 L963.4,207.8 L971.6,208 L979.7,208.3 L987.9,208.6 L996.1,209.1 L1004.2,209.7 L1012.4,210.4 L1020.6,211.4 L1028.8,212.6 L1036.9,214.2 L1045.1,216.1 L1053.3,218.5 L1061.4,221.4 L1069.6,224.4 L1077.8,228 L1086,232.1 L1090.4,234.6 L1094.1,236.7 L1102.3,241.5 L1104.7,242.9 L1110.5,246.4 L1115.1,249.3 L1118.6,251.5 L1123.3,254.5 L1126.8,256.8 L1130,259.2 L1135,263.1 L1135.8,263.8 L1140.8,268.9 L1143.1,271.8 L1145.2,274.4 L1149.1,280 L1151.3,283.3 L1152.7,285.6 L1156,291.3 L1159.1,296.9 L1159.5,297.8 L1161.9,302.5 L1164.5,307.9 L1166.9,313.2 L1167.7,314.9 L1169.2,318.8 L1171.4,325 L1173.5,332 L1175.4,339.6 L1175.8,341.4 L1177.3,349 L1179.1,362.1 L1180.8,380.1 L1182.4,423.5 L1183.9,501.9 L1184,501.9 L1185.4,501.9 L1186.9,501.9 L1188.3,501.9 L1189.6,501.9 L1190.9,501.9 L1192.2,501.9 L1197,510.6 L717.5,510.6 Z" fill="#29af7f"/>
<path d="M717.5,210.8 L765.5,210.8 L813.4,210.9 L861.4,210.9 L909.3,211 L955.2,211.5 L957.2,211.6 L963.4,211.7 L971.6,211.9 L979.7,212.2 L987.9,212.5 L996.1,213 L1004.2,213.6 L1012.4,214.3 L1020.6,215.3 L1028.8,216.5 L1036.9,218 L1045.1,219.9 L1053.3,222.3 L1061.4,225 L1069.6,228 L1077.8,231.5 L1086,235.6 L1090.4,237.9 L1094.1,240 L1102.3,244.6 L1104.7,245.9 L1110.5,249.2 L1115.1,252 L1118.6,254.1 L1123.3,257 L1126.8,259.4 L1130,261.7 L1135,265.7 L1135.8,266.5 L1140.8,271.7 L1143.1,274.6 L1145.2,277.3 L1149.1,282.9 L1151.3,286.2 L1152.7,288.5 L1156,294.3 L1159.1,300 L1159.5,300.9 L1161.9,305.5 L1164.5,310.8 L1166.9,316.3 L1167.7,318.1 L1169.2,322.2 L1171.4,328.8 L1173.5,336.2 L1175.4,344.6 L1175.8,346.6 L1177.3,355.8 L1179.1,370.5 L1180.8,398.8 L1182.4,501.9 L1183.9,501.9 L1184,501.9 L1185.4,501.9 L1186.9,501.9 L1188.3,501.9 L1189.6,501.9 L1190.9,501.9 L1192.2,501.9 L1197,510.6 L717.5,510.6 Z" fill="#2cb17e"/>
<path d="M717.5,214.7 L765.5,214.7 L813.4,214.7 L861.4,214.8 L909.3,214.9 L955.2,215.4 L957.2,215.4 L963.4,215.6 L971.6,215.8 L979.7,216 L987.9,216.4 L996.1,216.8 L1004.2,217.4 L1012.4,218.1 L1020.6,219.1 L1028.8,220.2 L1036.9,221.8 L1045.1,223.6 L1053.3,225.9 L1061.4,228.6 L1069.6,231.6 L1077.8,235 L1086,238.9 L1090.4,241.2 L1094.1,243.1 L1102.3,247.5 L1104.7,248.8 L1110.5,252 L1115.1,254.6 L1118.6,256.7 L1123.3,259.6 L1126.8,261.9 L1130,264.3 L1135,268.4 L1135.8,269.2 L1140.8,274.5 L1143.1,277.5 L1145.2,280.1 L1149.1,285.8 L1151.3,289.2 L1152.7,291.5 L1156,297.3 L1159.1,303 L1159.5,303.9 L1161.9,308.5 L1164.5,313.9 L1166.9,319.6 L1167.7,321.4 L1169.2,325.8 L1171.4,333 L1173.5,340.7 L1175.4,350.4 L1175.8,352.9 L1177.3,363.8 L1179.1,382.7 L1180.8,438.3 L1182.4,501.9 L1183.9,501.9 L1184,501.9 L1185.4,501.9 L1186.9,501.9 L1188.3,501.9 L1189.6,501.9 L1190.9,501.9 L1192.2,501.9 L1197,510.6 L717.5,510.6 Z" fill="#2eb37c"/>
<path d="M717.5,218.5 L765.5,218.5 L813.4,218.5 L861.4,218.6 L909.3,218.7 L955.2,219.2 L957.2,219.2 L963.4,219.3 L971.6,219.6 L979.7,219.8 L987.9,220.2 L996.1,220.6 L1004.2,221.2 L1012.4,221.9 L1020.6,222.8 L1028.8,224 L1036.9,225.4 L1045.1,227.3 L1053.3,229.5 L1061.4,232.2 L1069.6,235 L1077.8,238.3 L1086,242 L1090.4,244.3 L1094.1,246.1 L1102.3,250.3 L1104.7,251.5 L1110.5,254.6 L1115.1,257.2 L1118.6,259.2 L1123.3,262.1 L1126.8,264.5 L1130,266.9 L1135,271.2 L1135.8,272 L1140.8,277.4 L1143.1,280.3 L1145.2,283 L1149.1,288.7 L1151.3,292.2 L1152.7,294.5 L1156,300.4 L1159.1,306 L1159.5,306.8 L1161.9,311.4 L1164.5,317 L1166.9,323 L1167.7,325 L1169.2,329.8 L1171.4,337.2 L1173.5,345.9 L1175.4,357.6 L1175.8,360.6 L1177.3,372.5 L1179.1,403.3 L1180.8,501.9 L1182.4,501.9 L1183.9,501.9 L1184,501.9 L1185.4,501.9 L1186.9,501.9 L1188.3,501.9 L1189.6,501.9 L1190.9,501.9 L1192.2,501.9 L1197,510.6 L717.5,510.6 Z" fill="#31b57b"/>
<path d="M717.5,222.3 L765.5,222.3 L813.4,222.3 L861.4,222.3 L909.3,222.5 L955.2,222.9 L957.2,223 L963.4,223.1 L971.6,223.3 L979.7,223.5 L987.9,223.9 L996.1,224.3 L1004.2,224.9 L1012.4,225.6 L1020.6,226.4 L1028.8,227.6 L1036.9,229 L1045.1,230.8 L1053.3,233 L1061.4,235.6 L1069.6,238.3 L1077.8,241.5 L1086,245.1 L1090.4,247.2 L1094.1,249 L1102.3,252.9 L1104.7,254.1 L1110.5,257.1 L1115.1,259.7 L1118.6,261.8 L1123.3,264.7 L1126.8,267.2 L1130,269.7 L1135,274 L1135.8,274.8 L1140.8,280.3 L1143.1,283.2 L1145.2,285.9 L1149.1,291.7 L1151.3,295.2 L1152.7,297.6 L1156,303.4 L1159.1,309 L1159.5,309.8 L1161.9,314.5 L1164.5,320.3 L1166.9,326.7 L1167.7,328.9 L1169.2,333.9 L1171.4,341.8 L1173.5,352 L1175.4,365.6 L1175.8,368.7 L1177.3,386.2 L1179.1,464 L1180.8,501.9 L1182.4,501.9 L1183.9,501.9 L1184,501.9 L1185.4,501.9 L1186.9,501.9 L1188.3,501.9 L1189.6,501.9 L1190.9,501.9 L1192.2,501.9 L1197,510.6 L717.5,510.6 Z" fill="#34b679"/>
<path d="M717.5,225.9 L765.5,225.9 L813.4,226 L861.4,226 L909.3,226.1 L955.2,226.6 L957.2,226.6 L963.4,226.7 L971.6,226.9 L979.7,227.2 L987.9,227.5 L996.1,227.9 L1004.2,228.5 L1012.4,229.1 L1020.6,230 L1028.8,231.1 L1036.9,232.5 L1045.1,234.3 L1053.3,236.4 L1061.4,238.9 L1069.6,241.5 L1077.8,244.6 L1086,248 L1090.4,250 L1094.1,251.7 L1102.3,255.5 L1104.7,256.7 L1110.5,259.7 L1115.1,262.3 L1118.6,264.4 L1123.3,267.4 L1126.8,269.9 L1130,272.5 L1135,276.9 L1135.8,277.7 L1140.8,283.2 L1143.1,286.2 L1145.2,288.9 L1149.1,294.8 L1151.3,298.3 L1152.7,300.7 L1156,306.4 L1159.1,312 L1159.5,312.8 L1161.9,317.7 L1164.5,323.9 L1166.9,330.7 L1167.7,333 L1169.2,338.2 L1171.4,347.1 L1173.5,359.5 L1175.4,375.1 L1175.8,379.9 L1177.3,409 L1179.1,501.9 L1180.8,501.9 L1182.4,501.9 L1183.9,501.9 L1184,501.9 L1185.4,501.9 L1186.9,501.9 L1188.3,501.9 L1189.6,501.9 L1190.9,501.9 L1192.2,501.9 L1197,510.6 L717.5,510.6 Z" fill="#37b878"/>
<path d="M717.5,229.5 L765.5,229.5 L813.4,229.5 L861.4,229.6 L909.3,229.7 L955.2,230.1 L957.2,230.2 L963.4,230.3 L971.6,230.5 L979.7,230.7 L987.9,231.1 L996.1,231.5 L1004.2,232 L1012.4,232.6 L1020.6,233.5 L1028.8,234.6 L1036.9,235.9 L1045.1,237.6 L1053.3,239.7 L1061.4,242 L1069.6,244.6 L1077.8,247.5 L1086,250.7 L1090.4,252.7 L1094.1,254.3 L1102.3,258.1 L1104.7,259.3 L1110.5,262.2 L1115.1,264.9 L1118.6,267 L1123.3,270.1 L1126.8,272.8 L1130,275.3 L1135,279.8 L1135.8,280.5 L1140.8,286.1 L1143.1,289.1 L1145.2,291.9 L1149.1,297.8 L1151.3,301.3 L1152.7,303.7 L1156,309.3 L1159.1,315 L1159.5,315.9 L1161.9,321 L1164.5,327.6 L1166.9,334.9 L1167.7,337.3 L1169.2,343 L1171.4,353.6 L1173.5,367.5 L1175.4,390.5 L1175.8,398.5 L1177.3,501.9 L1179.1,501.9 L1180.8,501.9 L1182.4,501.9 L1183.9,501.9 L1184,501.9 L1185.4,501.9 L1186.9,501.9 L1188.3,501.9 L1189.6,501.9 L1190.9,501.9 L1192.2,501.9 L1197,510.6 L717.5,510.6 Z" fill="#3aba76"/>
<path d="M717.5,233 L765.5,233 L813.4,233 L861.4,233.1 L909.3,233.2 L955.2,233.6 L957.2,233.6 L963.4,233.8 L971.6,233.9 L979.7,234.2 L987.9,234.5 L996.1,234.9 L1004.2,235.4 L1012.4,236 L1020.6,236.9 L1028.8,237.9 L1036.9,239.2 L1045.1,240.8 L1053.3,242.8 L1061.4,245.1 L1069.6,247.5 L1077.8,250.3 L1086,253.4 L1090.4,255.3 L1094.1,256.9 L1102.3,260.6 L1104.7,261.8 L1110.5,264.8 L1115.1,267.5 L1118.6,269.8 L1123.3,273 L1126.8,275.6 L1130,278.2 L1135,282.7 L1135.8,283.4 L1140.8,289 L1143.1,292.1 L1145.2,294.9 L1149.1,300.9 L1151.3,304.3 L1152.7,306.7 L1156,312.4 L1159.1,318.3 L1159.5,319.2 L1161.9,324.6 L1164.5,331.7 L1166.9,339.3 L1167.7,341.9 L1169.2,348.5 L1171.4,361.3 L1173.5,378 L1175.4,416 L1175.8,436.9 L1177.3,501.9 L1179.1,501.9 L1180.8,501.9 L1182.4,501.9 L1183.9,501.9 L1184,501.9 L1185.4,501.9 L1186.9,501.9 L1188.3,501.9 L1189.6,501.9 L1190.9,501.9 L1192.2,501.9 L1197,510.6 L717.5,510.6 Z" fill="#3dbc74"/>
<path d="M717.5,236.4 L765.5,236.4 L813.4,236.4 L861.4,236.4 L909.3,236.6 L955.2,237 L957.2,237 L963.4,237.1 L971.6,237.3 L979.7,237.5 L987.9,237.8 L996.1,238.2 L1004.2,238.7 L1012.4,239.3 L1020.6,240.1 L1028.8,241.1 L1036.9,242.4 L1045.1,244 L1053.3,245.8 L1061.4,248 L1069.6,250.3 L1077.8,252.9 L1086,256 L1090.4,257.8 L1094.1,259.4 L1102.3,263.2 L1104.7,264.4 L1110.5,267.5 L1115.1,270.3 L1118.6,272.6 L1123.3,275.8 L1126.8,278.4 L1130,281.1 L1135,285.6 L1135.8,286.4 L1140.8,292 L1143.1,295.1 L1145.2,298 L1149.1,303.9 L1151.3,307.3 L1152.7,309.6 L1156,315.4 L1159.1,321.6 L1159.5,322.6 L1161.9,328.4 L1164.5,335.9 L1166.9,344.2 L1167.7,347.2 L1169.2,355.3 L1171.4,369.5 L1173.5,395.4 L1175.4,501.9 L1175.8,501.9 L1177.3,501.9 L1179.1,501.9 L1180.8,501.9 L1182.4,501.9 L1183.9,501.9 L1184,501.9 L1185.4,501.9 L1186.9,501.9 L1188.3,501.9 L1189.6,501.9 L1190.9,501.9 L1192.2,501.9 L1197,510.6 L717.5,510.6 Z" fill="#40bd72"/>
<path d="M717.5,239.7 L765.5,239.7 L813.4,239.7 L861.4,239.7 L909.3,239.8 L955.2,240.2 L957.2,240.3 L963.4,240.4 L971.6,240.5 L979.7,240.8 L987.9,241.1 L996.1,241.4 L1004.2,241.9 L1012.4,242.5 L1020.6,243.2 L1028.8,244.2 L1036.9,245.4 L1045.1,246.9 L1053.3,248.7 L1061.4,250.7 L1069.6,253 L1077.8,255.5 L1086,258.5 L1090.4,260.4 L1094.1,262 L1102.3,265.8 L1104.7,267.1 L1110.5,270.3 L1115.1,273.1 L1118.6,275.4 L1123.3,278.7 L1126.8,281.3 L1130,284 L1135,288.5 L1135.8,289.3 L1140.8,295.1 L1143.1,298.2 L1145.2,301.1 L1149.1,306.9 L1151.3,310.3 L1152.7,312.6 L1156,318.7 L1159.1,325.2 L1159.5,326.3 L1161.9,332.5 L1164.5,340.3 L1166.9,350 L1167.7,353.6 L1169.2,363.2 L1171.4,381.2 L1173.5,424.4 L1175.4,501.9 L1175.8,501.9 L1177.3,501.9 L1179.1,501.9 L1180.8,501.9 L1182.4,501.9 L1183.9,501.9 L1184,501.9 L1185.4,501.9 L1186.9,501.9 L1188.3,501.9 L1189.6,501.9 L1190.9,501.9 L1192.2,501.9 L1197,510.6 L717.5,510.6 Z" fill="#44bf70"/>
<path d="M717.5,242.8 L765.5,242.8 L813.4,242.8 L861.4,242.9 L909.3,243 L955.2,243.4 L957.2,243.4 L963.4,243.5 L971.6,243.7 L979.7,243.9 L987.9,244.2 L996.1,244.5 L1004.2,244.9 L1012.4,245.5 L1020.6,246.2 L1028.8,247.1 L1036.9,248.3 L1045.1,249.7 L1053.3,251.4 L1061.4,253.4 L1069.6,255.6 L1077.8,258.1 L1086,261.1 L1090.4,262.9 L1094.1,264.6 L1102.3,268.5 L1104.7,269.8 L1110.5,273.1 L1115.1,275.9 L1118.6,278.3 L1123.3,281.5 L1126.8,284.2 L1130,286.9 L1135,291.5 L1135.8,292.3 L1140.8,298.1 L1143.1,301.3 L1145.2,304.1 L1149.1,309.8 L1151.3,313.3 L1152.7,315.7 L1156,322.1 L1159.1,329.1 L1159.5,330.2 L1161.9,336.8 L1164.5,345.4 L1166.9,357.1 L1167.7,361.4 L1169.2,371.8 L1171.4,400.7 L1173.5,501.9 L1175.4,501.9 L1175.8,501.9 L1177.3,501.9 L1179.1,501.9 L1180.8,501.9 L1182.4,501.9 L1183.9,501.9 L1184,501.9 L1185.4,501.9 L1186.9,501.9 L1188.3,501.9 L1189.6,501.9 L1190.9,501.9 L1192.2,501.9 L1197,510.6 L717.5,510.6 Z" fill="#48c16e"/>
<path d="M717.5,245.8 L765.5,245.8 L813.4,245.8 L861.4,245.9 L909.3,246 L955.2,246.3 L957.2,246.4 L963.4,246.5 L971.6,246.6 L979.7,246.8 L987.9,247.1 L996.1,247.4 L1004.2,247.8 L1012.4,248.4 L1020.6,249.1 L1028.8,249.9 L1036.9,251 L1045.1,252.4 L1053.3,254.1 L1061.4,256 L1069.6,258.1 L1077.8,260.6 L1086,263.6 L1090.4,265.5 L1094.1,267.2 L1102.3,271.3 L1104.7,272.6 L1110.5,275.9 L1115.1,278.8 L1118.6,281.1 L1123.3,284.5 L1126.8,287.2 L1130,289.9 L1135,294.5 L1135.8,295.4 L1140.8,301.2 L1143.1,304.3 L1145.2,307 L1149.1,312.8 L1151.3,316.4 L1152.7,319 L1156,325.7 L1159.1,333.2 L1159.5,334.4 L1161.9,341.3 L1164.5,351.5 L1166.9,365 L1167.7,369.6 L1169.2,384.9 L1171.4,448.7 L1173.5,501.9 L1175.4,501.9 L1175.8,501.9 L1177.3,501.9 L1179.1,501.9 L1180.8,501.9 L1182.4,501.9 L1183.9,501.9 L1184,501.9 L1185.4,501.9 L1186.9,501.9 L1188.3,501.9 L1189.6,501.9 L1190.9,501.9 L1192.2,501.9 L1197,510.6 L717.5,510.6 Z" fill="#4cc26c"/>
<path d="M717.5,248.7 L765.5,248.7 L813.4,248.7 L861.4,248.7 L909.3,248.8 L955.2,249.2 L957.2,249.2 L963.4,249.3 L971.6,249.4 L979.7,249.6 L987.9,249.9 L996.1,250.2 L1004.2,250.6 L1012.4,251.1 L1020.6,251.8 L1028.8,252.6 L1036.9,253.7 L1045.1,255 L1053.3,256.6 L1061.4,258.5 L1069.6,260.7 L1077.8,263.2 L1086,266.3 L1090.4,268.2 L1094.1,270 L1102.3,274.2 L1104.7,275.5 L1110.5,278.8 L1115.1,281.7 L1118.6,284.1 L1123.3,287.4 L1126.8,290.1 L1130,292.9 L1135,297.6 L1135.8,298.4 L1140.8,304.2 L1143.1,307.2 L1145.2,310 L1149.1,316 L1151.3,319.7 L1152.7,322.4 L1156,329.6 L1159.1,337.5 L1159.5,338.7 L1161.9,346.6 L1164.5,358.9 L1166.9,374.3 L1167.7,381.3 L1169.2,406.8 L1171.4,501.9 L1173.5,501.9 L1175.4,501.9 L1175.8,501.9 L1177.3,501.9 L1179.1,501.9 L1180.8,501.9 L1182.4,501.9 L1183.9,501.9 L1184,501.9 L1185.4,501.9 L1186.9,501.9 L1188.3,501.9 L1189.6,501.9 L1190.9,501.9 L1192.2,501.9 L1197,510.6 L717.5,510.6 Z" fill="#50c46a"/>
<path d="M717.5,251.4 L765.5,251.4 L813.4,251.4 L861.4,251.4 L909.3,251.5 L955.2,251.9 L957.2,251.9 L963.4,252 L971.6,252.1 L979.7,252.3 L987.9,252.6 L996.1,252.9 L1004.2,253.3 L1012.4,253.8 L1020.6,254.4 L1028.8,255.2 L1036.9,256.3 L1045.1,257.6 L1053.3,259.2 L1061.4,261.1 L1069.6,263.2 L1077.8,265.8 L1086,269 L1090.4,271 L1094.1,272.8 L1102.3,277 L1104.7,278.3 L1110.5,281.7 L1115.1,284.6 L1118.6,287 L1123.3,290.4 L1126.8,293.2 L1130,295.9 L1135,300.7 L1135.8,301.5 L1140.8,307.2 L1143.1,310.2 L1145.2,313 L1149.1,319.2 L1151.3,323.2 L1152.7,326.1 L1156,333.8 L1159.1,342.2 L1159.5,343.5 L1161.9,352.9 L1164.5,366.9 L1166.9,389.1 L1167.7,401 L1169.2,483.5 L1171.4,501.9 L1173.5,501.9 L1175.4,501.9 L1175.8,501.9 L1177.3,501.9 L1179.1,501.9 L1180.8,501.9 L1182.4,501.9 L1183.9,501.9 L1184,501.9 L1185.4,501.9 L1186.9,501.9 L1188.3,501.9 L1189.6,501.9 L1190.9,501.9 L1192.2,501.9 L1197,510.6 L717.5,510.6 Z" fill="#52c569"/>
<path d="M717.5,254 L765.5,254 L813.4,254.1 L861.4,254.1 L909.3,254.2 L955.2,254.5 L957.2,254.5 L963.4,254.6 L971.6,254.8 L979.7,254.9 L987.9,255.2 L996.1,255.5 L1004.2,255.9 L1012.4,256.3 L1020.6,257 L1028.8,257.8 L1036.9,258.8 L1045.1,260.1 L1053.3,261.7 L1061.4,263.7 L1069.6,265.8 L1077.8,268.5 L1086,271.8 L1090.4,273.8 L1094.1,275.6 L1102.3,279.9 L1104.7,281.2 L1110.5,284.6 L1115.1,287.5 L1118.6,290 L1123.3,293.4 L1126.8,296.2 L1130,299 L1135,303.7 L1135.8,304.5 L1140.8,310.1 L1143.1,313.2 L1145.2,316.1 L1149.1,322.6 L1151.3,326.9 L1152.7,330 L1156,338.1 L1159.1,347.5 L1159.5,349.2 L1161.9,360.5 L1164.5,377 L1166.9,413.8 L1167.7,450.3 L1169.2,501.9 L1171.4,501.9 L1173.5,501.9 L1175.4,501.9 L1175.8,501.9 L1177.3,501.9 L1179.1,501.9 L1180.8,501.9 L1182.4,501.9 L1183.9,501.9 L1184,501.9 L1185.4,501.9 L1186.9,501.9 L1188.3,501.9 L1189.6,501.9 L1190.9,501.9 L1192.2,501.9 L1197,510.6 L717.5,510.6 Z" fill="#56c667"/>
<path d="M717.5,256.6 L765.5,256.6 L813.4,256.6 L861.4,256.7 L909.3,256.8 L955.2,257.1 L957.2,257.1 L963.4,257.2 L971.6,257.3 L979.7,257.5 L987.9,257.7 L996.1,258 L1004.2,258.4 L1012.4,258.9 L1020.6,259.5 L1028.8,260.3 L1036.9,261.4 L1045.1,262.7 L1053.3,264.3 L1061.4,266.3 L1069.6,268.5 L1077.8,271.3 L1086,274.6 L1090.4,276.7 L1094.1,278.5 L1102.3,282.8 L1104.7,284.1 L1110.5,287.5 L1115.1,290.5 L1118.6,293 L1123.3,296.4 L1126.8,299.3 L1130,302 L1135,306.6 L1135.8,307.4 L1140.8,313.2 L1143.1,316.4 L1145.2,319.4 L1149.1,326.3 L1151.3,330.9 L1152.7,334.2 L1156,342.8 L1159.1,354.1 L1159.5,356.1 L1161.9,368.6 L1164.5,393.6 L1166.9,501.9 L1167.7,501.9 L1169.2,501.9 L1171.4,501.9 L1173.5,501.9 L1175.4,501.9 L1175.8,501.9 L1177.3,501.9 L1179.1,501.9 L1180.8,501.9 L1182.4,501.9 L1183.9,501.9 L1184,501.9 L1185.4,501.9 L1186.9,501.9 L1188.3,501.9 L1189.6,501.9 L1190.9,501.9 L1192.2,501.9 L1197,510.6 L717.5,510.6 Z" fill="#5ac864"/>
<path d="M717.5,259.2 L765.5,259.2 L813.4,259.2 L861.4,259.2 L909.3,259.3 L955.2,259.6 L957.2,259.6 L963.4,259.7 L971.6,259.9 L979.7,260 L987.9,260.3 L996.1,260.6 L1004.2,261 L1012.4,261.4 L1020.6,262.1 L1028.8,262.9 L1036.9,263.9 L1045.1,265.3 L1053.3,267 L1061.4,269 L1069.6,271.3 L1077.8,274.1 L1086,277.5 L1090.4,279.5 L1094.1,281.4 L1102.3,285.7 L1104.7,287 L1110.5,290.5 L1115.1,293.5 L1118.6,296 L1123.3,299.5 L1126.8,302.3 L1130,305 L1135,309.6 L1135.8,310.4 L1140.8,316.3 L1143.1,319.6 L1145.2,322.8 L1149.1,330.3 L1151.3,335.1 L1152.7,338.5 L1156,348.3 L1159.1,361.9 L1159.5,364 L1161.9,379.7 L1164.5,421.2 L1166.9,501.9 L1167.7,501.9 L1169.2,501.9 L1171.4,501.9 L1173.5,501.9 L1175.4,501.9 L1175.8,501.9 L1177.3,501.9 L1179.1,501.9 L1180.8,501.9 L1182.4,501.9 L1183.9,501.9 L1184,501.9 L1185.4,501.9 L1186.9,501.9 L1188.3,501.9 L1189.6,501.9 L1190.9,501.9 L1192.2,501.9 L1197,510.6 L717.5,510.6 Z" fill="#5ec962"/>
<path d="M717.5,261.7 L765.5,261.7 L813.4,261.7 L861.4,261.8 L909.3,261.9 L955.2,262.2 L957.2,262.2 L963.4,262.3 L971.6,262.4 L979.7,262.6 L987.9,262.8 L996.1,263.1 L1004.2,263.5 L1012.4,264 L1020.6,264.7 L1028.8,265.5 L1036.9,266.6 L1045.1,268 L1053.3,269.7 L1061.4,271.8 L1069.6,274.2 L1077.8,277 L1086,280.4 L1090.4,282.4 L1094.1,284.3 L1102.3,288.6 L1104.7,290 L1110.5,293.5 L1115.1,296.6 L1118.6,299.1 L1123.3,302.5 L1126.8,305.3 L1130,308 L1135,312.6 L1135.8,313.4 L1140.8,319.6 L1143.1,323.1 L1145.2,326.5 L1149.1,334.5 L1151.3,339.5 L1152.7,343.3 L1156,355 L1159.1,370.2 L1159.5,372.9 L1161.9,398.2 L1164.5,501.9 L1166.9,501.9 L1167.7,501.9 L1169.2,501.9 L1171.4,501.9 L1173.5,501.9 L1175.4,501.9 L1175.8,501.9 L1177.3,501.9 L1179.1,501.9 L1180.8,501.9 L1182.4,501.9 L1183.9,501.9 L1184,501.9 L1185.4,501.9 L1186.9,501.9 L1188.3,501.9 L1189.6,501.9 L1190.9,501.9 L1192.2,501.9 L1197,510.6 L717.5,510.6 Z" fill="#63cb5f"/>
<path d="M717.5,264.3 L765.5,264.3 L813.4,264.3 L861.4,264.3 L909.3,264.4 L955.2,264.8 L957.2,264.8 L963.4,264.9 L971.6,265 L979.7,265.2 L987.9,265.4 L996.1,265.8 L1004.2,266.2 L1012.4,266.7 L1020.6,267.3 L1028.8,268.2 L1036.9,269.3 L1045.1,270.7 L1053.3,272.5 L1061.4,274.6 L1069.6,277 L1077.8,279.8 L1086,283.2 L1090.4,285.4 L1094.1,287.2 L1102.3,291.6 L1104.7,293 L1110.5,296.6 L1115.1,299.7 L1118.6,302.1 L1123.3,305.5 L1126.8,308.3 L1130,311 L1135,315.7 L1135.8,316.6 L1140.8,323 L1143.1,326.8 L1145.2,330.5 L1149.1,338.8 L1151.3,344.4 L1152.7,348.9 L1156,362.9 L1159.1,382.2 L1159.5,386.8 L1161.9,435.3 L1164.5,501.9 L1166.9,501.9 L1167.7,501.9 L1169.2,501.9 L1171.4,501.9 L1173.5,501.9 L1175.4,501.9 L1175.8,501.9 L1177.3,501.9 L1179.1,501.9 L1180.8,501.9 L1182.4,501.9 L1183.9,501.9 L1184,501.9 L1185.4,501.9 L1186.9,501.9 L1188.3,501.9 L1189.6,501.9 L1190.9,501.9 L1192.2,501.9 L1197,510.6 L717.5,510.6 Z" fill="#67cc5c"/>
<path d="M717.5,267 L765.5,267 L813.4,267 L861.4,267 L909.3,267.1 L955.2,267.4 L957.2,267.4 L963.4,267.5 L971.6,267.7 L979.7,267.9 L987.9,268.1 L996.1,268.5 L1004.2,268.9 L1012.4,269.4 L1020.6,270.1 L1028.8,271 L1036.9,272.1 L1045.1,273.6 L1053.3,275.4 L1061.4,277.5 L1069.6,279.9 L1077.8,282.7 L1086,286.2 L1090.4,288.3 L1094.1,290.2 L1102.3,294.6 L1104.7,296 L1110.5,299.6 L1115.1,302.7 L1118.6,305.1 L1123.3,308.5 L1126.8,311.2 L1130,314 L1135,319 L1135.8,319.9 L1140.8,326.7 L1143.1,330.8 L1145.2,334.7 L1149.1,343.6 L1151.3,350.2 L1152.7,355.7 L1156,371.4 L1159.1,402.4 L1159.5,410 L1161.9,501.9 L1164.5,501.9 L1166.9,501.9 L1167.7,501.9 L1169.2,501.9 L1171.4,501.9 L1173.5,501.9 L1175.4,501.9 L1175.8,501.9 L1177.3,501.9 L1179.1,501.9 L1180.8,501.9 L1182.4,501.9 L1183.9,501.9 L1184,501.9 L1185.4,501.9 L1186.9,501.9 L1188.3,501.9 L1189.6,501.9 L1190.9,501.9 L1192.2,501.9 L1197,510.6 L717.5,510.6 Z" fill="#6ccd5a"/>
<path d="M717.5,269.7 L765.5,269.7 L813.4,269.7 L861.4,269.7 L909.3,269.8 L955.2,270.2 L957.2,270.2 L963.4,270.3 L971.6,270.5 L979.7,270.7 L987.9,270.9 L996.1,271.2 L1004.2,271.7 L1012.4,272.2 L1020.6,272.9 L1028.8,273.8 L1036.9,274.9 L1045.1,276.4 L1053.3,278.2 L1061.4,280.4 L1069.6,282.8 L1077.8,285.7 L1086,289.1 L1090.4,291.3 L1094.1,293.2 L1102.3,297.7 L1104.7,299.1 L1110.5,302.7 L1115.1,305.7 L1118.6,308.1 L1123.3,311.5 L1126.8,314.3 L1130,317.2 L1135,322.4 L1135.8,323.4 L1140.8,330.7 L1143.1,335 L1145.2,339 L1149.1,349.3 L1151.3,357.4 L1152.7,363.6 L1156,384.3 L1159.1,459 L1159.5,501.9 L1161.9,501.9 L1164.5,501.9 L1166.9,501.9 L1167.7,501.9 L1169.2,501.9 L1171.4,501.9 L1173.5,501.9 L1175.4,501.9 L1175.8,501.9 L1177.3,501.9 L1179.1,501.9 L1180.8,501.9 L1182.4,501.9 L1183.9,501.9 L1184,501.9 L1185.4,501.9 L1186.9,501.9 L1188.3,501.9 L1189.6,501.9 L1190.9,501.9 L1192.2,501.9 L1197,510.6 L717.5,510.6 Z" fill="#70cf57"/>
<path d="M717.5,272.5 L765.5,272.5 L813.4,272.5 L861.4,272.6 L909.3,272.7 L955.2,273 L957.2,273 L963.4,273.1 L971.6,273.3 L979.7,273.5 L987.9,273.7 L996.1,274.1 L1004.2,274.5 L1012.4,275 L1020.6,275.7 L1028.8,276.6 L1036.9,277.8 L1045.1,279.3 L1053.3,281.1 L1061.4,283.3 L1069.6,285.7 L1077.8,288.6 L1086,292.1 L1090.4,294.3 L1094.1,296.2 L1102.3,300.8 L1104.7,302.2 L1110.5,305.6 L1115.1,308.6 L1118.6,311 L1123.3,314.5 L1126.8,317.5 L1130,320.5 L1135,326 L1135.8,327.1 L1140.8,334.9 L1143.1,339.4 L1145.2,343.9 L1149.1,356.2 L1151.3,365.3 L1152.7,372.4 L1156,405.9 L1159.1,501.9 L1159.5,501.9 L1161.9,501.9 L1164.5,501.9 L1166.9,501.9 L1167.7,501.9 L1169.2,501.9 L1171.4,501.9 L1173.5,501.9 L1175.4,501.9 L1175.8,501.9 L1177.3,501.9 L1179.1,501.9 L1180.8,501.9 L1182.4,501.9 L1183.9,501.9 L1184,501.9 L1185.4,501.9 L1186.9,501.9 L1188.3,501.9 L1189.6,501.9 L1190.9,501.9 L1192.2,501.9 L1197,510.6 L717.5,510.6 Z" fill="#75d054"/>
<path d="M717.5,275.3 L765.5,275.3 L813.4,275.4 L861.4,275.4 L909.3,275.5 L955.2,275.8 L957.2,275.9 L963.4,276 L971.6,276.1 L979.7,276.3 L987.9,276.6 L996.1,276.9 L1004.2,277.3 L1012.4,277.9 L1020.6,278.6 L1028.8,279.5 L1036.9,280.7 L1045.1,282.2 L1053.3,284 L1061.4,286.2 L1069.6,288.7 L1077.8,291.6 L1086,295.2 L1090.4,297.4 L1094.1,299.3 L1102.3,303.8 L1104.7,305.2 L1110.5,308.6 L1115.1,311.6 L1118.6,314.1 L1123.3,317.7 L1126.8,320.8 L1130,324 L1135,330 L1135.8,331.1 L1140.8,339.3 L1143.1,344.3 L1145.2,349.6 L1149.1,364.1 L1151.3,374.7 L1152.7,385.8 L1156,478.4 L1159.1,501.9 L1159.5,501.9 L1161.9,501.9 L1164.5,501.9 L1166.9,501.9 L1167.7,501.9 L1169.2,501.9 L1171.4,501.9 L1173.5,501.9 L1175.4,501.9 L1175.8,501.9 L1177.3,501.9 L1179.1,501.9 L1180.8,501.9 L1182.4,501.9 L1183.9,501.9 L1184,501.9 L1185.4,501.9 L1186.9,501.9 L1188.3,501.9 L1189.6,501.9 L1190.9,501.9 L1192.2,501.9 L1197,510.6 L717.5,510.6 Z" fill="#7ad151"/>
<path d="M717.5,278.2 L765.5,278.2 L813.4,278.2 L861.4,278.2 L909.3,278.3 L955.2,278.7 L957.2,278.7 L963.4,278.8 L971.6,279 L979.7,279.2 L987.9,279.4 L996.1,279.8 L1004.2,280.2 L1012.4,280.8 L1020.6,281.5 L1028.8,282.4 L1036.9,283.6 L1045.1,285.1 L1053.3,286.9 L1061.4,289.1 L1069.6,291.6 L1077.8,294.6 L1086,298.2 L1090.4,300.4 L1094.1,302.4 L1102.3,306.7 L1104.7,308.1 L1110.5,311.6 L1115.1,314.7 L1118.6,317.3 L1123.3,321.1 L1126.8,324.3 L1130,327.8 L1135,334.2 L1135.8,335.3 L1140.8,344.2 L1143.1,350.1 L1145.2,356.6 L1149.1,373.1 L1151.3,389.8 L1152.7,408.4 L1156,501.9 L1159.1,501.9 L1159.5,501.9 L1161.9,501.9 L1164.5,501.9 L1166.9,501.9 L1167.7,501.9 L1169.2,501.9 L1171.4,501.9 L1173.5,501.9 L1175.4,501.9 L1175.8,501.9 L1177.3,501.9 L1179.1,501.9 L1180.8,501.9 L1182.4,501.9 L1183.9,501.9 L1184,501.9 L1185.4,501.9 L1186.9,501.9 L1188.3,501.9 L1189.6,501.9 L1190.9,501.9 L1192.2,501.9 L1197,510.6 L717.5,510.6 Z" fill="#7fd34e"/>
<path d="M717.5,281.1 L765.5,281.1 L813.4,281.1 L861.4,281.1 L909.3,281.2 L955.2,281.6 L957.2,281.6 L963.4,281.7 L971.6,281.9 L979.7,282.1 L987.9,282.3 L996.1,282.7 L1004.2,283.1 L1012.4,283.7 L1020.6,284.4 L1028.8,285.3 L1036.9,286.5 L1045.1,288 L1053.3,289.9 L1061.4,292.1 L1069.6,294.7 L1077.8,297.7 L1086,301.3 L1090.4,303.5 L1094.1,305.3 L1102.3,309.7 L1104.7,311.1 L1110.5,314.7 L1115.1,317.9 L1118.6,320.6 L1123.3,324.6 L1126.8,328.1 L1130,331.8 L1135,338.5 L1135.8,339.7 L1140.8,349.9 L1143.1,357.2 L1145.2,364.6 L1149.1,387 L1151.3,415 L1152.7,501.9 L1156,501.9 L1159.1,501.9 L1159.5,501.9 L1161.9,501.9 L1164.5,501.9 L1166.9,501.9 L1167.7,501.9 L1169.2,501.9 L1171.4,501.9 L1173.5,501.9 L1175.4,501.9 L1175.8,501.9 L1177.3,501.9 L1179.1,501.9 L1180.8,501.9 L1182.4,501.9 L1183.9,501.9 L1184,501.9 L1185.4,501.9 L1186.9,501.9 L1188.3,501.9 L1189.6,501.9 L1190.9,501.9 L1192.2,501.9 L1197,510.6 L717.5,510.6 Z" fill="#84d44b"/>
<path d="M717.5,284 L765.5,284 L813.4,284 L861.4,284 L909.3,284.1 L955.2,284.5 L957.2,284.5 L963.4,284.6 L971.6,284.8 L979.7,285 L987.9,285.3 L996.1,285.6 L1004.2,286 L1012.4,286.6 L1020.6,287.3 L1028.8,288.3 L1036.9,289.5 L1045.1,291 L1053.3,292.9 L1061.4,295.2 L1069.6,297.7 L1077.8,300.8 L1086,304.3 L1090.4,306.4 L1094.1,308.3 L1102.3,312.7 L1104.7,314.1 L1110.5,317.9 L1115.1,321.2 L1118.6,324.1 L1123.3,328.4 L1126.8,332.2 L1130,336.1 L1135,343.2 L1135.8,344.6 L1140.8,357 L1143.1,365.2 L1145.2,373.6 L1149.1,410.4 L1151.3,501.9 L1152.7,501.9 L1156,501.9 L1159.1,501.9 L1159.5,501.9 L1161.9,501.9 L1164.5,501.9 L1166.9,501.9 L1167.7,501.9 L1169.2,501.9 L1171.4,501.9 L1173.5,501.9 L1175.4,501.9 L1175.8,501.9 L1177.3,501.9 L1179.1,501.9 L1180.8,501.9 L1182.4,501.9 L1183.9,501.9 L1184,501.9 L1185.4,501.9 L1186.9,501.9 L1188.3,501.9 L1189.6,501.9 L1190.9,501.9 L1192.2,501.9 L1197,510.6 L717.5,510.6 Z" fill="#89d548"/>
<path d="M717.5,286.9 L765.5,286.9 L813.4,286.9 L861.4,287 L909.3,287.1 L955.2,287.4 L957.2,287.5 L963.4,287.6 L971.6,287.7 L979.7,287.9 L987.9,288.2 L996.1,288.6 L1004.2,289 L1012.4,289.6 L1020.6,290.3 L1028.8,291.2 L1036.9,292.5 L1045.1,294 L1053.3,295.9 L1061.4,298.2 L1069.6,300.8 L1077.8,303.8 L1086,307.2 L1090.4,309.4 L1094.1,311.3 L1102.3,315.8 L1104.7,317.3 L1110.5,321.2 L1115.1,324.8 L1118.6,327.9 L1123.3,332.5 L1126.8,336.5 L1130,340.5 L1135,348.8 L1135.8,350.5 L1140.8,365 L1143.1,374.5 L1145.2,388 L1149.1,501.9 L1151.3,501.9 L1152.7,501.9 L1156,501.9 L1159.1,501.9 L1159.5,501.9 L1161.9,501.9 L1164.5,501.9 L1166.9,501.9 L1167.7,501.9 L1169.2,501.9 L1171.4,501.9 L1173.5,501.9 L1175.4,501.9 L1175.8,501.9 L1177.3,501.9 L1179.1,501.9 L1180.8,501.9 L1182.4,501.9 L1183.9,501.9 L1184,501.9 L1185.4,501.9 L1186.9,501.9 L1188.3,501.9 L1189.6,501.9 L1190.9,501.9 L1192.2,501.9 L1197,510.6 L717.5,510.6 Z" fill="#8ed645"/>
<path d="M717.5,289.9 L765.5,289.9 L813.4,289.9 L861.4,289.9 L909.3,290 L955.2,290.4 L957.2,290.4 L963.4,290.5 L971.6,290.7 L979.7,290.9 L987.9,291.2 L996.1,291.5 L1004.2,292 L1012.4,292.6 L1020.6,293.3 L1028.8,294.3 L1036.9,295.5 L1045.1,297.1 L1053.3,299 L1061.4,301.3 L1069.6,303.8 L1077.8,306.7 L1086,310.2 L1090.4,312.4 L1094.1,314.3 L1102.3,319.1 L1104.7,320.6 L1110.5,324.8 L1115.1,328.6 L1118.6,332 L1123.3,336.8 L1126.8,341 L1130,345.6 L1135,355.7 L1135.8,357.7 L1140.8,374.2 L1143.1,389.4 L1145.2,412 L1149.1,501.9 L1151.3,501.9 L1152.7,501.9 L1156,501.9 L1159.1,501.9 L1159.5,501.9 L1161.9,501.9 L1164.5,501.9 L1166.9,501.9 L1167.7,501.9 L1169.2,501.9 L1171.4,501.9 L1173.5,501.9 L1175.4,501.9 L1175.8,501.9 L1177.3,501.9 L1179.1,501.9 L1180.8,501.9 L1182.4,501.9 L1183.9,501.9 L1184,501.9 L1185.4,501.9 L1186.9,501.9 L1188.3,501.9 L1189.6,501.9 L1190.9,501.9 L1192.2,501.9 L1197,510.6 L717.5,510.6 Z" fill="#93d741"/>
<path d="M717.5,292.9 L765.5,292.9 L813.4,292.9 L861.4,292.9 L909.3,293 L955.2,293.4 L957.2,293.4 L963.4,293.5 L971.6,293.7 L979.7,293.9 L987.9,294.2 L996.1,294.6 L1004.2,295 L1012.4,295.6 L1020.6,296.4 L1028.8,297.3 L1036.9,298.6 L1045.1,300.1 L1053.3,302.1 L1061.4,304.3 L1069.6,306.8 L1077.8,309.7 L1086,313.2 L1090.4,315.5 L1094.1,317.5 L1102.3,322.5 L1104.7,324.2 L1110.5,328.6 L1115.1,332.8 L1118.6,336.2 L1123.3,341.3 L1126.8,346.2 L1130,351.7 L1135,363.6 L1135.8,365.7 L1140.8,388.9 L1143.1,414.4 L1145.2,501.9 L1149.1,501.9 L1151.3,501.9 L1152.7,501.9 L1156,501.9 L1159.1,501.9 L1159.5,501.9 L1161.9,501.9 L1164.5,501.9 L1166.9,501.9 L1167.7,501.9 L1169.2,501.9 L1171.4,501.9 L1173.5,501.9 L1175.4,501.9 L1175.8,501.9 L1177.3,501.9 L1179.1,501.9 L1180.8,501.9 L1182.4,501.9 L1183.9,501.9 L1184,501.9 L1185.4,501.9 L1186.9,501.9 L1188.3,501.9 L1189.6,501.9 L1190.9,501.9 L1192.2,501.9 L1197,510.6 L717.5,510.6 Z" fill="#98d83e"/>
<path d="M717.5,295.9 L765.5,295.9 L813.4,295.9 L861.4,296 L909.3,296.1 L955.2,296.5 L957.2,296.5 L963.4,296.6 L971.6,296.8 L979.7,297 L987.9,297.3 L996.1,297.6 L1004.2,298.1 L1012.4,298.7 L1020.6,299.4 L1028.8,300.4 L1036.9,301.6 L1045.1,303.2 L1053.3,305 L1061.4,307.3 L1069.6,309.7 L1077.8,312.7 L1086,316.4 L1090.4,318.7 L1094.1,320.9 L1102.3,326.2 L1104.7,328 L1110.5,332.7 L1115.1,337 L1118.6,340.7 L1123.3,346.6 L1126.8,352.4 L1130,359.2 L1135,372.3 L1135.8,375.3 L1140.8,413.5 L1143.1,501.9 L1145.2,501.9 L1149.1,501.9 L1151.3,501.9 L1152.7,501.9 L1156,501.9 L1159.1,501.9 L1159.5,501.9 L1161.9,501.9 L1164.5,501.9 L1166.9,501.9 L1167.7,501.9 L1169.2,501.9 L1171.4,501.9 L1173.5,501.9 L1175.4,501.9 L1175.8,501.9 L1177.3,501.9 L1179.1,501.9 L1180.8,501.9 L1182.4,501.9 L1183.9,501.9 L1184,501.9 L1185.4,501.9 L1186.9,501.9 L1188.3,501.9 L1189.6,501.9 L1190.9,501.9 L1192.2,501.9 L1197,510.6 L717.5,510.6 Z" fill="#9dd93b"/>
<path d="M717.5,299 L765.5,299 L813.4,299 L861.4,299 L909.3,299.2 L955.2,299.5 L957.2,299.6 L963.4,299.7 L971.6,299.8 L979.7,300.1 L987.9,300.3 L996.1,300.7 L1004.2,301.2 L1012.4,301.7 L1020.6,302.5 L1028.8,303.4 L1036.9,304.6 L1045.1,306.1 L1053.3,308 L1061.4,310.2 L1069.6,312.7 L1077.8,315.8 L1086,319.7 L1090.4,322.1 L1094.1,324.4 L1102.3,330.1 L1104.7,332 L1110.5,337 L1115.1,341.6 L1118.6,345.8 L1123.3,352.9 L1126.8,360 L1130,367.2 L1135,385.8 L1135.8,390.7 L1140.8,501.9 L1143.1,501.9 L1145.2,501.9 L1149.1,501.9 L1151.3,501.9 L1152.7,501.9 L1156,501.9 L1159.1,501.9 L1159.5,501.9 L1161.9,501.9 L1164.5,501.9 L1166.9,501.9 L1167.7,501.9 L1169.2,501.9 L1171.4,501.9 L1173.5,501.9 L1175.4,501.9 L1175.8,501.9 L1177.3,501.9 L1179.1,501.9 L1180.8,501.9 L1182.4,501.9 L1183.9,501.9 L1184,501.9 L1185.4,501.9 L1186.9,501.9 L1188.3,501.9 L1189.6,501.9 L1190.9,501.9 L1192.2,501.9 L1197,510.6 L717.5,510.6 Z" fill="#a2da37"/>
<path d="M717.5,302.1 L765.5,302.1 L813.4,302.1 L861.4,302.1 L909.3,302.2 L955.2,302.6 L957.2,302.6 L963.4,302.7 L971.6,302.9 L979.7,303.1 L987.9,303.4 L996.1,303.7 L1004.2,304.1 L1012.4,304.7 L1020.6,305.4 L1028.8,306.4 L1036.9,307.6 L1045.1,309.1 L1053.3,311 L1061.4,313.3 L1069.6,315.9 L1077.8,319.1 L1086,323.1 L1090.4,325.8 L1094.1,328.2 L1102.3,334.3 L1104.7,336.3 L1110.5,341.6 L1115.1,346.9 L1118.6,351.9 L1123.3,360.6 L1126.8,368 L1130,377.5 L1135,408.3 L1135.8,416.5 L1140.8,501.9 L1143.1,501.9 L1145.2,501.9 L1149.1,501.9 L1151.3,501.9 L1152.7,501.9 L1156,501.9 L1159.1,501.9 L1159.5,501.9 L1161.9,501.9 L1164.5,501.9 L1166.9,501.9 L1167.7,501.9 L1169.2,501.9 L1171.4,501.9 L1173.5,501.9 L1175.4,501.9 L1175.8,501.9 L1177.3,501.9 L1179.1,501.9 L1180.8,501.9 L1182.4,501.9 L1183.9,501.9 L1184,501.9 L1185.4,501.9 L1186.9,501.9 L1188.3,501.9 L1189.6,501.9 L1190.9,501.9 L1192.2,501.9 L1197,510.6 L717.5,510.6 Z" fill="#a8db34"/>
<path d="M717.5,305 L765.5,305 L813.4,305 L861.4,305.1 L909.3,305.2 L955.2,305.5 L957.2,305.6 L963.4,305.7 L971.6,305.8 L979.7,306.1 L987.9,306.3 L996.1,306.7 L1004.2,307.1 L1012.4,307.7 L1020.6,308.4 L1028.8,309.3 L1036.9,310.6 L1045.1,312.1 L1053.3,314 L1061.4,316.4 L1069.6,319.1 L1077.8,322.5 L1086,326.8 L1090.4,329.7 L1094.1,332.3 L1102.3,338.6 L1104.7,340.8 L1110.5,346.8 L1115.1,353.2 L1118.6,359.5 L1123.3,368.7 L1126.8,378.7 L1130,394.5 L1135,501.9 L1135.8,501.9 L1140.8,501.9 L1143.1,501.9 L1145.2,501.9 L1149.1,501.9 L1151.3,501.9 L1152.7,501.9 L1156,501.9 L1159.1,501.9 L1159.5,501.9 L1161.9,501.9 L1164.5,501.9 L1166.9,501.9 L1167.7,501.9 L1169.2,501.9 L1171.4,501.9 L1173.5,501.9 L1175.4,501.9 L1175.8,501.9 L1177.3,501.9 L1179.1,501.9 L1180.8,501.9 L1182.4,501.9 L1183.9,501.9 L1184,501.9 L1185.4,501.9 L1186.9,501.9 L1188.3,501.9 L1189.6,501.9 L1190.9,501.9 L1192.2,501.9 L1197,510.6 L717.5,510.6 Z" fill="#addc30"/>
<path d="M717.5,308 L765.5,308 L813.4,308 L861.4,308 L909.3,308.1 L955.2,308.5 L957.2,308.5 L963.4,308.6 L971.6,308.8 L979.7,309 L987.9,309.3 L996.1,309.6 L1004.2,310.1 L1012.4,310.7 L1020.6,311.4 L1028.8,312.4 L1036.9,313.6 L1045.1,315.2 L1053.3,317.2 L1061.4,319.7 L1069.6,322.5 L1077.8,326.2 L1086,330.8 L1090.4,333.8 L1094.1,336.5 L1102.3,343.4 L1104.7,345.9 L1110.5,353.2 L1115.1,361 L1118.6,367.5 L1123.3,379.8 L1126.8,396.6 L1130,422.6 L1135,501.9 L1135.8,501.9 L1140.8,501.9 L1143.1,501.9 L1145.2,501.9 L1149.1,501.9 L1151.3,501.9 L1152.7,501.9 L1156,501.9 L1159.1,501.9 L1159.5,501.9 L1161.9,501.9 L1164.5,501.9 L1166.9,501.9 L1167.7,501.9 L1169.2,501.9 L1171.4,501.9 L1173.5,501.9 L1175.4,501.9 L1175.8,501.9 L1177.3,501.9 L1179.1,501.9 L1180.8,501.9 L1182.4,501.9 L1183.9,501.9 L1184,501.9 L1185.4,501.9 L1186.9,501.9 L1188.3,501.9 L1189.6,501.9 L1190.9,501.9 L1192.2,501.9 L1197,510.6 L717.5,510.6 Z" fill="#b2dd2d"/>
<path d="M717.5,311 L765.5,311 L813.4,311 L861.4,311 L909.3,311.1 L955.2,311.5 L957.2,311.5 L963.4,311.6 L971.6,311.8 L979.7,312 L987.9,312.3 L996.1,312.6 L1004.2,313.1 L1012.4,313.7 L1020.6,314.5 L1028.8,315.4 L1036.9,316.7 L1045.1,318.4 L1053.3,320.5 L1061.4,323.1 L1069.6,326.2 L1077.8,330.1 L1086,335 L1090.4,338.1 L1094.1,341.1 L1102.3,349.1 L1104.7,352 L1110.5,360.9 L1115.1,369.1 L1118.6,377.9 L1123.3,398.3 L1126.8,428.2 L1130,501.9 L1135,501.9 L1135.8,501.9 L1140.8,501.9 L1143.1,501.9 L1145.2,501.9 L1149.1,501.9 L1151.3,501.9 L1152.7,501.9 L1156,501.9 L1159.1,501.9 L1159.5,501.9 L1161.9,501.9 L1164.5,501.9 L1166.9,501.9 L1167.7,501.9 L1169.2,501.9 L1171.4,501.9 L1173.5,501.9 L1175.4,501.9 L1175.8,501.9 L1177.3,501.9 L1179.1,501.9 L1180.8,501.9 L1182.4,501.9 L1183.9,501.9 L1184,501.9 L1185.4,501.9 L1186.9,501.9 L1188.3,501.9 L1189.6,501.9 L1190.9,501.9 L1192.2,501.9 L1197,510.6 L717.5,510.6 Z" fill="#b8de29"/>
<path d="M717.5,314 L765.5,314 L813.4,314 L861.4,314.1 L909.3,314.2 L955.2,314.6 L957.2,314.6 L963.4,314.7 L971.6,314.9 L979.7,315.1 L987.9,315.4 L996.1,315.8 L1004.2,316.2 L1012.4,316.8 L1020.6,317.6 L1028.8,318.7 L1036.9,320 L1045.1,321.8 L1053.3,324 L1061.4,326.8 L1069.6,330.1 L1077.8,334.3 L1086,339.4 L1090.4,342.9 L1094.1,346.2 L1102.3,355.9 L1104.7,359.6 L1110.5,369 L1115.1,380.5 L1118.6,395.2 L1123.3,435.8 L1126.8,501.9 L1130,501.9 L1135,501.9 L1135.8,501.9 L1140.8,501.9 L1143.1,501.9 L1145.2,501.9 L1149.1,501.9 L1151.3,501.9 L1152.7,501.9 L1156,501.9 L1159.1,501.9 L1159.5,501.9 L1161.9,501.9 L1164.5,501.9 L1166.9,501.9 L1167.7,501.9 L1169.2,501.9 L1171.4,501.9 L1173.5,501.9 L1175.4,501.9 L1175.8,501.9 L1177.3,501.9 L1179.1,501.9 L1180.8,501.9 L1182.4,501.9 L1183.9,501.9 L1184,501.9 L1185.4,501.9 L1186.9,501.9 L1188.3,501.9 L1189.6,501.9 L1190.9,501.9 L1192.2,501.9 L1197,510.6 L717.5,510.6 Z" fill="#bddf26"/>
<path d="M717.5,317.2 L765.5,317.2 L813.4,317.2 L861.4,317.2 L909.3,317.4 L955.2,317.8 L957.2,317.8 L963.4,317.9 L971.6,318.1 L979.7,318.3 L987.9,318.6 L996.1,319 L1004.2,319.5 L1012.4,320.1 L1020.6,321 L1028.8,322.1 L1036.9,323.5 L1045.1,325.4 L1053.3,327.8 L1061.4,330.8 L1069.6,334.3 L1077.8,338.6 L1086,344.3 L1090.4,348.4 L1094.1,352.5 L1102.3,363.9 L1104.7,367.6 L1110.5,380.4 L1115.1,399.5 L1118.6,423.9 L1123.3,501.9 L1126.8,501.9 L1130,501.9 L1135,501.9 L1135.8,501.9 L1140.8,501.9 L1143.1,501.9 L1145.2,501.9 L1149.1,501.9 L1151.3,501.9 L1152.7,501.9 L1156,501.9 L1159.1,501.9 L1159.5,501.9 L1161.9,501.9 L1164.5,501.9 L1166.9,501.9 L1167.7,501.9 L1169.2,501.9 L1171.4,501.9 L1173.5,501.9 L1175.4,501.9 L1175.8,501.9 L1177.3,501.9 L1179.1,501.9 L1180.8,501.9 L1182.4,501.9 L1183.9,501.9 L1184,501.9 L1185.4,501.9 L1186.9,501.9 L1188.3,501.9 L1189.6,501.9 L1190.9,501.9 L1192.2,501.9 L1197,510.6 L717.5,510.6 Z" fill="#c2df23"/>
<path d="M717.5,320.5 L765.5,320.5 L813.4,320.5 L861.4,320.6 L909.3,320.7 L955.2,321.1 L957.2,321.1 L963.4,321.3 L971.6,321.4 L979.7,321.7 L987.9,322 L996.1,322.4 L1004.2,323 L1012.4,323.6 L1020.6,324.5 L1028.8,325.7 L1036.9,327.3 L1045.1,329.3 L1053.3,331.9 L1061.4,335 L1069.6,338.7 L1077.8,343.4 L1086,350.1 L1090.4,355.1 L1094.1,360.1 L1102.3,372.7 L1104.7,378.1 L1110.5,399.4 L1115.1,442.1 L1118.6,501.9 L1123.3,501.9 L1126.8,501.9 L1130,501.9 L1135,501.9 L1135.8,501.9 L1140.8,501.9 L1143.1,501.9 L1145.2,501.9 L1149.1,501.9 L1151.3,501.9 L1152.7,501.9 L1156,501.9 L1159.1,501.9 L1159.5,501.9 L1161.9,501.9 L1164.5,501.9 L1166.9,501.9 L1167.7,501.9 L1169.2,501.9 L1171.4,501.9 L1173.5,501.9 L1175.4,501.9 L1175.8,501.9 L1177.3,501.9 L1179.1,501.9 L1180.8,501.9 L1182.4,501.9 L1183.9,501.9 L1184,501.9 L1185.4,501.9 L1186.9,501.9 L1188.3,501.9 L1189.6,501.9 L1190.9,501.9 L1192.2,501.9 L1197,510.6 L717.5,510.6 Z" fill="#c8e020"/>
<path d="M717.5,324 L765.5,324 L813.4,324 L861.4,324.1 L909.3,324.2 L955.2,324.7 L957.2,324.7 L963.4,324.8 L971.6,325 L979.7,325.3 L987.9,325.6 L996.1,326.1 L1004.2,326.6 L1012.4,327.4 L1020.6,328.3 L1028.8,329.6 L1036.9,331.3 L1045.1,333.4 L1053.3,336.1 L1061.4,339.4 L1069.6,343.5 L1077.8,349 L1086,357.2 L1090.4,363 L1094.1,368.1 L1102.3,386.4 L1104.7,395.5 L1110.5,441.3 L1115.1,501.9 L1118.6,501.9 L1123.3,501.9 L1126.8,501.9 L1130,501.9 L1135,501.9 L1135.8,501.9 L1140.8,501.9 L1143.1,501.9 L1145.2,501.9 L1149.1,501.9 L1151.3,501.9 L1152.7,501.9 L1156,501.9 L1159.1,501.9 L1159.5,501.9 L1161.9,501.9 L1164.5,501.9 L1166.9,501.9 L1167.7,501.9 L1169.2,501.9 L1171.4,501.9 L1173.5,501.9 L1175.4,501.9 L1175.8,501.9 L1177.3,501.9 L1179.1,501.9 L1180.8,501.9 L1182.4,501.9 L1183.9,501.9 L1184,501.9 L1185.4,501.9 L1186.9,501.9 L1188.3,501.9 L1189.6,501.9 L1190.9,501.9 L1192.2,501.9 L1197,510.6 L717.5,510.6 Z" fill="#cde11d"/>
<path d="M717.5,327.8 L765.5,327.8 L813.4,327.8 L861.4,327.9 L909.3,328 L955.2,328.5 L957.2,328.5 L963.4,328.7 L971.6,328.9 L979.7,329.2 L987.9,329.5 L996.1,330 L1004.2,330.6 L1012.4,331.4 L1020.6,332.4 L1028.8,333.8 L1036.9,335.5 L1045.1,337.7 L1053.3,340.6 L1061.4,344.3 L1069.6,349.1 L1077.8,355.9 L1086,365.2 L1090.4,371.5 L1094.1,379 L1102.3,409.3 L1104.7,424.7 L1110.5,501.9 L1115.1,501.9 L1118.6,501.9 L1123.3,501.9 L1126.8,501.9 L1130,501.9 L1135,501.9 L1135.8,501.9 L1140.8,501.9 L1143.1,501.9 L1145.2,501.9 L1149.1,501.9 L1151.3,501.9 L1152.7,501.9 L1156,501.9 L1159.1,501.9 L1159.5,501.9 L1161.9,501.9 L1164.5,501.9 L1166.9,501.9 L1167.7,501.9 L1169.2,501.9 L1171.4,501.9 L1173.5,501.9 L1175.4,501.9 L1175.8,501.9 L1177.3,501.9 L1179.1,501.9 L1180.8,501.9 L1182.4,501.9 L1183.9,501.9 L1184,501.9 L1185.4,501.9 L1186.9,501.9 L1188.3,501.9 L1189.6,501.9 L1190.9,501.9 L1192.2,501.9 L1197,510.6 L717.5,510.6 Z" fill="#d2e21b"/>
<path d="M717.5,331.9 L765.5,331.9 L813.4,331.9 L861.4,331.9 L909.3,332.1 L955.2,332.6 L957.2,332.6 L963.4,332.8 L971.6,333 L979.7,333.3 L987.9,333.7 L996.1,334.2 L1004.2,334.8 L1012.4,335.6 L1020.6,336.7 L1028.8,338.1 L1036.9,339.9 L1045.1,342.4 L1053.3,345.7 L1061.4,350.1 L1069.6,356 L1077.8,363.8 L1086,374.5 L1090.4,384.5 L1094.1,396.9 L1102.3,501.9 L1104.7,501.9 L1110.5,501.9 L1115.1,501.9 L1118.6,501.9 L1123.3,501.9 L1126.8,501.9 L1130,501.9 L1135,501.9 L1135.8,501.9 L1140.8,501.9 L1143.1,501.9 L1145.2,501.9 L1149.1,501.9 L1151.3,501.9 L1152.7,501.9 L1156,501.9 L1159.1,501.9 L1159.5,501.9 L1161.9,501.9 L1164.5,501.9 L1166.9,501.9 L1167.7,501.9 L1169.2,501.9 L1171.4,501.9 L1173.5,501.9 L1175.4,501.9 L1175.8,501.9 L1177.3,501.9 L1179.1,501.9 L1180.8,501.9 L1182.4,501.9 L1183.9,501.9 L1184,501.9 L1185.4,501.9 L1186.9,501.9 L1188.3,501.9 L1189.6,501.9 L1190.9,501.9 L1192.2,501.9 L1197,510.6 L717.5,510.6 Z" fill="#d8e219"/>
<path d="M717.5,336.1 L765.5,336.1 L813.4,336.1 L861.4,336.2 L909.3,336.3 L955.2,336.8 L957.2,336.9 L963.4,337 L971.6,337.3 L979.7,337.6 L987.9,338 L996.1,338.5 L1004.2,339.2 L1012.4,340.1 L1020.6,341.2 L1028.8,342.8 L1036.9,344.9 L1045.1,347.8 L1053.3,351.8 L1061.4,357.3 L1069.6,363.9 L1077.8,372.6 L1086,389.5 L1090.4,406.2 L1094.1,429.6 L1102.3,501.9 L1104.7,501.9 L1110.5,501.9 L1115.1,501.9 L1118.6,501.9 L1123.3,501.9 L1126.8,501.9 L1130,501.9 L1135,501.9 L1135.8,501.9 L1140.8,501.9 L1143.1,501.9 L1145.2,501.9 L1149.1,501.9 L1151.3,501.9 L1152.7,501.9 L1156,501.9 L1159.1,501.9 L1159.5,501.9 L1161.9,501.9 L1164.5,501.9 L1166.9,501.9 L1167.7,501.9 L1169.2,501.9 L1171.4,501.9 L1173.5,501.9 L1175.4,501.9 L1175.8,501.9 L1177.3,501.9 L1179.1,501.9 L1180.8,501.9 L1182.4,501.9 L1183.9,501.9 L1184,501.9 L1185.4,501.9 L1186.9,501.9 L1188.3,501.9 L1189.6,501.9 L1190.9,501.9 L1192.2,501.9 L1197,510.6 L717.5,510.6 Z" fill="#dde318"/>
<path d="M717.5,340.6 L765.5,340.6 L813.4,340.6 L861.4,340.6 L909.3,340.8 L955.2,341.4 L957.2,341.4 L963.4,341.6 L971.6,341.9 L979.7,342.2 L987.9,342.7 L996.1,343.3 L1004.2,344.1 L1012.4,345.1 L1020.6,346.5 L1028.8,348.3 L1036.9,350.8 L1045.1,354.4 L1053.3,359.3 L1061.4,365.2 L1069.6,372.7 L1077.8,386.3 L1086,414.5 L1090.4,480.3 L1094.1,501.9 L1102.3,501.9 L1104.7,501.9 L1110.5,501.9 L1115.1,501.9 L1118.6,501.9 L1123.3,501.9 L1126.8,501.9 L1130,501.9 L1135,501.9 L1135.8,501.9 L1140.8,501.9 L1143.1,501.9 L1145.2,501.9 L1149.1,501.9 L1151.3,501.9 L1152.7,501.9 L1156,501.9 L1159.1,501.9 L1159.5,501.9 L1161.9,501.9 L1164.5,501.9 L1166.9,501.9 L1167.7,501.9 L1169.2,501.9 L1171.4,501.9 L1173.5,501.9 L1175.4,501.9 L1175.8,501.9 L1177.3,501.9 L1179.1,501.9 L1180.8,501.9 L1182.4,501.9 L1183.9,501.9 L1184,501.9 L1185.4,501.9 L1186.9,501.9 L1188.3,501.9 L1189.6,501.9 L1190.9,501.9 L1192.2,501.9 L1197,510.6 L717.5,510.6 Z" fill="#e2e418"/>
<path d="M717.5,345.7 L765.5,345.7 L813.4,345.7 L861.4,345.8 L909.3,346 L955.2,346.7 L957.2,346.7 L963.4,346.9 L971.6,347.2 L979.7,347.6 L987.9,348.2 L996.1,348.9 L1004.2,349.8 L1012.4,351.1 L1020.6,352.7 L1028.8,355 L1036.9,358.1 L1045.1,362.2 L1053.3,367.3 L1061.4,374.6 L1069.6,386.5 L1077.8,409.2 L1086,501.9 L1090.4,501.9 L1094.1,501.9 L1102.3,501.9 L1104.7,501.9 L1110.5,501.9 L1115.1,501.9 L1118.6,501.9 L1123.3,501.9 L1126.8,501.9 L1130,501.9 L1135,501.9 L1135.8,501.9 L1140.8,501.9 L1143.1,501.9 L1145.2,501.9 L1149.1,501.9 L1151.3,501.9 L1152.7,501.9 L1156,501.9 L1159.1,501.9 L1159.5,501.9 L1161.9,501.9 L1164.5,501.9 L1166.9,501.9 L1167.7,501.9 L1169.2,501.9 L1171.4,501.9 L1173.5,501.9 L1175.4,501.9 L1175.8,501.9 L1177.3,501.9 L1179.1,501.9 L1180.8,501.9 L1182.4,501.9 L1183.9,501.9 L1184,501.9 L1185.4,501.9 L1186.9,501.9 L1188.3,501.9 L1189.6,501.9 L1190.9,501.9 L1192.2,501.9 L1197,510.6 L717.5,510.6 Z" fill="#e7e419"/>
<path d="M717.5,351.8 L765.5,351.8 L813.4,351.8 L861.4,351.9 L909.3,352.1 L955.2,353 L957.2,353 L963.4,353.3 L971.6,353.7 L979.7,354.2 L987.9,354.8 L996.1,355.7 L1004.2,356.9 L1012.4,358.4 L1020.6,360.4 L1028.8,362.9 L1036.9,366.1 L1045.1,370.6 L1053.3,377.6 L1061.4,389.5 L1069.6,409.5 L1077.8,501.9 L1086,501.9 L1090.4,501.9 L1094.1,501.9 L1102.3,501.9 L1104.7,501.9 L1110.5,501.9 L1115.1,501.9 L1118.6,501.9 L1123.3,501.9 L1126.8,501.9 L1130,501.9 L1135,501.9 L1135.8,501.9 L1140.8,501.9 L1143.1,501.9 L1145.2,501.9 L1149.1,501.9 L1151.3,501.9 L1152.7,501.9 L1156,501.9 L1159.1,501.9 L1159.5,501.9 L1161.9,501.9 L1164.5,501.9 L1166.9,501.9 L1167.7,501.9 L1169.2,501.9 L1171.4,501.9 L1173.5,501.9 L1175.4,501.9 L1175.8,501.9 L1177.3,501.9 L1179.1,501.9 L1180.8,501.9 L1182.4,501.9 L1183.9,501.9 L1184,501.9 L1185.4,501.9 L1186.9,501.9 L1188.3,501.9 L1189.6,501.9 L1190.9,501.9 L1192.2,501.9 L1197,510.6 L717.5,510.6 Z" fill="#ece51b"/>
<path d="M717.5,359.3 L765.5,359.3 L813.4,359.3 L861.4,359.4 L909.3,359.7 L955.2,360.7 L957.2,360.8 L963.4,361 L971.6,361.5 L979.7,362 L987.9,362.7 L996.1,363.7 L1004.2,364.8 L1012.4,366.4 L1020.6,368.5 L1028.8,371.4 L1036.9,375.8 L1045.1,382.9 L1053.3,394.7 L1061.4,414.5 L1069.6,501.9 L1077.8,501.9 L1086,501.9 L1090.4,501.9 L1094.1,501.9 L1102.3,501.9 L1104.7,501.9 L1110.5,501.9 L1115.1,501.9 L1118.6,501.9 L1123.3,501.9 L1126.8,501.9 L1130,501.9 L1135,501.9 L1135.8,501.9 L1140.8,501.9 L1143.1,501.9 L1145.2,501.9 L1149.1,501.9 L1151.3,501.9 L1152.7,501.9 L1156,501.9 L1159.1,501.9 L1159.5,501.9 L1161.9,501.9 L1164.5,501.9 L1166.9,501.9 L1167.7,501.9 L1169.2,501.9 L1171.4,501.9 L1173.5,501.9 L1175.4,501.9 L1175.8,501.9 L1177.3,501.9 L1179.1,501.9 L1180.8,501.9 L1182.4,501.9 L1183.9,501.9 L1184,501.9 L1185.4,501.9 L1186.9,501.9 L1188.3,501.9 L1189.6,501.9 L1190.9,501.9 L1192.2,501.9 L1197,510.6 L717.5,510.6 Z" fill="#f1e51d"/>
<path d="M717.5,367.3 L765.5,367.3 L813.4,367.3 L861.4,367.4 L909.3,367.7 L955.2,368.8 L957.2,368.9 L963.4,369.2 L971.6,369.7 L979.7,370.3 L987.9,371.2 L996.1,372.4 L1004.2,374 L1012.4,376.2 L1020.6,379.5 L1028.8,384.3 L1036.9,391.7 L1045.1,403.6 L1053.3,422.9 L1061.4,501.9 L1069.6,501.9 L1077.8,501.9 L1086,501.9 L1090.4,501.9 L1094.1,501.9 L1102.3,501.9 L1104.7,501.9 L1110.5,501.9 L1115.1,501.9 L1118.6,501.9 L1123.3,501.9 L1126.8,501.9 L1130,501.9 L1135,501.9 L1135.8,501.9 L1140.8,501.9 L1143.1,501.9 L1145.2,501.9 L1149.1,501.9 L1151.3,501.9 L1152.7,501.9 L1156,501.9 L1159.1,501.9 L1159.5,501.9 L1161.9,501.9 L1164.5,501.9 L1166.9,501.9 L1167.7,501.9 L1169.2,501.9 L1171.4,501.9 L1173.5,501.9 L1175.4,501.9 L1175.8,501.9 L1177.3,501.9 L1179.1,501.9 L1180.8,501.9 L1182.4,501.9 L1183.9,501.9 L1184,501.9 L1185.4,501.9 L1186.9,501.9 L1188.3,501.9 L1189.6,501.9 L1190.9,501.9 L1192.2,501.9 L1197,510.6 L717.5,510.6 Z" fill="#f6e620"/>
<path d="M717.5,377.6 L765.5,377.6 L813.4,377.6 L861.4,377.8 L909.3,378.3 L955.2,380 L957.2,380.1 L963.4,380.6 L971.6,381.4 L979.7,382.5 L987.9,383.9 L996.1,385.9 L1004.2,388.6 L1012.4,392.4 L1020.6,397.8 L1028.8,405.8 L1036.9,418 L1045.1,465.6 L1053.3,501.9 L1061.4,501.9 L1069.6,501.9 L1077.8,501.9 L1086,501.9 L1090.4,501.9 L1094.1,501.9 L1102.3,501.9 L1104.7,501.9 L1110.5,501.9 L1115.1,501.9 L1118.6,501.9 L1123.3,501.9 L1126.8,501.9 L1130,501.9 L1135,501.9 L1135.8,501.9 L1140.8,501.9 L1143.1,501.9 L1145.2,501.9 L1149.1,501.9 L1151.3,501.9 L1152.7,501.9 L1156,501.9 L1159.1,501.9 L1159.5,501.9 L1161.9,501.9 L1164.5,501.9 L1166.9,501.9 L1167.7,501.9 L1169.2,501.9 L1171.4,501.9 L1173.5,501.9 L1175.4,501.9 L1175.8,501.9 L1177.3,501.9 L1179.1,501.9 L1180.8,501.9 L1182.4,501.9 L1183.9,501.9 L1184,501.9 L1185.4,501.9 L1186.9,501.9 L1188.3,501.9 L1189.6,501.9 L1190.9,501.9 L1192.2,501.9 L1197,510.6 L717.5,510.6 Z" fill="#fbe723"/>
<path d="M717.5,394.6 L765.5,394.7 L813.4,394.7 L861.4,395 L909.3,395.8 L955.2,398.6 L957.2,398.9 L963.4,399.7 L971.6,401 L979.7,402.9 L987.9,405.3 L996.1,408.5 L1004.2,413 L1012.4,419.1 L1020.6,433.3 L1028.8,478.3 L1036.9,501.9 L1045.1,501.9 L1053.3,501.9 L1061.4,501.9 L1069.6,501.9 L1077.8,501.9 L1086,501.9 L1090.4,501.9 L1094.1,501.9 L1102.3,501.9 L1104.7,501.9 L1110.5,501.9 L1115.1,501.9 L1118.6,501.9 L1123.3,501.9 L1126.8,501.9 L1130,501.9 L1135,501.9 L1135.8,501.9 L1140.8,501.9 L1143.1,501.9 L1145.2,501.9 L1149.1,501.9 L1151.3,501.9 L1152.7,501.9 L1156,501.9 L1159.1,501.9 L1159.5,501.9 L1161.9,501.9 L1164.5,501.9 L1166.9,501.9 L1167.7,501.9 L1169.2,501.9 L1171.4,501.9 L1173.5,501.9 L1175.4,501.9 L1175.8,501.9 L1177.3,501.9 L1179.1,501.9 L1180.8,501.9 L1182.4,501.9 L1183.9,501.9 L1184,501.9 L1185.4,501.9 L1186.9,501.9 L1188.3,501.9 L1189.6,501.9 L1190.9,501.9 L1192.2,501.9 L1197,510.6 L717.5,510.6 Z" fill="#fde725"/>
<path d="M717.5,422.8 L765.5,422.9 L813.4,423 L861.4,423.4 L909.3,425.5 L955.2,437.3 L957.2,438.6 L963.4,442.9 L971.6,450.7 L979.7,461.5 L987.9,475.4 L996.1,501.9 L1004.2,501.9 L1012.4,501.9 L1020.6,501.9 L1028.8,501.9 L1036.9,501.9 L1045.1,501.9 L1053.3,501.9 L1061.4,501.9 L1069.6,501.9 L1077.8,501.9 L1086,501.9 L1090.4,501.9 L1094.1,501.9 L1102.3,501.9 L1104.7,501.9 L1110.5,501.9 L1115.1,501.9 L1118.6,501.9 L1123.3,501.9 L1126.8,501.9 L1130,501.9 L1135,501.9 L1135.8,501.9 L1140.8,501.9 L1143.1,501.9 L1145.2,501.9 L1149.1,501.9 L1151.3,501.9 L1152.7,501.9 L1156,501.9 L1159.1,501.9 L1159.5,501.9 L1161.9,501.9 L1164.5,501.9 L1166.9,501.9 L1167.7,501.9 L1169.2,501.9 L1171.4,501.9 L1173.5,501.9 L1175.4,501.9 L1175.8,501.9 L1177.3,501.9 L1179.1,501.9 L1180.8,501.9 L1182.4,501.9 L1183.9,501.9 L1184,501.9 L1185.4,501.9 L1186.9,501.9 L1188.3,501.9 L1189.6,501.9 L1190.9,501.9 L1192.2,501.9 L1197,510.6 L717.5,510.6 Z" fill="#fde725"/>
<path d="M717.5,501.9 L765.5,501.9 L813.4,501.9 L861.4,501.9 L909.3,501.9 L955.2,501.9 L957.2,501.9 L963.4,501.9 L971.6,501.9 L979.7,501.9 L987.9,501.9 L996.1,501.9 L1004.2,501.9 L1012.4,501.9 L1020.6,501.9 L1028.8,501.9 L1036.9,501.9 L1045.1,501.9 L1053.3,501.9 L1061.4,501.9 L1069.6,501.9 L1077.8,501.9 L1086,501.9 L1090.4,501.9 L1094.1,501.9 L1102.3,501.9 L1104.7,501.9 L1110.5,501.9 L1115.1,501.9 L1118.6,501.9 L1123.3,501.9 L1126.8,501.9 L1130,501.9 L1135,501.9 L1135.8,501.9 L1140.8,501.9 L1143.1,501.9 L1145.2,501.9 L1149.1,501.9 L1151.3,501.9 L1152.7,501.9 L1156,501.9 L1159.1,501.9 L1159.5,501.9 L1161.9,501.9 L1164.5,501.9 L1166.9,501.9 L1167.7,501.9 L1169.2,501.9 L1171.4,501.9 L1173.5,501.9 L1175.4,501.9 L1175.8,501.9 L1177.3,501.9 L1179.1,501.9 L1180.8,501.9 L1182.4,501.9 L1183.9,501.9 L1184,501.9 L1185.4,501.9 L1186.9,501.9 L1188.3,501.9 L1189.6,501.9 L1190.9,501.9 L1192.2,501.9 L1197,510.6 L717.5,510.6 Z" fill="#fde725"/>
</g>
<path d="M717.5,16.4 L765.5,16.4 L813.4,16.4 L861.4,16.4 L909.3,16.4 L955.2,16.4 L957.2,16.4 L963.4,16.4 L971.6,16.4 L979.7,16.4 L987.9,16.4 L996.1,16.4 L1004.2,16.4 L1012.4,16.4 L1020.6,16.4 L1028.8,16.4 L1036.9,16.4 L1045.1,16.4 L1053.3,37.9 L1061.4,63.1 L1069.6,76.9 L1077.8,90 L1086,102.3 L1090.4,108.4 L1094.1,113.1 L1102.3,122.6 L1104.7,125.3 L1110.5,131.9 L1115.1,136.8 L1118.6,140.5 L1123.3,145.2 L1126.8,148.7 L1130,151.9 L1135,157.4 L1135.8,158.4 L1140.8,165.4 L1143.1,169.5 L1145.2,173.2 L1149.1,181.1 L1151.3,185.8 L1152.7,189 L1156,196.7 L1159.1,204.3 L1159.5,205.3 L1161.9,211.5 L1164.5,218.4 L1166.9,224.9 L1167.7,226.9 L1169.2,231.2 L1171.4,237.2 L1173.5,242.9 L1175.4,248.1 L1175.8,249.2 L1177.3,252.9 L1179.1,257.5 L1180.8,262.2 L1182.4,267 L1183.9,272.1 L1184,272.3 L1185.4,277.4 L1186.9,282.9 L1188.3,288.5 L1189.6,292.9 L1190.9,292.9 L1192.2,292.9" fill="none" stroke="#5a5a5a" stroke-width="1.3" stroke-dasharray="6,5"/>
<path d="M717.5,166.5 L765.5,166.5 L813.4,166.5 L861.4,166.6 L909.3,166.7 L955.2,167.2 L957.2,167.3 L963.4,167.4 L971.6,167.6 L979.7,167.9 L987.9,168.3 L996.1,168.7 L1004.2,169.3 L1012.4,170.1 L1020.6,171.1 L1028.8,172.4 L1036.9,174 L1045.1,176.1 L1053.3,178.6 L1061.4,181.7 L1069.6,185.1 L1077.8,189.1 L1086,193.9 L1090.4,196.8 L1094.1,199.3 L1102.3,205.3 L1104.7,207.1 L1110.5,211.6 L1115.1,215.5 L1118.6,218.6 L1123.3,222.9 L1126.8,226.3 L1130,229.5 L1135,234.9 L1135.8,235.8 L1140.8,241.9 L1143.1,245.1 L1145.2,247.8 L1149.1,253 L1151.3,256 L1152.7,258 L1156,262.9 L1159.1,267.8 L1159.5,268.6 L1161.9,273 L1164.5,278.1 L1166.9,283.2 L1167.7,284.8 L1169.2,288.4 L1171.4,293.7 L1173.5,299.1 L1175.4,304.4 L1175.8,305.5 L1177.3,309.7 L1179.1,315.1 L1180.8,321.1 L1182.4,327.9 L1183.9,335.5 L1184,335.8 L1185.4,344.2 L1186.9,356.2 L1188.3,372.1 L1189.6,394.6 L1190.9,394.6 L1192.2,394.6" fill="none" stroke="#5a5a5a" stroke-width="1.3" stroke-dasharray="6,5"/>
<path d="M717.5,242.8 L765.5,242.8 L813.4,242.8 L861.4,242.9 L909.3,243 L955.2,243.4 L957.2,243.4 L963.4,243.5 L971.6,243.7 L979.7,243.9 L987.9,244.2 L996.1,244.5 L1004.2,244.9 L1012.4,245.5 L1020.6,246.2 L1028.8,247.1 L1036.9,248.3 L1045.1,249.7 L1053.3,251.4 L1061.4,253.4 L1069.6,255.6 L1077.8,258.1 L1086,261.1 L1090.4,262.9 L1094.1,264.6 L1102.3,268.5 L1104.7,269.8 L1110.5,273.1 L1115.1,275.9 L1118.6,278.3 L1123.3,281.5 L1126.8,284.2 L1130,286.9 L1135,291.5 L1135.8,292.3 L1140.8,298.1 L1143.1,301.3 L1145.2,304.1 L1149.1,309.8 L1151.3,313.3 L1152.7,315.7 L1156,322.1 L1159.1,329.1 L1159.5,330.2 L1161.9,336.8 L1164.5,345.4 L1166.9,357.1 L1167.7,361.4 L1169.2,371.8 L1171.4,400.7 L1173.5,501.9 L1175.4,501.9 L1175.8,501.9 L1177.3,501.9 L1179.1,501.9 L1180.8,501.9 L1182.4,501.9 L1183.9,501.9 L1184,501.9 L1185.4,501.9 L1186.9,501.9 L1188.3,501.9 L1189.6,501.9 L1190.9,501.9 L1192.2,501.9" fill="none" stroke="#5a5a5a" stroke-width="1.3" stroke-dasharray="6,5"/>
<path d="M717.5,269.7 L765.5,269.7 L813.4,269.7 L861.4,269.7 L909.3,269.8 L955.2,270.2 L957.2,270.2 L963.4,270.3 L971.6,270.5 L979.7,270.7 L987.9,270.9 L996.1,271.2 L1004.2,271.7 L1012.4,272.2 L1020.6,272.9 L1028.8,273.8 L1036.9,274.9 L1045.1,276.4 L1053.3,278.2 L1061.4,280.4 L1069.6,282.8 L1077.8,285.7 L1086,289.1 L1090.4,291.3 L1094.1,293.2 L1102.3,297.7 L1104.7,299.1 L1110.5,302.7 L1115.1,305.7 L1118.6,308.1 L1123.3,311.5 L1126.8,314.3 L1130,317.2 L1135,322.4 L1135.8,323.4 L1140.8,330.7 L1143.1,335 L1145.2,339 L1149.1,349.3 L1151.3,357.4 L1152.7,363.6 L1156,384.3 L1159.1,459 L1159.5,501.9 L1161.9,501.9 L1164.5,501.9 L1166.9,501.9 L1167.7,501.9 L1169.2,501.9 L1171.4,501.9 L1173.5,501.9 L1175.4,501.9 L1175.8,501.9 L1177.3,501.9 L1179.1,501.9 L1180.8,501.9 L1182.4,501.9 L1183.9,501.9 L1184,501.9 L1185.4,501.9 L1186.9,501.9 L1188.3,501.9 L1189.6,501.9 L1190.9,501.9 L1192.2,501.9" fill="none" stroke="#5a5a5a" stroke-width="1.3" stroke-dasharray="6,5"/>
<path d="M717.5,299 L765.5,299 L813.4,299 L861.4,299 L909.3,299.2 L955.2,299.5 L957.2,299.6 L963.4,299.7 L971.6,299.8 L979.7,300.1 L987.9,300.3 L996.1,300.7 L1004.2,301.2 L1012.4,301.7 L1020.6,302.5 L1028.8,303.4 L1036.9,304.6 L1045.1,306.1 L1053.3,308 L1061.4,310.2 L1069.6,312.7 L1077.8,315.8 L1086,319.7 L1090.4,322.1 L1094.1,324.4 L1102.3,330.1 L1104.7,332 L1110.5,337 L1115.1,341.6 L1118.6,345.8 L1123.3,352.9 L1126.8,360 L1130,367.2 L1135,385.8 L1135.8,390.7 L1140.8,501.9 L1143.1,501.9 L1145.2,501.9 L1149.1,501.9 L1151.3,501.9 L1152.7,501.9 L1156,501.9 L1159.1,501.9 L1159.5,501.9 L1161.9,501.9 L1164.5,501.9 L1166.9,501.9 L1167.7,501.9 L1169.2,501.9 L1171.4,501.9 L1173.5,501.9 L1175.4,501.9 L1175.8,501.9 L1177.3,501.9 L1179.1,501.9 L1180.8,501.9 L1182.4,501.9 L1183.9,501.9 L1184,501.9 L1185.4,501.9 L1186.9,501.9 L1188.3,501.9 L1189.6,501.9 L1190.9,501.9 L1192.2,501.9" fill="none" stroke="#5a5a5a" stroke-width="1.3" stroke-dasharray="6,5"/>
<path d="M717.5,331.9 L765.5,331.9 L813.4,331.9 L861.4,331.9 L909.3,332.1 L955.2,332.6 L957.2,332.6 L963.4,332.8 L971.6,333 L979.7,333.3 L987.9,333.7 L996.1,334.2 L1004.2,334.8 L1012.4,335.6 L1020.6,336.7 L1028.8,338.1 L1036.9,339.9 L1045.1,342.4 L1053.3,345.7 L1061.4,350.1 L1069.6,356 L1077.8,363.8 L1086,374.5 L1090.4,384.5 L1094.1,396.9 L1102.3,501.9 L1104.7,501.9 L1110.5,501.9 L1115.1,501.9 L1118.6,501.9 L1123.3,501.9 L1126.8,501.9 L1130,501.9 L1135,501.9 L1135.8,501.9 L1140.8,501.9 L1143.1,501.9 L1145.2,501.9 L1149.1,501.9 L1151.3,501.9 L1152.7,501.9 L1156,501.9 L1159.1,501.9 L1159.5,501.9 L1161.9,501.9 L1164.5,501.9 L1166.9,501.9 L1167.7,501.9 L1169.2,501.9 L1171.4,501.9 L1173.5,501.9 L1175.4,501.9 L1175.8,501.9 L1177.3,501.9 L1179.1,501.9 L1180.8,501.9 L1182.4,501.9 L1183.9,501.9 L1184,501.9 L1185.4,501.9 L1186.9,501.9 L1188.3,501.9 L1189.6,501.9 L1190.9,501.9 L1192.2,501.9" fill="none" stroke="#5a5a5a" stroke-width="1.3" stroke-dasharray="6,5"/>
<path d="M717.5,359.3 L765.5,359.3 L813.4,359.3 L861.4,359.4 L909.3,359.7 L955.2,360.7 L957.2,360.8 L963.4,361 L971.6,361.5 L979.7,362 L987.9,362.7 L996.1,363.7 L1004.2,364.8 L1012.4,366.4 L1020.6,368.5 L1028.8,371.4 L1036.9,375.8 L1045.1,382.9 L1053.3,394.7 L1061.4,414.5 L1069.6,501.9 L1077.8,501.9 L1086,501.9 L1090.4,501.9 L1094.1,501.9 L1102.3,501.9 L1104.7,501.9 L1110.5,501.9 L1115.1,501.9 L1118.6,501.9 L1123.3,501.9 L1126.8,501.9 L1130,501.9 L1135,501.9 L1135.8,501.9 L1140.8,501.9 L1143.1,501.9 L1145.2,501.9 L1149.1,501.9 L1151.3,501.9 L1152.7,501.9 L1156,501.9 L1159.1,501.9 L1159.5,501.9 L1161.9,501.9 L1164.5,501.9 L1166.9,501.9 L1167.7,501.9 L1169.2,501.9 L1171.4,501.9 L1173.5,501.9 L1175.4,501.9 L1175.8,501.9 L1177.3,501.9 L1179.1,501.9 L1180.8,501.9 L1182.4,501.9 L1183.9,501.9 L1184,501.9 L1185.4,501.9 L1186.9,501.9 L1188.3,501.9 L1189.6,501.9 L1190.9,501.9 L1192.2,501.9" fill="none" stroke="#5a5a5a" stroke-width="1.3" stroke-dasharray="6,5"/>
<path d="M717.5,422.8 L765.5,422.9 L813.4,423 L861.4,423.4 L909.3,425.5 L955.2,437.3 L957.2,438.6 L963.4,442.9 L971.6,450.7 L979.7,461.5 L987.9,475.4 L996.1,501.9 L1004.2,501.9 L1012.4,501.9 L1020.6,501.9 L1028.8,501.9 L1036.9,501.9 L1045.1,501.9 L1053.3,501.9 L1061.4,501.9 L1069.6,501.9 L1077.8,501.9 L1086,501.9 L1090.4,501.9 L1094.1,501.9 L1102.3,501.9 L1104.7,501.9 L1110.5,501.9 L1115.1,501.9 L1118.6,501.9 L1123.3,501.9 L1126.8,501.9 L1130,501.9 L1135,501.9 L1135.8,501.9 L1140.8,501.9 L1143.1,501.9 L1145.2,501.9 L1149.1,501.9 L1151.3,501.9 L1152.7,501.9 L1156,501.9 L1159.1,501.9 L1159.5,501.9 L1161.9,501.9 L1164.5,501.9 L1166.9,501.9 L1167.7,501.9 L1169.2,501.9 L1171.4,501.9 L1173.5,501.9 L1175.4,501.9 L1175.8,501.9 L1177.3,501.9 L1179.1,501.9 L1180.8,501.9 L1182.4,501.9 L1183.9,501.9 L1184,501.9 L1185.4,501.9 L1186.9,501.9 L1188.3,501.9 L1189.6,501.9 L1190.9,501.9 L1192.2,501.9" fill="none" stroke="#5a5a5a" stroke-width="1.3" stroke-dasharray="6,5"/>
</g>
<circle cx="823" cy="291.7" r="4.6" fill="#7d1a86"/>
<circle cx="923.2" cy="341.6" r="4.6" fill="#7d1a86"/>
<circle cx="961.4" cy="358.8" r="4.6" fill="#7d1a86"/>
<circle cx="1023.3" cy="353.4" r="4.6" fill="#7d1a86"/>
<circle cx="1033" cy="378.4" r="4.6" fill="#7d1a86"/>
<circle cx="1091" cy="353.4" r="4.6" fill="#7d1a86"/>
<circle cx="994.7" cy="382.2" r="7.2" fill="#7d1a86"/>
<path d="M849.9,291.5 L851.4,295 L855.1,295.3 L852.3,297.8 L853.1,301.4 L849.9,299.5 L846.7,301.4 L847.5,297.8 L844.7,295.3 L848.4,295 Z" fill="#f01e1e"/>
<path d="M849.9,302.4 L851.4,305.9 L855.1,306.2 L852.3,308.7 L853.1,312.3 L849.9,310.4 L846.7,312.3 L847.5,308.7 L844.7,306.2 L848.4,305.9 Z" fill="#f01e1e"/>
<path d="M974.6,399.7 L976.1,403.2 L979.8,403.5 L977,406 L977.8,409.6 L974.6,407.7 L971.4,409.6 L972.2,406 L969.4,403.5 L973.1,403.2 Z" fill="#f01e1e"/>
<path d="M1068.6,347.6 L1070.1,351.3 L1074.1,351.6 L1071.1,354.2 L1072,358.1 L1068.6,356 L1065.2,358.1 L1066.1,354.2 L1063.1,351.6 L1067.1,351.3 Z" fill="#f01e1e"/>
<path d="M1145.7,347.6 L1147.2,351.3 L1151.2,351.6 L1148.2,354.2 L1149.1,358.1 L1145.7,356 L1142.3,358.1 L1143.2,354.2 L1140.2,351.6 L1144.2,351.3 Z" fill="#f01e1e"/>
<path d="M1047.7,361 L1050.2,367 L1056.7,367.6 L1051.8,371.8 L1053.3,378.2 L1047.7,374.8 L1042.1,378.2 L1043.6,371.8 L1038.7,367.6 L1045.2,367 Z" fill="#f01e1e"/>
<path d="M735.3,102 L736.6,105.2 L740.1,105.5 L737.4,107.7 L738.2,111 L735.3,109.2 L732.4,111 L733.2,107.7 L730.5,105.5 L734,105.2 Z" fill="#f01e1e" clip-path="url(#clipB)"/>
<circle cx="735.3" cy="110.7" r="3.8" fill="#7d1a86" clip-path="url(#clipB)"/>
<line x1="1058.8" y1="382.2" x2="1064.9" y2="389.6" stroke="#f01e1e" stroke-width="1.3"/>
<line x1="1006" y1="394.5" x2="1034.3" y2="417.7" stroke="#f01e1e" stroke-width="1.3"/>
<text x="1064.9" y="403" font-size="19" text-anchor="start" fill="#f01e1e" textLength="107.7" lengthAdjust="spacingAndGlyphs" >This work (p)</text>
<text x="1036.7" y="431.2" font-size="19" text-anchor="start" fill="#f01e1e" textLength="106.5" lengthAdjust="spacingAndGlyphs" >This work (n)</text>
<line x1="920.8" y1="195.4" x2="945.6" y2="233.2" stroke="#000" stroke-width="1.6"/>
<path d="M949,238.5 L940.7,233.2 L945.3,232.9 L947.4,228.8 Z" fill="#000"/>
<line x1="1127.3" y1="292.8" x2="1078.8" y2="312.8" stroke="#000" stroke-width="1.6"/>
<path d="M1073,315.2 L1079.8,308.1 L1079.2,312.6 L1082.8,315.5 Z" fill="#000"/>
<text x="747" y="83.8" font-size="19" text-anchor="start" fill="#000" textLength="151.8" lengthAdjust="spacingAndGlyphs" >Diffusion contacts</text>
<text x="818" y="443.4" font-size="19" text-anchor="start" fill="#000" textLength="164" lengthAdjust="spacingAndGlyphs" >Tunnelling contacts</text>
<rect x="740.5" y="160.9" width="40.5" height="19.5" fill="#fff"/>
<text x="760.7" y="178.1" font-size="19.5" text-anchor="middle" fill="#000" textLength="35.5" lengthAdjust="spacingAndGlyphs" >82.0</text>
<rect x="740.5" y="232.8" width="40.5" height="19.5" fill="#fff"/>
<text x="760.7" y="250" font-size="19.5" text-anchor="middle" fill="#000" textLength="35.5" lengthAdjust="spacingAndGlyphs" >84.0</text>
<rect x="740.5" y="259.7" width="40.5" height="19.5" fill="#fff"/>
<text x="760.7" y="276.9" font-size="19.5" text-anchor="middle" fill="#000" textLength="35.5" lengthAdjust="spacingAndGlyphs" >85.0</text>
<rect x="740.5" y="289" width="40.5" height="19.5" fill="#fff"/>
<text x="760.7" y="306.2" font-size="19.5" text-anchor="middle" fill="#000" textLength="35.5" lengthAdjust="spacingAndGlyphs" >86.0</text>
<rect x="740.5" y="321.9" width="40.5" height="19.5" fill="#fff"/>
<text x="760.7" y="339.1" font-size="19.5" text-anchor="middle" fill="#000" textLength="35.5" lengthAdjust="spacingAndGlyphs" >87.0</text>
<rect x="740.5" y="349.3" width="40.5" height="19.5" fill="#fff"/>
<text x="760.7" y="366.5" font-size="19.5" text-anchor="middle" fill="#000" textLength="35.5" lengthAdjust="spacingAndGlyphs" >87.5</text>
<rect x="740.5" y="412.8" width="40.5" height="19.5" fill="#fff"/>
<text x="760.7" y="430" font-size="19.5" text-anchor="middle" fill="#000" textLength="35.5" lengthAdjust="spacingAndGlyphs" >87.9</text>
<rect x="1058.3" y="34.7" width="40.3" height="19.5" fill="#fff"/>
<text x="1078.4" y="51.7" font-size="19.5" text-anchor="middle" fill="#000" textLength="35.5" lengthAdjust="spacingAndGlyphs" >80.0</text>
<rect x="735.3" y="33.7" width="443.9" height="433.5" fill="none" stroke="#1a1a1a" stroke-width="1.3"/>
<line x1="735.3" y1="467.2" x2="742.3" y2="467.2" stroke="#1a1a1a" stroke-width="1.1"/>
<line x1="735.3" y1="441.1" x2="738.8" y2="441.1" stroke="#1a1a1a" stroke-width="1.1"/>
<line x1="735.3" y1="425.8" x2="738.8" y2="425.8" stroke="#1a1a1a" stroke-width="1.1"/>
<line x1="735.3" y1="415" x2="738.8" y2="415" stroke="#1a1a1a" stroke-width="1.1"/>
<line x1="735.3" y1="406.6" x2="738.8" y2="406.6" stroke="#1a1a1a" stroke-width="1.1"/>
<line x1="735.3" y1="399.7" x2="738.8" y2="399.7" stroke="#1a1a1a" stroke-width="1.1"/>
<line x1="735.3" y1="393.9" x2="738.8" y2="393.9" stroke="#1a1a1a" stroke-width="1.1"/>
<line x1="735.3" y1="388.9" x2="738.8" y2="388.9" stroke="#1a1a1a" stroke-width="1.1"/>
<line x1="735.3" y1="384.5" x2="738.8" y2="384.5" stroke="#1a1a1a" stroke-width="1.1"/>
<line x1="735.3" y1="380.5" x2="742.3" y2="380.5" stroke="#1a1a1a" stroke-width="1.1"/>
<line x1="735.3" y1="354.4" x2="738.8" y2="354.4" stroke="#1a1a1a" stroke-width="1.1"/>
<line x1="735.3" y1="339.1" x2="738.8" y2="339.1" stroke="#1a1a1a" stroke-width="1.1"/>
<line x1="735.3" y1="328.3" x2="738.8" y2="328.3" stroke="#1a1a1a" stroke-width="1.1"/>
<line x1="735.3" y1="319.9" x2="738.8" y2="319.9" stroke="#1a1a1a" stroke-width="1.1"/>
<line x1="735.3" y1="313" x2="738.8" y2="313" stroke="#1a1a1a" stroke-width="1.1"/>
<line x1="735.3" y1="307.2" x2="738.8" y2="307.2" stroke="#1a1a1a" stroke-width="1.1"/>
<line x1="735.3" y1="302.2" x2="738.8" y2="302.2" stroke="#1a1a1a" stroke-width="1.1"/>
<line x1="735.3" y1="297.8" x2="738.8" y2="297.8" stroke="#1a1a1a" stroke-width="1.1"/>
<line x1="735.3" y1="293.8" x2="742.3" y2="293.8" stroke="#1a1a1a" stroke-width="1.1"/>
<line x1="735.3" y1="267.7" x2="738.8" y2="267.7" stroke="#1a1a1a" stroke-width="1.1"/>
<line x1="735.3" y1="252.4" x2="738.8" y2="252.4" stroke="#1a1a1a" stroke-width="1.1"/>
<line x1="735.3" y1="241.6" x2="738.8" y2="241.6" stroke="#1a1a1a" stroke-width="1.1"/>
<line x1="735.3" y1="233.2" x2="738.8" y2="233.2" stroke="#1a1a1a" stroke-width="1.1"/>
<line x1="735.3" y1="226.3" x2="738.8" y2="226.3" stroke="#1a1a1a" stroke-width="1.1"/>
<line x1="735.3" y1="220.5" x2="738.8" y2="220.5" stroke="#1a1a1a" stroke-width="1.1"/>
<line x1="735.3" y1="215.5" x2="738.8" y2="215.5" stroke="#1a1a1a" stroke-width="1.1"/>
<line x1="735.3" y1="211.1" x2="738.8" y2="211.1" stroke="#1a1a1a" stroke-width="1.1"/>
<line x1="735.3" y1="207.1" x2="742.3" y2="207.1" stroke="#1a1a1a" stroke-width="1.1"/>
<line x1="735.3" y1="181" x2="738.8" y2="181" stroke="#1a1a1a" stroke-width="1.1"/>
<line x1="735.3" y1="165.7" x2="738.8" y2="165.7" stroke="#1a1a1a" stroke-width="1.1"/>
<line x1="735.3" y1="154.9" x2="738.8" y2="154.9" stroke="#1a1a1a" stroke-width="1.1"/>
<line x1="735.3" y1="146.5" x2="738.8" y2="146.5" stroke="#1a1a1a" stroke-width="1.1"/>
<line x1="735.3" y1="139.6" x2="738.8" y2="139.6" stroke="#1a1a1a" stroke-width="1.1"/>
<line x1="735.3" y1="133.8" x2="738.8" y2="133.8" stroke="#1a1a1a" stroke-width="1.1"/>
<line x1="735.3" y1="128.8" x2="738.8" y2="128.8" stroke="#1a1a1a" stroke-width="1.1"/>
<line x1="735.3" y1="124.4" x2="738.8" y2="124.4" stroke="#1a1a1a" stroke-width="1.1"/>
<line x1="735.3" y1="120.4" x2="742.3" y2="120.4" stroke="#1a1a1a" stroke-width="1.1"/>
<line x1="735.3" y1="94.3" x2="738.8" y2="94.3" stroke="#1a1a1a" stroke-width="1.1"/>
<line x1="735.3" y1="79" x2="738.8" y2="79" stroke="#1a1a1a" stroke-width="1.1"/>
<line x1="735.3" y1="68.2" x2="738.8" y2="68.2" stroke="#1a1a1a" stroke-width="1.1"/>
<line x1="735.3" y1="59.8" x2="738.8" y2="59.8" stroke="#1a1a1a" stroke-width="1.1"/>
<line x1="735.3" y1="52.9" x2="738.8" y2="52.9" stroke="#1a1a1a" stroke-width="1.1"/>
<line x1="735.3" y1="47.1" x2="738.8" y2="47.1" stroke="#1a1a1a" stroke-width="1.1"/>
<line x1="735.3" y1="42.1" x2="738.8" y2="42.1" stroke="#1a1a1a" stroke-width="1.1"/>
<line x1="735.3" y1="37.7" x2="738.8" y2="37.7" stroke="#1a1a1a" stroke-width="1.1"/>
<line x1="735.3" y1="467.2" x2="735.3" y2="460.2" stroke="#1a1a1a" stroke-width="1.1"/>
<line x1="762" y1="467.2" x2="762" y2="463.7" stroke="#1a1a1a" stroke-width="1.1"/>
<line x1="777.7" y1="467.2" x2="777.7" y2="463.7" stroke="#1a1a1a" stroke-width="1.1"/>
<line x1="788.8" y1="467.2" x2="788.8" y2="463.7" stroke="#1a1a1a" stroke-width="1.1"/>
<line x1="797.4" y1="467.2" x2="797.4" y2="463.7" stroke="#1a1a1a" stroke-width="1.1"/>
<line x1="804.4" y1="467.2" x2="804.4" y2="463.7" stroke="#1a1a1a" stroke-width="1.1"/>
<line x1="810.3" y1="467.2" x2="810.3" y2="463.7" stroke="#1a1a1a" stroke-width="1.1"/>
<line x1="815.5" y1="467.2" x2="815.5" y2="463.7" stroke="#1a1a1a" stroke-width="1.1"/>
<line x1="820" y1="467.2" x2="820" y2="463.7" stroke="#1a1a1a" stroke-width="1.1"/>
<line x1="824.1" y1="467.2" x2="824.1" y2="460.2" stroke="#1a1a1a" stroke-width="1.1"/>
<line x1="850.8" y1="467.2" x2="850.8" y2="463.7" stroke="#1a1a1a" stroke-width="1.1"/>
<line x1="866.4" y1="467.2" x2="866.4" y2="463.7" stroke="#1a1a1a" stroke-width="1.1"/>
<line x1="877.5" y1="467.2" x2="877.5" y2="463.7" stroke="#1a1a1a" stroke-width="1.1"/>
<line x1="886.1" y1="467.2" x2="886.1" y2="463.7" stroke="#1a1a1a" stroke-width="1.1"/>
<line x1="893.2" y1="467.2" x2="893.2" y2="463.7" stroke="#1a1a1a" stroke-width="1.1"/>
<line x1="899.1" y1="467.2" x2="899.1" y2="463.7" stroke="#1a1a1a" stroke-width="1.1"/>
<line x1="904.3" y1="467.2" x2="904.3" y2="463.7" stroke="#1a1a1a" stroke-width="1.1"/>
<line x1="908.8" y1="467.2" x2="908.8" y2="463.7" stroke="#1a1a1a" stroke-width="1.1"/>
<line x1="912.9" y1="467.2" x2="912.9" y2="460.2" stroke="#1a1a1a" stroke-width="1.1"/>
<line x1="939.6" y1="467.2" x2="939.6" y2="463.7" stroke="#1a1a1a" stroke-width="1.1"/>
<line x1="955.2" y1="467.2" x2="955.2" y2="463.7" stroke="#1a1a1a" stroke-width="1.1"/>
<line x1="966.3" y1="467.2" x2="966.3" y2="463.7" stroke="#1a1a1a" stroke-width="1.1"/>
<line x1="974.9" y1="467.2" x2="974.9" y2="463.7" stroke="#1a1a1a" stroke-width="1.1"/>
<line x1="981.9" y1="467.2" x2="981.9" y2="463.7" stroke="#1a1a1a" stroke-width="1.1"/>
<line x1="987.9" y1="467.2" x2="987.9" y2="463.7" stroke="#1a1a1a" stroke-width="1.1"/>
<line x1="993" y1="467.2" x2="993" y2="463.7" stroke="#1a1a1a" stroke-width="1.1"/>
<line x1="997.6" y1="467.2" x2="997.6" y2="463.7" stroke="#1a1a1a" stroke-width="1.1"/>
<line x1="1001.6" y1="467.2" x2="1001.6" y2="460.2" stroke="#1a1a1a" stroke-width="1.1"/>
<line x1="1028.4" y1="467.2" x2="1028.4" y2="463.7" stroke="#1a1a1a" stroke-width="1.1"/>
<line x1="1044" y1="467.2" x2="1044" y2="463.7" stroke="#1a1a1a" stroke-width="1.1"/>
<line x1="1055.1" y1="467.2" x2="1055.1" y2="463.7" stroke="#1a1a1a" stroke-width="1.1"/>
<line x1="1063.7" y1="467.2" x2="1063.7" y2="463.7" stroke="#1a1a1a" stroke-width="1.1"/>
<line x1="1070.7" y1="467.2" x2="1070.7" y2="463.7" stroke="#1a1a1a" stroke-width="1.1"/>
<line x1="1076.7" y1="467.2" x2="1076.7" y2="463.7" stroke="#1a1a1a" stroke-width="1.1"/>
<line x1="1081.8" y1="467.2" x2="1081.8" y2="463.7" stroke="#1a1a1a" stroke-width="1.1"/>
<line x1="1086.4" y1="467.2" x2="1086.4" y2="463.7" stroke="#1a1a1a" stroke-width="1.1"/>
<line x1="1090.4" y1="467.2" x2="1090.4" y2="460.2" stroke="#1a1a1a" stroke-width="1.1"/>
<line x1="1117.1" y1="467.2" x2="1117.1" y2="463.7" stroke="#1a1a1a" stroke-width="1.1"/>
<line x1="1132.8" y1="467.2" x2="1132.8" y2="463.7" stroke="#1a1a1a" stroke-width="1.1"/>
<line x1="1143.9" y1="467.2" x2="1143.9" y2="463.7" stroke="#1a1a1a" stroke-width="1.1"/>
<line x1="1152.5" y1="467.2" x2="1152.5" y2="463.7" stroke="#1a1a1a" stroke-width="1.1"/>
<line x1="1159.5" y1="467.2" x2="1159.5" y2="463.7" stroke="#1a1a1a" stroke-width="1.1"/>
<line x1="1165.4" y1="467.2" x2="1165.4" y2="463.7" stroke="#1a1a1a" stroke-width="1.1"/>
<line x1="1170.6" y1="467.2" x2="1170.6" y2="463.7" stroke="#1a1a1a" stroke-width="1.1"/>
<line x1="1175.1" y1="467.2" x2="1175.1" y2="463.7" stroke="#1a1a1a" stroke-width="1.1"/>
<text x="727" y="475.2" font-size="19" text-anchor="end" fill="#000" >10<tspan font-size="13" dy="-8.5">−1</tspan></text>
<text x="727" y="388.5" font-size="19" text-anchor="end" fill="#000" >10<tspan font-size="13" dy="-8.5">0</tspan></text>
<text x="727" y="301.8" font-size="19" text-anchor="end" fill="#000" >10<tspan font-size="13" dy="-8.5">1</tspan></text>
<text x="727" y="215.1" font-size="19" text-anchor="end" fill="#000" >10<tspan font-size="13" dy="-8.5">2</tspan></text>
<text x="727" y="128.4" font-size="19" text-anchor="end" fill="#000" >10<tspan font-size="13" dy="-8.5">3</tspan></text>
<text x="727" y="41.7" font-size="19" text-anchor="end" fill="#000" >10<tspan font-size="13" dy="-8.5">4</tspan></text>
<text x="736.8" y="496" font-size="19" text-anchor="middle" fill="#000" >10<tspan font-size="13" dy="-8.5">−2</tspan></text>
<text x="825.6" y="496" font-size="19" text-anchor="middle" fill="#000" >10<tspan font-size="13" dy="-8.5">−1</tspan></text>
<text x="914.4" y="496" font-size="19" text-anchor="middle" fill="#000" >10<tspan font-size="13" dy="-8.5">0</tspan></text>
<text x="1003.1" y="496" font-size="19" text-anchor="middle" fill="#000" >10<tspan font-size="13" dy="-8.5">1</tspan></text>
<text x="1091.9" y="496" font-size="19" text-anchor="middle" fill="#000" >10<tspan font-size="13" dy="-8.5">2</tspan></text>
<text x="1180.7" y="496" font-size="19" text-anchor="middle" fill="#000" >10<tspan font-size="13" dy="-8.5">3</tspan></text>
<text x="655.5" y="21" font-size="25" text-anchor="start" fill="#000" font-weight="bold" stroke="#000" stroke-width="0.9">b</text>
<circle cx="751.2" cy="14.5" r="4.6" fill="#7d1a86"/>
<text x="764.5" y="21" font-size="19" text-anchor="start" fill="#000" textLength="124.3" lengthAdjust="spacingAndGlyphs" >n-type contact</text>
<path d="M915,8.2 L916.7,12.2 L921,12.6 L917.7,15.4 L918.7,19.6 L915,17.3 L911.3,19.6 L912.3,15.4 L909,12.6 L913.3,12.2 Z" fill="#f01e1e"/>
<text x="929.5" y="21" font-size="19" text-anchor="start" fill="#000" textLength="124.5" lengthAdjust="spacingAndGlyphs" >p-type contact</text>
<text x="1189" y="15.3" font-size="19" text-anchor="start" fill="#000" textLength="54" lengthAdjust="spacingAndGlyphs" >FF (%)</text>
<text transform="translate(681,255) rotate(-90)" font-size="19" text-anchor="middle"><tspan font-style="italic">J</tspan><tspan font-size="13" dy="4">0,n/p</tspan><tspan dy="-4"> (fA cm</tspan><tspan font-size="13" dy="-7">−2</tspan><tspan dy="7">)</tspan></text>
<text x="957" y="525" font-size="19" text-anchor="middle" fill="#000" ><tspan font-style="italic">ρ</tspan><tspan font-size="13" dy="4">c,n/p</tspan><tspan dy="-4"> (mΩ cm</tspan><tspan font-size="13" dy="-7">2</tspan><tspan dy="7">)</tspan></text>
<rect x="1193.3" y="31.4" width="47.1" height="7.9" fill="#faee64"/>
<rect x="1193.3" y="38.7" width="47.1" height="7.9" fill="#f4ed60"/>
<rect x="1193.3" y="45.9" width="47.1" height="7.9" fill="#ecec5e"/>
<rect x="1193.3" y="53.2" width="47.1" height="7.9" fill="#e5eb5e"/>
<rect x="1193.3" y="60.5" width="47.1" height="7.9" fill="#dcea61"/>
<rect x="1193.3" y="67.8" width="47.1" height="7.9" fill="#d5e965"/>
<rect x="1193.3" y="75" width="47.1" height="7.9" fill="#cde86a"/>
<rect x="1193.3" y="82.3" width="47.1" height="7.9" fill="#c6e76e"/>
<rect x="1193.3" y="89.6" width="47.1" height="7.9" fill="#bce574"/>
<rect x="1193.3" y="96.8" width="47.1" height="7.9" fill="#b5e479"/>
<rect x="1193.3" y="104.1" width="47.1" height="7.9" fill="#aee27e"/>
<rect x="1193.3" y="111.4" width="47.1" height="7.9" fill="#a5e083"/>
<rect x="1193.3" y="118.7" width="47.1" height="7.9" fill="#9ede87"/>
<rect x="1193.3" y="125.9" width="47.1" height="7.9" fill="#98dc8b"/>
<rect x="1193.3" y="133.2" width="47.1" height="7.9" fill="#91da8f"/>
<rect x="1193.3" y="140.5" width="47.1" height="7.9" fill="#8ad893"/>
<rect x="1193.3" y="147.7" width="47.1" height="7.9" fill="#84d697"/>
<rect x="1193.3" y="155" width="47.1" height="7.9" fill="#7fd39a"/>
<rect x="1193.3" y="162.3" width="47.1" height="7.9" fill="#7ad19d"/>
<rect x="1193.3" y="169.6" width="47.1" height="7.9" fill="#74cea0"/>
<rect x="1193.3" y="176.8" width="47.1" height="7.9" fill="#70cca2"/>
<rect x="1193.3" y="184.1" width="47.1" height="7.9" fill="#6cc9a4"/>
<rect x="1193.3" y="191.4" width="47.1" height="7.9" fill="#69c7a6"/>
<rect x="1193.3" y="198.6" width="47.1" height="7.9" fill="#66c3a8"/>
<rect x="1193.3" y="205.9" width="47.1" height="7.9" fill="#64c1aa"/>
<rect x="1193.3" y="213.2" width="47.1" height="7.9" fill="#63beab"/>
<rect x="1193.3" y="220.5" width="47.1" height="7.9" fill="#62bbac"/>
<rect x="1193.3" y="227.7" width="47.1" height="7.9" fill="#62b8ad"/>
<rect x="1193.3" y="235" width="47.1" height="7.9" fill="#62b6ae"/>
<rect x="1193.3" y="242.3" width="47.1" height="7.9" fill="#63b3af"/>
<rect x="1193.3" y="249.6" width="47.1" height="7.9" fill="#64b0af"/>
<rect x="1193.3" y="256.8" width="47.1" height="7.9" fill="#65adaf"/>
<rect x="1193.3" y="264.1" width="47.1" height="7.9" fill="#66aab0"/>
<rect x="1193.3" y="271.4" width="47.1" height="7.9" fill="#67a8b0"/>
<rect x="1193.3" y="278.6" width="47.1" height="7.9" fill="#68a5b0"/>
<rect x="1193.3" y="285.9" width="47.1" height="7.9" fill="#69a2b0"/>
<rect x="1193.3" y="293.2" width="47.1" height="7.9" fill="#6a9fb0"/>
<rect x="1193.3" y="300.5" width="47.1" height="7.9" fill="#6b9db0"/>
<rect x="1193.3" y="307.7" width="47.1" height="7.9" fill="#6d99b0"/>
<rect x="1193.3" y="315" width="47.1" height="7.9" fill="#6e97b0"/>
<rect x="1193.3" y="322.3" width="47.1" height="7.9" fill="#6f94b0"/>
<rect x="1193.3" y="329.5" width="47.1" height="7.9" fill="#7190af"/>
<rect x="1193.3" y="336.8" width="47.1" height="7.9" fill="#728daf"/>
<rect x="1193.3" y="344.1" width="47.1" height="7.9" fill="#738baf"/>
<rect x="1193.3" y="351.4" width="47.1" height="7.9" fill="#7588ae"/>
<rect x="1193.3" y="358.6" width="47.1" height="7.9" fill="#7784ad"/>
<rect x="1193.3" y="365.9" width="47.1" height="7.9" fill="#7881ad"/>
<rect x="1193.3" y="373.2" width="47.1" height="7.9" fill="#797dac"/>
<rect x="1193.3" y="380.4" width="47.1" height="7.9" fill="#7a7aaa"/>
<rect x="1193.3" y="387.7" width="47.1" height="7.9" fill="#7c76a9"/>
<rect x="1193.3" y="395" width="47.1" height="7.9" fill="#7d73a7"/>
<rect x="1193.3" y="402.3" width="47.1" height="7.9" fill="#7e6fa5"/>
<rect x="1193.3" y="409.5" width="47.1" height="7.9" fill="#7e6ca3"/>
<rect x="1193.3" y="416.8" width="47.1" height="7.9" fill="#7f67a0"/>
<rect x="1193.3" y="424.1" width="47.1" height="7.9" fill="#7f649d"/>
<rect x="1193.3" y="431.3" width="47.1" height="7.9" fill="#7f609a"/>
<rect x="1193.3" y="438.6" width="47.1" height="7.9" fill="#7f5c95"/>
<rect x="1193.3" y="445.9" width="47.1" height="7.9" fill="#7e5892"/>
<rect x="1193.3" y="453.2" width="47.1" height="7.9" fill="#7e538e"/>
<rect x="1193.3" y="460.4" width="47.1" height="7.9" fill="#7d4f89"/>
<rect x="1193.3" y="31.4" width="47.1" height="436.3" fill="none" stroke="#1a1a1a" stroke-width="1.3"/>
<line x1="1240.4" y1="463.4" x2="1234.9" y2="463.4" stroke="#1a1a1a" stroke-width="1.2"/>
<text x="1249" y="469.9" font-size="19" text-anchor="start" fill="#000" >75</text>
<line x1="1240.4" y1="413.1" x2="1236.9" y2="413.1" stroke="#1a1a1a" stroke-width="1.2"/>
<line x1="1240.4" y1="362.8" x2="1234.9" y2="362.8" stroke="#1a1a1a" stroke-width="1.2"/>
<text x="1249" y="369.3" font-size="19" text-anchor="start" fill="#000" >78</text>
<line x1="1240.4" y1="312.5" x2="1236.9" y2="312.5" stroke="#1a1a1a" stroke-width="1.2"/>
<line x1="1240.4" y1="262.2" x2="1234.9" y2="262.2" stroke="#1a1a1a" stroke-width="1.2"/>
<text x="1249" y="268.7" font-size="19" text-anchor="start" fill="#000" >81</text>
<line x1="1240.4" y1="211.9" x2="1236.9" y2="211.9" stroke="#1a1a1a" stroke-width="1.2"/>
<line x1="1240.4" y1="161.6" x2="1234.9" y2="161.6" stroke="#1a1a1a" stroke-width="1.2"/>
<text x="1249" y="168.1" font-size="19" text-anchor="start" fill="#000" >84</text>
<line x1="1240.4" y1="111.3" x2="1236.9" y2="111.3" stroke="#1a1a1a" stroke-width="1.2"/>
<line x1="1240.4" y1="61" x2="1234.9" y2="61" stroke="#1a1a1a" stroke-width="1.2"/>
<text x="1249" y="67.5" font-size="19" text-anchor="start" fill="#000" >87</text>
<clipPath id="clipC"><rect x="73.2" y="570.4" width="324.6" height="252.5"/></clipPath>
<g clip-path="url(#clipC)">
<path d="M69.1,767.8 L72.9,769.8 L76.6,772.1 L80.4,774.5 L84.1,777.1 L87.8,779.8 L91.6,782.5 L95.3,785.3 L99,788 L102.8,790.7 L106.5,793.2 L110.3,795.5 L114,797.7 L117.7,799.6 L121.5,801.4 L125.2,802.9 L129,804.2 L132.7,805.4 L136.4,806.4 L140.2,807.2 L143.9,807.9 L147.6,808.5 L151.4,809 L155.1,809.5 L158.9,809.8 L162.6,810.1 L166.3,810.3 L170.1,810.5 L173.8,810.7 L177.6,810.8 L181.3,810.9 L185,811 L188.8,811.1 L192.5,811.2 L196.2,811.2 L200,811.3 L203.7,811.3 L207.5,811.3 L211.2,811.4 L214.9,811.4 L218.7,811.4 L222.4,811.4 L226.2,811.4 L229.9,811.4 L233.6,811.4 L237.4,811.4 L241.1,811.4 L244.8,811.4 L248.6,811.5 L252.3,811.5 L256.1,811.5 L259.8,811.5 L263.5,811.5 L267.3,811.5 L271,811.5 L274.8,811.5 L278.5,811.5 L282.2,811.5 L286,811.5 L289.7,811.5 L293.4,811.5 L297.2,811.5 L300.9,811.5 L304.7,811.5 L308.4,811.5 L312.1,811.5 L315.9,811.5 L319.6,811.5 L323.4,811.5 L327.1,811.5 L330.8,811.5 L334.6,811.5 L338.3,811.5 L342,811.5 L345.8,811.5 L349.5,811.5 L353.3,811.5 L357,811.5 L360.7,811.5 L364.5,811.5 L368.2,811.5 L372,811.5 L375.7,811.5 L379.4,811.5 L383.2,811.5 L386.9,811.5 L390.6,811.5 L394.4,811.5 L398.1,811.5 L401.9,811.5" fill="none" stroke="#6a9cf0" stroke-width="1.5"/>
<path d="M69.1,758.1 L72.9,758.7 L76.6,759.4 L80.4,760.2 L84.1,761.1 L87.8,762.2 L91.6,763.5 L95.3,764.9 L99,766.6 L102.8,768.4 L106.5,770.4 L110.3,772.6 L114,775 L117.7,777.5 L121.5,780.1 L125.2,782.8 L129,785.5 L132.7,788.1 L136.4,790.7 L140.2,793.1 L143.9,795.4 L147.6,797.5 L151.4,799.4 L155.1,801.1 L158.9,802.6 L162.6,804 L166.3,805.1 L170.1,806.1 L173.8,807 L177.6,807.7 L181.3,808.3 L185,808.8 L188.8,809.3 L192.5,809.6 L196.2,810 L200,810.2 L203.7,810.4 L207.5,810.6 L211.2,810.8 L214.9,810.9 L218.7,811 L222.4,811.1 L226.2,811.1 L229.9,811.2 L233.6,811.2 L237.4,811.3 L241.1,811.3 L244.8,811.3 L248.6,811.4 L252.3,811.4 L256.1,811.4 L259.8,811.4 L263.5,811.4 L267.3,811.4 L271,811.4 L274.8,811.4 L278.5,811.4 L282.2,811.4 L286,811.5 L289.7,811.5 L293.4,811.5 L297.2,811.5 L300.9,811.5 L304.7,811.5 L308.4,811.5 L312.1,811.5 L315.9,811.5 L319.6,811.5 L323.4,811.5 L327.1,811.5 L330.8,811.5 L334.6,811.5 L338.3,811.5 L342,811.5 L345.8,811.5 L349.5,811.5 L353.3,811.5 L357,811.5 L360.7,811.5 L364.5,811.5 L368.2,811.5 L372,811.5 L375.7,811.5 L379.4,811.5 L383.2,811.5 L386.9,811.5 L390.6,811.5 L394.4,811.5 L398.1,811.5 L401.9,811.5" fill="none" stroke="#8ccff5" stroke-width="1.5"/>
<path d="M69.1,755.4 L72.9,755.5 L76.6,755.5 L80.4,755.6 L84.1,755.6 L87.8,755.7 L91.6,755.8 L95.3,756 L99,756.1 L102.8,756.3 L106.5,756.6 L110.3,756.9 L114,757.2 L117.7,757.6 L121.5,758.1 L125.2,758.6 L129,759.3 L132.7,760.1 L136.4,761 L140.2,762.1 L143.9,763.3 L147.6,764.8 L151.4,766.4 L155.1,768.2 L158.9,770.2 L162.6,772.4 L166.3,774.7 L170.1,777.2 L173.8,779.8 L177.6,782.5 L181.3,785.2 L185,787.8 L188.8,790.4 L192.5,792.9 L196.2,795.2 L200,797.3 L203.7,799.2 L207.5,800.9 L211.2,802.5 L214.9,803.8 L218.7,805 L222.4,806 L226.2,806.9 L229.9,807.6 L233.6,808.3 L237.4,808.8 L241.1,809.2 L244.8,809.6 L248.6,809.9 L252.3,810.2 L256.1,810.4 L259.8,810.6 L263.5,810.7 L267.3,810.9 L271,811 L274.8,811.1 L278.5,811.1 L282.2,811.2 L286,811.2 L289.7,811.3 L293.4,811.3 L297.2,811.3 L300.9,811.4 L304.7,811.4 L308.4,811.4 L312.1,811.4 L315.9,811.4 L319.6,811.4 L323.4,811.4 L327.1,811.4 L330.8,811.4 L334.6,811.4 L338.3,811.5 L342,811.5 L345.8,811.5 L349.5,811.5 L353.3,811.5 L357,811.5 L360.7,811.5 L364.5,811.5 L368.2,811.5 L372,811.5 L375.7,811.5 L379.4,811.5 L383.2,811.5 L386.9,811.5 L390.6,811.5 L394.4,811.5 L398.1,811.5 L401.9,811.5" fill="none" stroke="#62e4e4" stroke-width="1.5"/>
<path d="M69.1,755.3 L72.9,755.4 L76.6,755.4 L80.4,755.4 L84.1,755.5 L87.8,755.5 L91.6,755.6 L95.3,755.6 L99,755.7 L102.8,755.8 L106.5,755.9 L110.3,756 L114,756.1 L117.7,756.3 L121.5,756.5 L125.2,756.7 L129,756.9 L132.7,757.2 L136.4,757.6 L140.2,757.9 L143.9,758.4 L147.6,758.9 L151.4,759.5 L155.1,760.2 L158.9,760.9 L162.6,761.8 L166.3,762.8 L170.1,763.9 L173.8,765.2 L177.6,766.5 L181.3,768 L185,769.7 L188.8,771.5 L192.5,773.4 L196.2,775.4 L200,777.5 L203.7,779.6 L207.5,781.9 L211.2,784.1 L214.9,786.3 L218.7,788.5 L222.4,790.6 L226.2,792.7 L229.9,794.6 L233.6,796.4 L237.4,798.1 L241.1,799.7 L244.8,801.1 L248.6,802.4 L252.3,803.5 L256.1,804.5 L259.8,805.4 L263.5,806.3 L267.3,807 L271,807.6 L274.8,808.1 L278.5,808.6 L282.2,809 L286,809.3 L289.7,809.6 L293.4,809.9 L297.2,810.1 L300.9,810.3 L304.7,810.5 L308.4,810.6 L312.1,810.7 L315.9,810.9 L319.6,810.9 L323.4,811 L327.1,811.1 L330.8,811.1 L334.6,811.2 L338.3,811.2 L342,811.3 L345.8,811.3 L349.5,811.3 L353.3,811.3 L357,811.4 L360.7,811.4 L364.5,811.4 L368.2,811.4 L372,811.4 L375.7,811.4 L379.4,811.4 L383.2,811.4 L386.9,811.4 L390.6,811.4 L394.4,811.4 L398.1,811.4 L401.9,811.5" fill="none" stroke="#7ce690" stroke-width="1.5" stroke-dasharray="3.5,2.5"/>
<path d="M69.1,755.2 L72.9,755.2 L76.6,755.2 L80.4,755.2 L84.1,755.2 L87.8,755.2 L91.6,755.2 L95.3,755.2 L99,755.3 L102.8,755.3 L106.5,755.3 L110.3,755.3 L114,755.3 L117.7,755.3 L121.5,755.3 L125.2,755.4 L129,755.4 L132.7,755.4 L136.4,755.5 L140.2,755.5 L143.9,755.5 L147.6,755.6 L151.4,755.7 L155.1,755.8 L158.9,755.8 L162.6,756 L166.3,756.1 L170.1,756.2 L173.8,756.4 L177.6,756.6 L181.3,756.9 L185,757.1 L188.8,757.4 L192.5,757.8 L196.2,758.2 L200,758.7 L203.7,759.3 L207.5,759.9 L211.2,760.7 L214.9,761.5 L218.7,762.5 L222.4,763.5 L226.2,764.7 L229.9,766.1 L233.6,767.5 L237.4,769.1 L241.1,770.9 L244.8,772.7 L248.6,774.7 L252.3,776.8 L256.1,778.9 L259.8,781.1 L263.5,783.4 L267.3,785.6 L271,787.8 L274.8,789.9 L278.5,792 L282.2,794 L286,795.8 L289.7,797.6 L293.4,799.2 L297.2,800.6 L300.9,802 L304.7,803.2 L308.4,804.2 L312.1,805.2 L315.9,806 L319.6,806.7 L323.4,807.4 L327.1,807.9 L330.8,808.4 L334.6,808.9 L338.3,809.2 L342,809.5 L345.8,809.8 L349.5,810.1 L353.3,810.3 L357,810.4 L360.7,810.6 L364.5,810.7 L368.2,810.8 L372,810.9 L375.7,811 L379.4,811.1 L383.2,811.1 L386.9,811.2 L390.6,811.2 L394.4,811.3 L398.1,811.3 L401.9,811.3" fill="none" stroke="#a3c47a" stroke-width="1.5" stroke-dasharray="3.5,2.5"/>
<path d="M69.1,755.2 L72.9,755.2 L76.6,755.2 L80.4,755.2 L84.1,755.2 L87.8,755.2 L91.6,755.2 L95.3,755.2 L99,755.2 L102.8,755.2 L106.5,755.2 L110.3,755.2 L114,755.2 L117.7,755.2 L121.5,755.2 L125.2,755.2 L129,755.2 L132.7,755.2 L136.4,755.2 L140.2,755.2 L143.9,755.2 L147.6,755.2 L151.4,755.2 L155.1,755.2 L158.9,755.2 L162.6,755.3 L166.3,755.3 L170.1,755.3 L173.8,755.3 L177.6,755.3 L181.3,755.3 L185,755.4 L188.8,755.4 L192.5,755.5 L196.2,755.5 L200,755.6 L203.7,755.7 L207.5,755.8 L211.2,755.9 L214.9,756 L218.7,756.2 L222.4,756.4 L226.2,756.7 L229.9,757 L233.6,757.4 L237.4,757.9 L241.1,758.4 L244.8,759 L248.6,759.8 L252.3,760.7 L256.1,761.8 L259.8,763 L263.5,764.5 L267.3,766.1 L271,767.9 L274.8,770 L278.5,772.2 L282.2,774.6 L286,777.2 L289.7,779.9 L293.4,782.7 L297.2,785.4 L300.9,788.2 L304.7,790.8 L308.4,793.3 L312.1,795.7 L315.9,797.8 L319.6,799.7 L323.4,801.5 L327.1,803 L330.8,804.3 L334.6,805.5 L338.3,806.4 L342,807.3 L345.8,808 L349.5,808.6 L353.3,809.1 L357,809.5 L360.7,809.8 L364.5,810.1 L368.2,810.3 L372,810.5 L375.7,810.7 L379.4,810.8 L383.2,811 L386.9,811 L390.6,811.1 L394.4,811.2 L398.1,811.2 L401.9,811.3" fill="none" stroke="#f8cc55" stroke-width="1.5" stroke-dasharray="6,5"/>
<path d="M69.1,755.2 L72.9,755.2 L76.6,755.2 L80.4,755.2 L84.1,755.2 L87.8,755.2 L91.6,755.2 L95.3,755.2 L99,755.2 L102.8,755.2 L106.5,755.2 L110.3,755.2 L114,755.2 L117.7,755.2 L121.5,755.2 L125.2,755.2 L129,755.2 L132.7,755.2 L136.4,755.2 L140.2,755.2 L143.9,755.2 L147.6,755.2 L151.4,755.2 L155.1,755.2 L158.9,755.2 L162.6,755.2 L166.3,755.2 L170.1,755.2 L173.8,755.2 L177.6,755.2 L181.3,755.2 L185,755.2 L188.8,755.3 L192.5,755.3 L196.2,755.3 L200,755.3 L203.7,755.3 L207.5,755.3 L211.2,755.3 L214.9,755.4 L218.7,755.4 L222.4,755.4 L226.2,755.5 L229.9,755.5 L233.6,755.6 L237.4,755.7 L241.1,755.8 L244.8,755.9 L248.6,756 L252.3,756.1 L256.1,756.3 L259.8,756.5 L263.5,756.7 L267.3,757 L271,757.3 L274.8,757.7 L278.5,758.2 L282.2,758.7 L286,759.3 L289.7,760 L293.4,760.8 L297.2,761.7 L300.9,762.8 L304.7,764 L308.4,765.3 L312.1,766.8 L315.9,768.5 L319.6,770.3 L323.4,772.3 L327.1,774.4 L330.8,776.6 L334.6,779 L338.3,781.3 L342,783.7 L345.8,786.2 L349.5,788.5 L353.3,790.8 L357,793 L360.7,795.1 L364.5,797 L368.2,798.8 L372,800.4 L375.7,801.8 L379.4,803.1 L383.2,804.3 L386.9,805.3 L390.6,806.2 L394.4,806.9 L398.1,807.6 L401.9,808.2" fill="none" stroke="#f8a57a" stroke-width="1.5" stroke-dasharray="6,5"/>
<path d="M69.1,755.2 L72.9,755.2 L76.6,755.2 L80.4,755.2 L84.1,755.2 L87.8,755.2 L91.6,755.2 L95.3,755.2 L99,755.2 L102.8,755.2 L106.5,755.2 L110.3,755.2 L114,755.2 L117.7,755.2 L121.5,755.2 L125.2,755.2 L129,755.2 L132.7,755.2 L136.4,755.2 L140.2,755.2 L143.9,755.2 L147.6,755.2 L151.4,755.2 L155.1,755.2 L158.9,755.2 L162.6,755.2 L166.3,755.2 L170.1,755.2 L173.8,755.2 L177.6,755.2 L181.3,755.2 L185,755.2 L188.8,755.2 L192.5,755.2 L196.2,755.2 L200,755.2 L203.7,755.2 L207.5,755.2 L211.2,755.2 L214.9,755.2 L218.7,755.2 L222.4,755.2 L226.2,755.2 L229.9,755.2 L233.6,755.2 L237.4,755.2 L241.1,755.2 L244.8,755.2 L248.6,755.2 L252.3,755.2 L256.1,755.3 L259.8,755.3 L263.5,755.3 L267.3,755.3 L271,755.3 L274.8,755.4 L278.5,755.4 L282.2,755.4 L286,755.5 L289.7,755.6 L293.4,755.6 L297.2,755.7 L300.9,755.9 L304.7,756 L308.4,756.2 L312.1,756.5 L315.9,756.7 L319.6,757.1 L323.4,757.5 L327.1,758.1 L330.8,758.7 L334.6,759.4 L338.3,760.4 L342,761.4 L345.8,762.7 L349.5,764.2 L353.3,765.9 L357,767.9 L360.7,770.1 L364.5,772.5 L368.2,775.2 L372,778 L375.7,780.9 L379.4,783.9 L383.2,786.9 L386.9,789.7 L390.6,792.5 L394.4,795.1 L398.1,797.4 L401.9,799.5" fill="none" stroke="#f26a6a" stroke-width="1.5" stroke-dasharray="6,5"/>
<path d="M69.1,742.5 L72.9,739.8 L76.6,736.5 L80.4,732.7 L84.1,728.3 L87.8,723.1 L91.6,717.2 L95.3,710.6 L99,703.3 L102.8,695.4 L106.5,687 L110.3,678.2 L114,669.3 L117.7,660.4 L121.5,651.7 L125.2,643.4 L129,635.7 L132.7,628.7 L136.4,622.3 L140.2,616.7 L143.9,611.8 L147.6,607.5 L151.4,603.9 L155.1,600.8 L158.9,598.3 L162.6,596.1 L166.3,594.4 L170.1,592.9 L173.8,591.7 L177.6,590.7 L181.3,589.9 L185,589.2 L188.8,588.7 L192.5,588.3 L196.2,587.9 L200,587.6 L203.7,587.4 L207.5,587.2 L211.2,587.1 L214.9,586.9 L218.7,586.8 L222.4,586.7 L226.2,586.7 L229.9,586.6 L233.6,586.6 L237.4,586.5 L241.1,586.5 L244.8,586.5 L248.6,586.5 L252.3,586.5 L256.1,586.5 L259.8,586.4 L263.5,586.4 L267.3,586.4 L271,586.4 L274.8,586.4 L278.5,586.4 L282.2,586.4 L286,586.4 L289.7,586.4 L293.4,586.4 L297.2,586.4 L300.9,586.4 L304.7,586.4 L308.4,586.4 L312.1,586.4 L315.9,586.4 L319.6,586.4 L323.4,586.4 L327.1,586.4 L330.8,586.4 L334.6,586.4 L338.3,586.4 L342,586.4 L345.8,586.4 L349.5,586.4 L353.3,586.4 L357,586.4 L360.7,586.4 L364.5,586.4 L368.2,586.4 L372,586.4 L375.7,586.4 L379.4,586.4 L383.2,586.4 L386.9,586.4 L390.6,586.4 L394.4,586.4 L398.1,586.4 L401.9,586.4" fill="none" stroke="#6a9cf0" stroke-width="1.5" stroke-dasharray="6,5.5"/>
<path d="M69.1,753.8 L72.9,753.4 L76.6,753 L80.4,752.5 L84.1,751.9 L87.8,751.1 L91.6,750.2 L95.3,749.1 L99,747.7 L102.8,746 L106.5,744 L110.3,741.6 L114,738.7 L117.7,735.2 L121.5,731.2 L125.2,726.5 L129,721.1 L132.7,714.9 L136.4,708 L140.2,700.5 L143.9,692.4 L147.6,683.8 L151.4,675 L155.1,666 L158.9,657.2 L162.6,648.7 L166.3,640.6 L170.1,633.1 L173.8,626.3 L177.6,620.2 L181.3,614.8 L185,610.1 L188.8,606.1 L192.5,602.7 L196.2,599.9 L200,597.4 L203.7,595.4 L207.5,593.8 L211.2,592.4 L214.9,591.3 L218.7,590.4 L222.4,589.6 L226.2,589 L229.9,588.5 L233.6,588.1 L237.4,587.8 L241.1,587.5 L244.8,587.3 L248.6,587.1 L252.3,587 L256.1,586.9 L259.8,586.8 L263.5,586.7 L267.3,586.7 L271,586.6 L274.8,586.6 L278.5,586.5 L282.2,586.5 L286,586.5 L289.7,586.5 L293.4,586.5 L297.2,586.4 L300.9,586.4 L304.7,586.4 L308.4,586.4 L312.1,586.4 L315.9,586.4 L319.6,586.4 L323.4,586.4 L327.1,586.4 L330.8,586.4 L334.6,586.4 L338.3,586.4 L342,586.4 L345.8,586.4 L349.5,586.4 L353.3,586.4 L357,586.4 L360.7,586.4 L364.5,586.4 L368.2,586.4 L372,586.4 L375.7,586.4 L379.4,586.4 L383.2,586.4 L386.9,586.4 L390.6,586.4 L394.4,586.4 L398.1,586.4 L401.9,586.4" fill="none" stroke="#8ccff5" stroke-width="1.5" stroke-dasharray="6,5.5"/>
<path d="M69.1,755.1 L72.9,755 L76.6,755 L80.4,754.9 L84.1,754.9 L87.8,754.8 L91.6,754.7 L95.3,754.6 L99,754.4 L102.8,754.2 L106.5,754 L110.3,753.7 L114,753.3 L117.7,752.9 L121.5,752.4 L125.2,751.7 L129,750.9 L132.7,750 L136.4,748.8 L140.2,747.3 L143.9,745.6 L147.6,743.4 L151.4,740.9 L155.1,737.8 L158.9,734.3 L162.6,730 L166.3,725.2 L170.1,719.6 L173.8,713.2 L177.6,706.2 L181.3,698.5 L185,690.2 L188.8,681.6 L192.5,672.7 L196.2,663.8 L200,655 L203.7,646.5 L207.5,638.6 L211.2,631.3 L214.9,624.6 L218.7,618.7 L222.4,613.5 L226.2,609.1 L229.9,605.2 L233.6,601.9 L237.4,599.2 L241.1,596.9 L244.8,595 L248.6,593.4 L252.3,592.1 L256.1,591.1 L259.8,590.2 L263.5,589.5 L267.3,588.9 L271,588.4 L274.8,588 L278.5,587.7 L282.2,587.5 L286,587.3 L289.7,587.1 L293.4,587 L297.2,586.9 L300.9,586.8 L304.7,586.7 L308.4,586.6 L312.1,586.6 L315.9,586.6 L319.6,586.5 L323.4,586.5 L327.1,586.5 L330.8,586.5 L334.6,586.5 L338.3,586.4 L342,586.4 L345.8,586.4 L349.5,586.4 L353.3,586.4 L357,586.4 L360.7,586.4 L364.5,586.4 L368.2,586.4 L372,586.4 L375.7,586.4 L379.4,586.4 L383.2,586.4 L386.9,586.4 L390.6,586.4 L394.4,586.4 L398.1,586.4 L401.9,586.4" fill="none" stroke="#62e4e4" stroke-width="1.5" stroke-dasharray="6,5.5"/>
<path d="M69.1,755.2 L72.9,755.2 L76.6,755.2 L80.4,755.2 L84.1,755.2 L87.8,755.2 L91.6,755.2 L95.3,755.1 L99,755.1 L102.8,755.1 L106.5,755.1 L110.3,755.1 L114,755 L117.7,755 L121.5,755 L125.2,754.9 L129,754.8 L132.7,754.8 L136.4,754.7 L140.2,754.5 L143.9,754.4 L147.6,754.2 L151.4,753.9 L155.1,753.6 L158.9,753.3 L162.6,752.8 L166.3,752.3 L170.1,751.6 L173.8,750.8 L177.6,749.8 L181.3,748.5 L185,747 L188.8,745.2 L192.5,743 L196.2,740.4 L200,737.3 L203.7,733.6 L207.5,729.3 L211.2,724.3 L214.9,718.5 L218.7,712.1 L222.4,704.9 L226.2,697.1 L229.9,688.8 L233.6,680.1 L237.4,671.2 L241.1,662.3 L244.8,653.5 L248.6,645.2 L252.3,637.3 L256.1,630.1 L259.8,623.6 L263.5,617.8 L267.3,612.7 L271,608.4 L274.8,604.6 L278.5,601.4 L282.2,598.8 L286,596.6 L289.7,594.7 L293.4,593.2 L297.2,591.9 L300.9,590.9 L304.7,590.1 L308.4,589.4 L312.1,588.8 L315.9,588.4 L319.6,588 L323.4,587.7 L327.1,587.4 L330.8,587.2 L334.6,587.1 L338.3,587 L342,586.8 L345.8,586.8 L349.5,586.7 L353.3,586.6 L357,586.6 L360.7,586.6 L364.5,586.5 L368.2,586.5 L372,586.5 L375.7,586.5 L379.4,586.5 L383.2,586.4 L386.9,586.4 L390.6,586.4 L394.4,586.4 L398.1,586.4 L401.9,586.4" fill="none" stroke="#7ce690" stroke-width="1.5" stroke-dasharray="6,5.5"/>
<path d="M69.1,755.2 L72.9,755.2 L76.6,755.2 L80.4,755.2 L84.1,755.2 L87.8,755.2 L91.6,755.2 L95.3,755.2 L99,755.2 L102.8,755.2 L106.5,755.2 L110.3,755.2 L114,755.2 L117.7,755.2 L121.5,755.2 L125.2,755.2 L129,755.2 L132.7,755.1 L136.4,755.1 L140.2,755.1 L143.9,755.1 L147.6,755.1 L151.4,755 L155.1,755 L158.9,755 L162.6,754.9 L166.3,754.8 L170.1,754.8 L173.8,754.7 L177.6,754.5 L181.3,754.4 L185,754.2 L188.8,753.9 L192.5,753.6 L196.2,753.3 L200,752.8 L203.7,752.3 L207.5,751.6 L211.2,750.8 L214.9,749.8 L218.7,748.5 L222.4,747 L226.2,745.2 L229.9,743 L233.6,740.4 L237.4,737.2 L241.1,733.5 L244.8,729.2 L248.6,724.2 L252.3,718.4 L256.1,712 L259.8,704.8 L263.5,697 L267.3,688.7 L271,680 L274.8,671.1 L278.5,662.1 L282.2,653.4 L286,645 L289.7,637.2 L293.4,630 L297.2,623.5 L300.9,617.7 L304.7,612.7 L308.4,608.3 L312.1,604.6 L315.9,601.4 L319.6,598.7 L323.4,596.5 L327.1,594.7 L330.8,593.2 L334.6,591.9 L338.3,590.9 L342,590 L345.8,589.4 L349.5,588.8 L353.3,588.4 L357,588 L360.7,587.7 L364.5,587.4 L368.2,587.2 L372,587.1 L375.7,587 L379.4,586.8 L383.2,586.8 L386.9,586.7 L390.6,586.6 L394.4,586.6 L398.1,586.6 L401.9,586.5" fill="none" stroke="#a3c47a" stroke-width="1.5"/>
<path d="M69.1,755.2 L72.9,755.2 L76.6,755.2 L80.4,755.2 L84.1,755.2 L87.8,755.2 L91.6,755.2 L95.3,755.2 L99,755.2 L102.8,755.2 L106.5,755.2 L110.3,755.2 L114,755.2 L117.7,755.2 L121.5,755.2 L125.2,755.2 L129,755.2 L132.7,755.2 L136.4,755.2 L140.2,755.2 L143.9,755.2 L147.6,755.2 L151.4,755.2 L155.1,755.2 L158.9,755.2 L162.6,755.2 L166.3,755.2 L170.1,755.2 L173.8,755.1 L177.6,755.1 L181.3,755.1 L185,755.1 L188.8,755.1 L192.5,755 L196.2,755 L200,754.9 L203.7,754.9 L207.5,754.8 L211.2,754.7 L214.9,754.6 L218.7,754.5 L222.4,754.3 L226.2,754.1 L229.9,753.8 L233.6,753.5 L237.4,753.1 L241.1,752.6 L244.8,752 L248.6,751.3 L252.3,750.4 L256.1,749.3 L259.8,748 L263.5,746.4 L267.3,744.4 L271,742.1 L274.8,739.3 L278.5,736 L282.2,732 L286,727.5 L289.7,722.2 L293.4,716.2 L297.2,709.5 L300.9,702 L304.7,694 L308.4,685.5 L312.1,676.7 L315.9,667.8 L319.6,658.9 L323.4,650.3 L327.1,642.1 L330.8,634.5 L334.6,627.6 L338.3,621.3 L342,615.8 L345.8,611 L349.5,606.9 L353.3,603.3 L357,600.4 L360.7,597.9 L364.5,595.8 L368.2,594.1 L372,592.7 L375.7,591.5 L379.4,590.6 L383.2,589.8 L386.9,589.1 L390.6,588.6 L394.4,588.2 L398.1,587.9 L401.9,587.6" fill="none" stroke="#f8cc55" stroke-width="1.5"/>
<path d="M69.1,755.2 L72.9,755.2 L76.6,755.2 L80.4,755.2 L84.1,755.2 L87.8,755.2 L91.6,755.2 L95.3,755.2 L99,755.2 L102.8,755.2 L106.5,755.2 L110.3,755.2 L114,755.2 L117.7,755.2 L121.5,755.2 L125.2,755.2 L129,755.2 L132.7,755.2 L136.4,755.2 L140.2,755.2 L143.9,755.2 L147.6,755.2 L151.4,755.2 L155.1,755.2 L158.9,755.2 L162.6,755.2 L166.3,755.2 L170.1,755.2 L173.8,755.2 L177.6,755.2 L181.3,755.2 L185,755.2 L188.8,755.2 L192.5,755.2 L196.2,755.2 L200,755.2 L203.7,755.2 L207.5,755.2 L211.2,755.2 L214.9,755.1 L218.7,755.1 L222.4,755.1 L226.2,755.1 L229.9,755.1 L233.6,755 L237.4,755 L241.1,754.9 L244.8,754.9 L248.6,754.8 L252.3,754.7 L256.1,754.6 L259.8,754.5 L263.5,754.3 L267.3,754.1 L271,753.8 L274.8,753.5 L278.5,753.1 L282.2,752.6 L286,751.9 L289.7,751.2 L293.4,750.3 L297.2,749.2 L300.9,747.8 L304.7,746.1 L308.4,744.1 L312.1,741.7 L315.9,738.8 L319.6,735.4 L323.4,731.4 L327.1,726.7 L330.8,721.3 L334.6,715.2 L338.3,708.4 L342,700.9 L345.8,692.8 L349.5,684.3 L353.3,675.4 L357,666.5 L360.7,657.6 L364.5,649.1 L368.2,641 L372,633.4 L375.7,626.6 L379.4,620.5 L383.2,615.1 L386.9,610.4 L390.6,606.3 L394.4,602.9 L398.1,600 L401.9,597.6" fill="none" stroke="#f8a57a" stroke-width="1.5"/>
<path d="M69.1,755.2 L72.9,755.2 L76.6,755.2 L80.4,755.2 L84.1,755.2 L87.8,755.2 L91.6,755.2 L95.3,755.2 L99,755.2 L102.8,755.2 L106.5,755.2 L110.3,755.2 L114,755.2 L117.7,755.2 L121.5,755.2 L125.2,755.2 L129,755.2 L132.7,755.2 L136.4,755.2 L140.2,755.2 L143.9,755.2 L147.6,755.2 L151.4,755.2 L155.1,755.2 L158.9,755.2 L162.6,755.2 L166.3,755.2 L170.1,755.2 L173.8,755.2 L177.6,755.2 L181.3,755.2 L185,755.2 L188.8,755.2 L192.5,755.2 L196.2,755.2 L200,755.2 L203.7,755.2 L207.5,755.2 L211.2,755.2 L214.9,755.2 L218.7,755.2 L222.4,755.2 L226.2,755.2 L229.9,755.2 L233.6,755.2 L237.4,755.2 L241.1,755.2 L244.8,755.2 L248.6,755.2 L252.3,755.2 L256.1,755.1 L259.8,755.1 L263.5,755.1 L267.3,755.1 L271,755.1 L274.8,755 L278.5,755 L282.2,754.9 L286,754.9 L289.7,754.8 L293.4,754.7 L297.2,754.6 L300.9,754.5 L304.7,754.3 L308.4,754.1 L312.1,753.8 L315.9,753.5 L319.6,753.1 L323.4,752.6 L327.1,752 L330.8,751.3 L334.6,750.3 L338.3,749.2 L342,747.9 L345.8,746.3 L349.5,744.3 L353.3,741.9 L357,739.1 L360.7,735.7 L364.5,731.7 L368.2,727.1 L372,721.8 L375.7,715.7 L379.4,708.9 L383.2,701.5 L386.9,693.4 L390.6,684.9 L394.4,676.1 L398.1,667.1 L401.9,658.3" fill="none" stroke="#f26a6a" stroke-width="1.5"/>
<line x1="73.2" y1="755.2" x2="397.8" y2="755.2" stroke="#333" stroke-width="1.4"/>
</g>
<circle cx="222.2" cy="746.9" r="3.2" fill="none" stroke="#90b858" stroke-width="1.4"/>
<circle cx="221.7" cy="807.6" r="3.2" fill="none" stroke="#40dede" stroke-width="1.4"/>
<path d="M73.2,822.9 V570.4" fill="none" stroke="#808080" stroke-width="1.4"/>
<path d="M72.5,570.4 H397.8" fill="none" stroke="#333" stroke-width="1.4"/>
<path d="M397.8,569.6999999999999 V822.9 H72.5" fill="none" stroke="#111" stroke-width="1.5"/>
<line x1="73.2" y1="586.4" x2="79.2" y2="586.4" stroke="#666" stroke-width="1.2"/>
<line x1="73.2" y1="628.6" x2="77.2" y2="628.6" stroke="#666" stroke-width="1.2"/>
<line x1="73.2" y1="670.8" x2="79.2" y2="670.8" stroke="#666" stroke-width="1.2"/>
<line x1="73.2" y1="713" x2="77.2" y2="713" stroke="#666" stroke-width="1.2"/>
<line x1="73.2" y1="755.2" x2="79.2" y2="755.2" stroke="#666" stroke-width="1.2"/>
<line x1="73.2" y1="789" x2="77.2" y2="789" stroke="#666" stroke-width="1.2"/>
<text x="64.5" y="593.1" font-size="19" text-anchor="end" fill="#000" >2.0</text>
<text x="64.5" y="677.5" font-size="19" text-anchor="end" fill="#000" >1.5</text>
<text x="64.5" y="761.9" font-size="19" text-anchor="end" fill="#000" >1.0</text>
<text x="64.5" y="829.4" font-size="19" text-anchor="end" fill="#000" >0.6</text>
<line x1="73.2" y1="822.9" x2="73.2" y2="816.9" stroke="#555" stroke-width="1.1"/>
<line x1="85.4" y1="822.9" x2="85.4" y2="819.4" stroke="#555" stroke-width="1.1"/>
<line x1="92.6" y1="822.9" x2="92.6" y2="819.4" stroke="#555" stroke-width="1.1"/>
<line x1="97.6" y1="822.9" x2="97.6" y2="819.4" stroke="#555" stroke-width="1.1"/>
<line x1="101.6" y1="822.9" x2="101.6" y2="819.4" stroke="#555" stroke-width="1.1"/>
<line x1="104.8" y1="822.9" x2="104.8" y2="819.4" stroke="#555" stroke-width="1.1"/>
<line x1="107.5" y1="822.9" x2="107.5" y2="819.4" stroke="#555" stroke-width="1.1"/>
<line x1="109.8" y1="822.9" x2="109.8" y2="819.4" stroke="#555" stroke-width="1.1"/>
<line x1="111.9" y1="822.9" x2="111.9" y2="819.4" stroke="#555" stroke-width="1.1"/>
<line x1="113.8" y1="822.9" x2="113.8" y2="816.9" stroke="#555" stroke-width="1.1"/>
<line x1="126" y1="822.9" x2="126" y2="819.4" stroke="#555" stroke-width="1.1"/>
<line x1="133.1" y1="822.9" x2="133.1" y2="819.4" stroke="#555" stroke-width="1.1"/>
<line x1="138.2" y1="822.9" x2="138.2" y2="819.4" stroke="#555" stroke-width="1.1"/>
<line x1="142.1" y1="822.9" x2="142.1" y2="819.4" stroke="#555" stroke-width="1.1"/>
<line x1="145.3" y1="822.9" x2="145.3" y2="819.4" stroke="#555" stroke-width="1.1"/>
<line x1="148.1" y1="822.9" x2="148.1" y2="819.4" stroke="#555" stroke-width="1.1"/>
<line x1="150.4" y1="822.9" x2="150.4" y2="819.4" stroke="#555" stroke-width="1.1"/>
<line x1="152.5" y1="822.9" x2="152.5" y2="819.4" stroke="#555" stroke-width="1.1"/>
<line x1="154.4" y1="822.9" x2="154.4" y2="816.9" stroke="#555" stroke-width="1.1"/>
<line x1="166.6" y1="822.9" x2="166.6" y2="819.4" stroke="#555" stroke-width="1.1"/>
<line x1="173.7" y1="822.9" x2="173.7" y2="819.4" stroke="#555" stroke-width="1.1"/>
<line x1="178.8" y1="822.9" x2="178.8" y2="819.4" stroke="#555" stroke-width="1.1"/>
<line x1="182.7" y1="822.9" x2="182.7" y2="819.4" stroke="#555" stroke-width="1.1"/>
<line x1="185.9" y1="822.9" x2="185.9" y2="819.4" stroke="#555" stroke-width="1.1"/>
<line x1="188.6" y1="822.9" x2="188.6" y2="819.4" stroke="#555" stroke-width="1.1"/>
<line x1="191" y1="822.9" x2="191" y2="819.4" stroke="#555" stroke-width="1.1"/>
<line x1="193.1" y1="822.9" x2="193.1" y2="819.4" stroke="#555" stroke-width="1.1"/>
<line x1="194.9" y1="822.9" x2="194.9" y2="816.9" stroke="#555" stroke-width="1.1"/>
<line x1="207.1" y1="822.9" x2="207.1" y2="819.4" stroke="#555" stroke-width="1.1"/>
<line x1="214.3" y1="822.9" x2="214.3" y2="819.4" stroke="#555" stroke-width="1.1"/>
<line x1="219.4" y1="822.9" x2="219.4" y2="819.4" stroke="#555" stroke-width="1.1"/>
<line x1="223.3" y1="822.9" x2="223.3" y2="819.4" stroke="#555" stroke-width="1.1"/>
<line x1="226.5" y1="822.9" x2="226.5" y2="819.4" stroke="#555" stroke-width="1.1"/>
<line x1="229.2" y1="822.9" x2="229.2" y2="819.4" stroke="#555" stroke-width="1.1"/>
<line x1="231.6" y1="822.9" x2="231.6" y2="819.4" stroke="#555" stroke-width="1.1"/>
<line x1="233.6" y1="822.9" x2="233.6" y2="819.4" stroke="#555" stroke-width="1.1"/>
<line x1="235.5" y1="822.9" x2="235.5" y2="816.9" stroke="#555" stroke-width="1.1"/>
<line x1="247.7" y1="822.9" x2="247.7" y2="819.4" stroke="#555" stroke-width="1.1"/>
<line x1="254.9" y1="822.9" x2="254.9" y2="819.4" stroke="#555" stroke-width="1.1"/>
<line x1="259.9" y1="822.9" x2="259.9" y2="819.4" stroke="#555" stroke-width="1.1"/>
<line x1="263.9" y1="822.9" x2="263.9" y2="819.4" stroke="#555" stroke-width="1.1"/>
<line x1="267.1" y1="822.9" x2="267.1" y2="819.4" stroke="#555" stroke-width="1.1"/>
<line x1="269.8" y1="822.9" x2="269.8" y2="819.4" stroke="#555" stroke-width="1.1"/>
<line x1="272.1" y1="822.9" x2="272.1" y2="819.4" stroke="#555" stroke-width="1.1"/>
<line x1="274.2" y1="822.9" x2="274.2" y2="819.4" stroke="#555" stroke-width="1.1"/>
<line x1="276.1" y1="822.9" x2="276.1" y2="816.9" stroke="#555" stroke-width="1.1"/>
<line x1="288.3" y1="822.9" x2="288.3" y2="819.4" stroke="#555" stroke-width="1.1"/>
<line x1="295.4" y1="822.9" x2="295.4" y2="819.4" stroke="#555" stroke-width="1.1"/>
<line x1="300.5" y1="822.9" x2="300.5" y2="819.4" stroke="#555" stroke-width="1.1"/>
<line x1="304.4" y1="822.9" x2="304.4" y2="819.4" stroke="#555" stroke-width="1.1"/>
<line x1="307.6" y1="822.9" x2="307.6" y2="819.4" stroke="#555" stroke-width="1.1"/>
<line x1="310.4" y1="822.9" x2="310.4" y2="819.4" stroke="#555" stroke-width="1.1"/>
<line x1="312.7" y1="822.9" x2="312.7" y2="819.4" stroke="#555" stroke-width="1.1"/>
<line x1="314.8" y1="822.9" x2="314.8" y2="819.4" stroke="#555" stroke-width="1.1"/>
<line x1="316.7" y1="822.9" x2="316.7" y2="816.9" stroke="#555" stroke-width="1.1"/>
<line x1="328.9" y1="822.9" x2="328.9" y2="819.4" stroke="#555" stroke-width="1.1"/>
<line x1="336" y1="822.9" x2="336" y2="819.4" stroke="#555" stroke-width="1.1"/>
<line x1="341.1" y1="822.9" x2="341.1" y2="819.4" stroke="#555" stroke-width="1.1"/>
<line x1="345" y1="822.9" x2="345" y2="819.4" stroke="#555" stroke-width="1.1"/>
<line x1="348.2" y1="822.9" x2="348.2" y2="819.4" stroke="#555" stroke-width="1.1"/>
<line x1="350.9" y1="822.9" x2="350.9" y2="819.4" stroke="#555" stroke-width="1.1"/>
<line x1="353.3" y1="822.9" x2="353.3" y2="819.4" stroke="#555" stroke-width="1.1"/>
<line x1="355.4" y1="822.9" x2="355.4" y2="819.4" stroke="#555" stroke-width="1.1"/>
<line x1="357.2" y1="822.9" x2="357.2" y2="816.9" stroke="#555" stroke-width="1.1"/>
<line x1="369.4" y1="822.9" x2="369.4" y2="819.4" stroke="#555" stroke-width="1.1"/>
<line x1="376.6" y1="822.9" x2="376.6" y2="819.4" stroke="#555" stroke-width="1.1"/>
<line x1="381.7" y1="822.9" x2="381.7" y2="819.4" stroke="#555" stroke-width="1.1"/>
<line x1="385.6" y1="822.9" x2="385.6" y2="819.4" stroke="#555" stroke-width="1.1"/>
<line x1="388.8" y1="822.9" x2="388.8" y2="819.4" stroke="#555" stroke-width="1.1"/>
<line x1="391.5" y1="822.9" x2="391.5" y2="819.4" stroke="#555" stroke-width="1.1"/>
<line x1="393.9" y1="822.9" x2="393.9" y2="819.4" stroke="#555" stroke-width="1.1"/>
<line x1="395.9" y1="822.9" x2="395.9" y2="819.4" stroke="#555" stroke-width="1.1"/>
<text x="72.7" y="849.5" font-size="19" text-anchor="middle" fill="#000" >10<tspan font-size="13" dy="-8.5">12</tspan></text>
<text x="153.9" y="849.5" font-size="19" text-anchor="middle" fill="#000" >10<tspan font-size="13" dy="-8.5">14</tspan></text>
<text x="235" y="849.5" font-size="19" text-anchor="middle" fill="#000" >10<tspan font-size="13" dy="-8.5">16</tspan></text>
<text x="316.2" y="849.5" font-size="19" text-anchor="middle" fill="#000" >10<tspan font-size="13" dy="-8.5">18</tspan></text>
<text x="397.3" y="849.5" font-size="19" text-anchor="middle" fill="#000" >10<tspan font-size="13" dy="-8.5">20</tspan></text>
<text x="195.6" y="875.3" font-size="19" text-anchor="start" fill="#000" >Δ<tspan font-style="italic">n</tspan> (cm<tspan font-size="13" dy="-7">−3</tspan><tspan dy="7">)</tspan></text>
<text transform="translate(26,697) rotate(-90)" font-size="19" text-anchor="middle">Ideality factor</text>
<text x="1" y="570.8" font-size="25" text-anchor="start" fill="#000" font-weight="bold" stroke="#000" stroke-width="0.9">c</text>
<text x="83.8" y="593.9" font-size="19" text-anchor="start" fill="#000" textLength="38" lengthAdjust="spacingAndGlyphs" >SRH</text>
<text x="76.6" y="811.5" font-size="19" text-anchor="start" fill="#000" textLength="51.1" lengthAdjust="spacingAndGlyphs" >Auger</text>
<text x="313.4" y="775.5" font-size="19" text-anchor="start" fill="#000" textLength="79.8" lengthAdjust="spacingAndGlyphs" >Radiative</text>
<text x="89.2" y="647.5" font-size="19" text-anchor="start" fill="#2f6ef0" >10<tspan font-size="13" dy="-8">13</tspan></text>
<text x="124.5" y="661.6" font-size="19" text-anchor="start" fill="#78c4f2" >10<tspan font-size="13" dy="-8">14</tspan></text>
<text x="158.4" y="676.4" font-size="19" text-anchor="start" fill="#40dede" >10<tspan font-size="13" dy="-8">15</tspan></text>
<text x="193.7" y="688.7" font-size="19" text-anchor="start" fill="#6ee07a" >10<tspan font-size="13" dy="-8">16</tspan></text>
<text x="229.5" y="703.7" font-size="19" text-anchor="start" fill="#90b858" >10<tspan font-size="13" dy="-8">17</tspan></text>
<text x="264.3" y="717.6" font-size="19" text-anchor="start" fill="#f5b800" >10<tspan font-size="13" dy="-8">18</tspan></text>
<text x="303.4" y="725.6" font-size="19" text-anchor="start" fill="#f8905a" >10<tspan font-size="13" dy="-8">19</tspan></text>
<text x="332.5" y="738.8" font-size="19" text-anchor="start" fill="#f03a3a" >10<tspan font-size="13" dy="-8">20</tspan></text>
<clipPath id="clipD"><rect x="512.1" y="578.4" width="307.7" height="251.2"/></clipPath>
<g clip-path="url(#clipD)">
<line x1="512.1" y1="758.4" x2="819.8" y2="758.4" stroke="#888" stroke-width="1.2" stroke-dasharray="3,2.5"/>
<path d="M511.8,625.8 C513.8,628.5 517.3,633.5 523.8,641.8 C530.2,650.1 541.5,665.7 550.5,675.7 C559.5,685.7 569.1,693.7 578.1,701.7 C587.1,709.7 596.4,717.8 604.4,723.6 C612.4,729.4 622.1,733.3 626.4,736.4 C630.7,739.5 627.7,739.7 630,742 C632.3,744.3 637.1,747.7 640,750 C642.9,752.3 643.1,752.9 647.5,755.6 C651.9,758.3 660.9,763.5 666.3,766.3 C671.7,769.1 674.5,770 680,772.5 C685.5,775 692.7,779 699.4,781.5 C706.1,784 713.3,785.7 720,787.5 C726.7,789.3 732.9,791 739.4,792.3 C745.9,793.6 755.6,794 759.3,795.5 C762.9,797 758,800 761.3,801.5 C764.6,803 774.5,804.4 779.3,804.7 C784.1,805 786.7,804.4 790,803.5 C793.3,802.6 796.2,801.1 799.2,799.5 C802.2,797.9 805.7,796 808,794 C810.3,792 811.3,790.6 813.2,787.5 C815.1,784.4 817.7,778.8 819.2,775.5 C820.7,772.2 821.5,769.2 822,768" fill="none" stroke="#3d7ae6" stroke-width="1.6"/>
<path d="M519.8,579.1 C521.5,581 523.5,584.1 529.8,590.7 C536.1,597.3 550.4,609.4 557.7,618.6 C565,627.8 568.3,637.2 573.7,645.8 C579.1,654.4 584,661.8 590,670 C596,678.2 603.3,687.3 610,695 C616.7,702.7 624.2,710.5 630,716 C635.8,721.5 640.1,724.4 645,728 C649.9,731.6 653.7,733.4 659.5,737.6 C665.3,741.8 673.4,748 680,753 C686.6,758 692.7,763.7 699.4,767.5 C706.1,771.3 713.3,773.5 720,776 C726.7,778.5 734.2,780 739.4,782.3 C744.6,784.5 747,787.9 751.3,789.5 C755.6,791.1 760.3,791 765,792 C769.7,793 775.1,795.3 779.3,795.5 C783.5,795.7 786,794.7 790,793 C794,791.3 799.5,788.5 803.2,785.5 C806.9,782.5 809.3,779.3 812,775 C814.7,770.7 817.5,763.4 819.2,759.6 C820.9,755.8 821.5,753.3 822,752" fill="none" stroke="#f47c7c" stroke-width="1.6"/>
<circle cx="523.8" cy="641.8" r="3" fill="none" stroke="#6aa0f0" stroke-width="1.2"/>
<circle cx="550.5" cy="675.7" r="3" fill="none" stroke="#6aa0f0" stroke-width="1.2"/>
<circle cx="578.1" cy="701.7" r="3" fill="none" stroke="#6aa0f0" stroke-width="1.2"/>
<circle cx="604.4" cy="723.6" r="3" fill="none" stroke="#6aa0f0" stroke-width="1.2"/>
<circle cx="626.4" cy="736.4" r="3" fill="none" stroke="#6aa0f0" stroke-width="1.2"/>
<circle cx="626.4" cy="736.4" r="2.8" fill="none" stroke="#7aaaf0" stroke-width="1.1"/>
<circle cx="629" cy="740.4" r="2.8" fill="none" stroke="#7aaaf0" stroke-width="1.1"/>
<circle cx="632.3" cy="743.8" r="2.8" fill="none" stroke="#7aaaf0" stroke-width="1.1"/>
<circle cx="636" cy="746.8" r="2.8" fill="none" stroke="#7aaaf0" stroke-width="1.1"/>
<circle cx="639.7" cy="749.8" r="2.8" fill="none" stroke="#7aaaf0" stroke-width="1.1"/>
<circle cx="643.5" cy="752.6" r="2.8" fill="none" stroke="#7aaaf0" stroke-width="1.1"/>
<circle cx="647.4" cy="755.5" r="2.8" fill="none" stroke="#7aaaf0" stroke-width="1.1"/>
<circle cx="651.5" cy="757.9" r="2.8" fill="none" stroke="#7aaaf0" stroke-width="1.1"/>
<circle cx="655.7" cy="760.2" r="2.8" fill="none" stroke="#7aaaf0" stroke-width="1.1"/>
<circle cx="659.8" cy="762.6" r="2.8" fill="none" stroke="#7aaaf0" stroke-width="1.1"/>
<circle cx="664" cy="765" r="2.8" fill="none" stroke="#7aaaf0" stroke-width="1.1"/>
<circle cx="668.2" cy="767.2" r="2.8" fill="none" stroke="#7aaaf0" stroke-width="1.1"/>
<circle cx="672.5" cy="769.1" r="2.8" fill="none" stroke="#7aaaf0" stroke-width="1.1"/>
<circle cx="676.9" cy="771.1" r="2.8" fill="none" stroke="#7aaaf0" stroke-width="1.1"/>
<circle cx="681.2" cy="773.1" r="2.8" fill="none" stroke="#7aaaf0" stroke-width="1.1"/>
<circle cx="685.6" cy="775.1" r="2.8" fill="none" stroke="#7aaaf0" stroke-width="1.1"/>
<circle cx="689.9" cy="777.1" r="2.8" fill="none" stroke="#7aaaf0" stroke-width="1.1"/>
<circle cx="694.2" cy="779.1" r="2.8" fill="none" stroke="#7aaaf0" stroke-width="1.1"/>
<circle cx="698.6" cy="781.1" r="2.8" fill="none" stroke="#7aaaf0" stroke-width="1.1"/>
<circle cx="703.1" cy="782.6" r="2.8" fill="none" stroke="#7aaaf0" stroke-width="1.1"/>
<circle cx="707.7" cy="783.9" r="2.8" fill="none" stroke="#7aaaf0" stroke-width="1.1"/>
<circle cx="712.3" cy="785.2" r="2.8" fill="none" stroke="#7aaaf0" stroke-width="1.1"/>
<circle cx="716.9" cy="786.6" r="2.8" fill="none" stroke="#7aaaf0" stroke-width="1.1"/>
<circle cx="721.5" cy="787.9" r="2.8" fill="none" stroke="#7aaaf0" stroke-width="1.1"/>
<circle cx="726.1" cy="789" r="2.8" fill="none" stroke="#7aaaf0" stroke-width="1.1"/>
<circle cx="730.7" cy="790.2" r="2.8" fill="none" stroke="#7aaaf0" stroke-width="1.1"/>
<circle cx="735.4" cy="791.3" r="2.8" fill="none" stroke="#7aaaf0" stroke-width="1.1"/>
<circle cx="740" cy="792.4" r="2.8" fill="none" stroke="#7aaaf0" stroke-width="1.1"/>
<circle cx="744.7" cy="793.2" r="2.8" fill="none" stroke="#7aaaf0" stroke-width="1.1"/>
<circle cx="749.4" cy="793.9" r="2.8" fill="none" stroke="#7aaaf0" stroke-width="1.1"/>
<circle cx="754.2" cy="794.7" r="2.8" fill="none" stroke="#7aaaf0" stroke-width="1.1"/>
<circle cx="758.9" cy="795.4" r="2.8" fill="none" stroke="#7aaaf0" stroke-width="1.1"/>
<circle cx="760.7" cy="799.6" r="2.8" fill="none" stroke="#7aaaf0" stroke-width="1.1"/>
<circle cx="764.1" cy="802" r="2.8" fill="none" stroke="#7aaaf0" stroke-width="1.1"/>
<circle cx="768.8" cy="802.8" r="2.8" fill="none" stroke="#7aaaf0" stroke-width="1.1"/>
<circle cx="773.5" cy="803.7" r="2.8" fill="none" stroke="#7aaaf0" stroke-width="1.1"/>
<circle cx="778.2" cy="804.5" r="2.8" fill="none" stroke="#7aaaf0" stroke-width="1.1"/>
<circle cx="782.9" cy="804.3" r="2.8" fill="none" stroke="#7aaaf0" stroke-width="1.1"/>
<circle cx="787.6" cy="803.8" r="2.8" fill="none" stroke="#7aaaf0" stroke-width="1.1"/>
<circle cx="792.2" cy="802.5" r="2.8" fill="none" stroke="#7aaaf0" stroke-width="1.1"/>
<circle cx="796.6" cy="800.6" r="2.8" fill="none" stroke="#7aaaf0" stroke-width="1.1"/>
<circle cx="800.8" cy="798.5" r="2.8" fill="none" stroke="#7aaaf0" stroke-width="1.1"/>
<circle cx="804.9" cy="796" r="2.8" fill="none" stroke="#7aaaf0" stroke-width="1.1"/>
<circle cx="808.7" cy="793.1" r="2.8" fill="none" stroke="#7aaaf0" stroke-width="1.1"/>
<circle cx="811.7" cy="789.4" r="2.8" fill="none" stroke="#7aaaf0" stroke-width="1.1"/>
<circle cx="814.2" cy="785.4" r="2.8" fill="none" stroke="#7aaaf0" stroke-width="1.1"/>
<circle cx="816.4" cy="781.2" r="2.8" fill="none" stroke="#7aaaf0" stroke-width="1.1"/>
<circle cx="818.5" cy="776.9" r="2.8" fill="none" stroke="#7aaaf0" stroke-width="1.1"/>
<circle cx="820.3" cy="772.5" r="2.8" fill="none" stroke="#7aaaf0" stroke-width="1.1"/>
<circle cx="822" cy="768" r="2.8" fill="none" stroke="#7aaaf0" stroke-width="1.1"/>
<path d="M529.8,586.5 L533.8,593.5 L525.8,593.5 Z" fill="#f4a0a0"/>
<path d="M557.7,614.4 L561.7,621.4 L553.7,621.4 Z" fill="#f4a0a0"/>
<path d="M557.7,614.4 L561.7,621.4 L553.7,621.4 Z" fill="#f4a0a0"/>
<path d="M562.4,622.4 L566.4,629.3 L558.4,629.3 Z" fill="#f4a0a0"/>
<path d="M567.1,630.4 L571.1,637.3 L563.1,637.3 Z" fill="#f4a0a0"/>
<path d="M571.8,638.3 L575.8,645.3 L567.8,645.3 Z" fill="#f4a0a0"/>
<path d="M576.7,646.1 L580.7,653.1 L572.7,653.1 Z" fill="#f4a0a0"/>
<path d="M581.9,653.8 L585.9,660.7 L577.9,660.7 Z" fill="#f4a0a0"/>
<path d="M587.1,661.5 L591.1,668.4 L583.1,668.4 Z" fill="#f4a0a0"/>
<path d="M592.5,668.9 L596.5,675.9 L588.5,675.9 Z" fill="#f4a0a0"/>
<path d="M598.3,676.2 L602.3,683.1 L594.3,683.1 Z" fill="#f4a0a0"/>
<path d="M604,683.4 L608,690.3 L600,690.3 Z" fill="#f4a0a0"/>
<path d="M609.8,690.6 L613.8,697.5 L605.8,697.5 Z" fill="#f4a0a0"/>
<path d="M616.2,697.3 L620.2,704.2 L612.2,704.2 Z" fill="#f4a0a0"/>
<path d="M622.5,704 L626.5,710.9 L618.5,710.9 Z" fill="#f4a0a0"/>
<path d="M628.9,710.7 L632.9,717.6 L624.9,717.6 Z" fill="#f4a0a0"/>
<path d="M636,716.6 L640,723.6 L632,723.6 Z" fill="#f4a0a0"/>
<path d="M643.2,722.4 L647.2,729.3 L639.2,729.3 Z" fill="#f4a0a0"/>
<path d="M650.8,727.7 L654.8,734.6 L646.8,734.6 Z" fill="#f4a0a0"/>
<path d="M658.5,732.8 L662.5,739.7 L654.5,739.7 Z" fill="#f4a0a0"/>
<path d="M665.9,738.3 L669.9,745.2 L661.9,745.2 Z" fill="#f4a0a0"/>
<path d="M673.3,743.8 L677.3,750.7 L669.3,750.7 Z" fill="#f4a0a0"/>
<path d="M680.7,749.4 L684.7,756.3 L676.7,756.3 Z" fill="#f4a0a0"/>
<path d="M688.1,754.9 L692.1,761.8 L684.1,761.8 Z" fill="#f4a0a0"/>
<path d="M695.5,760.4 L699.5,767.4 L691.5,767.4 Z" fill="#f4a0a0"/>
<path d="M703.4,765 L707.4,771.9 L699.4,771.9 Z" fill="#f4a0a0"/>
<path d="M712,768.5 L716,775.5 L708,775.5 Z" fill="#f4a0a0"/>
<path d="M720.6,772 L724.6,778.9 L716.6,778.9 Z" fill="#f4a0a0"/>
<path d="M729.4,774.8 L733.4,781.7 L725.4,781.7 Z" fill="#f4a0a0"/>
<path d="M738.2,777.6 L742.2,784.5 L734.2,784.5 Z" fill="#f4a0a0"/>
<path d="M747,780.3 L751,787.3 L743,787.3 Z" fill="#f4a0a0"/>
<path d="M751,782.1 L754.8,788.6 L747.2,788.6 Z" fill="#f4a0a0" opacity="0.8"/>
<path d="M751.2,784.6 L755,791.1 L747.5,791.1 Z" fill="#f4a0a0" opacity="0.8"/>
<path d="M752.7,785.9 L756.5,792.4 L749,792.4 Z" fill="#f4a0a0" opacity="0.8"/>
<path d="M755.2,786.3 L758.9,792.8 L751.4,792.8 Z" fill="#f4a0a0" opacity="0.8"/>
<path d="M757.6,786.8 L761.4,793.3 L753.9,793.3 Z" fill="#f4a0a0" opacity="0.8"/>
<path d="M760.1,787.2 L763.8,793.7 L756.3,793.7 Z" fill="#f4a0a0" opacity="0.8"/>
<path d="M762.5,787.7 L766.3,794.1 L758.8,794.1 Z" fill="#f4a0a0" opacity="0.8"/>
<path d="M765,788.1 L768.7,794.6 L761.2,794.6 Z" fill="#f4a0a0" opacity="0.8"/>
<path d="M767.4,788.7 L771.2,795.2 L763.7,795.2 Z" fill="#f4a0a0" opacity="0.8"/>
<path d="M769.8,789.3 L773.6,795.8 L766.1,795.8 Z" fill="#f4a0a0" opacity="0.8"/>
<path d="M772.3,789.9 L776,796.4 L768.5,796.4 Z" fill="#f4a0a0" opacity="0.8"/>
<path d="M774.7,790.5 L778.4,797 L770.9,797 Z" fill="#f4a0a0" opacity="0.8"/>
<path d="M777.1,791.1 L780.8,797.6 L773.3,797.6 Z" fill="#f4a0a0" opacity="0.8"/>
<path d="M779.5,791.6 L783.3,798 L775.8,798 Z" fill="#f4a0a0" opacity="0.8"/>
<path d="M781.9,791 L785.7,797.5 L778.2,797.5 Z" fill="#f4a0a0" opacity="0.8"/>
<path d="M784.4,790.4 L788.1,796.9 L780.6,796.9 Z" fill="#f4a0a0" opacity="0.8"/>
<path d="M786.8,789.9 L790.5,796.3 L783,796.3 Z" fill="#f4a0a0" opacity="0.8"/>
<path d="M789.2,789.3 L793,795.8 L785.5,795.8 Z" fill="#f4a0a0" opacity="0.8"/>
<path d="M791.5,788.3 L795.2,794.8 L787.7,794.8 Z" fill="#f4a0a0" opacity="0.8"/>
<path d="M793.6,787 L797.4,793.5 L789.9,793.5 Z" fill="#f4a0a0" opacity="0.8"/>
<path d="M795.8,785.8 L799.5,792.3 L792,792.3 Z" fill="#f4a0a0" opacity="0.8"/>
<path d="M798,784.6 L801.7,791.1 L794.2,791.1 Z" fill="#f4a0a0" opacity="0.8"/>
<path d="M800.1,783.4 L803.9,789.8 L796.4,789.8 Z" fill="#f4a0a0" opacity="0.8"/>
<path d="M802.3,782.1 L806,788.6 L798.5,788.6 Z" fill="#f4a0a0" opacity="0.8"/>
<path d="M804.1,780.5 L807.9,787 L800.4,787 Z" fill="#f4a0a0" opacity="0.8"/>
<path d="M805.7,778.6 L809.5,785.1 L802,785.1 Z" fill="#f4a0a0" opacity="0.8"/>
<path d="M807.3,776.7 L811.1,783.2 L803.6,783.2 Z" fill="#f4a0a0" opacity="0.8"/>
<path d="M808.9,774.8 L812.7,781.3 L805.2,781.3 Z" fill="#f4a0a0" opacity="0.8"/>
<path d="M810.5,772.9 L814.3,779.4 L806.8,779.4 Z" fill="#f4a0a0" opacity="0.8"/>
<path d="M812.1,770.9 L815.8,777.4 L808.3,777.4 Z" fill="#f4a0a0" opacity="0.8"/>
<path d="M813.1,768.7 L816.9,775.2 L809.4,775.2 Z" fill="#f4a0a0" opacity="0.8"/>
<path d="M814.2,766.4 L817.9,772.9 L810.4,772.9 Z" fill="#f4a0a0" opacity="0.8"/>
<path d="M815.2,764.2 L819,770.7 L811.5,770.7 Z" fill="#f4a0a0" opacity="0.8"/>
<path d="M816.3,761.9 L820.1,768.4 L812.6,768.4 Z" fill="#f4a0a0" opacity="0.8"/>
<path d="M817.4,759.6 L821.1,766.1 L813.6,766.1 Z" fill="#f4a0a0" opacity="0.8"/>
<path d="M818.4,757.4 L822.2,763.9 L814.7,763.9 Z" fill="#f4a0a0" opacity="0.8"/>
<path d="M819.4,755.1 L823.2,761.6 L815.7,761.6 Z" fill="#f4a0a0" opacity="0.8"/>
<path d="M820.3,752.8 L824,759.3 L816.5,759.3 Z" fill="#f4a0a0" opacity="0.8"/>
<path d="M821.1,750.4 L824.9,756.9 L817.4,756.9 Z" fill="#f4a0a0" opacity="0.8"/>
<path d="M822,748.1 L825.8,754.6 L818.2,754.6 Z" fill="#f4a0a0" opacity="0.8"/>
</g>
<circle cx="666.3" cy="766.3" r="3.4" fill="#e8e820" stroke="#5a7a30" stroke-width="1.1"/>
<path d="M659.5,733.2 L663.8,740.5 L655.2,740.5 Z" fill="#f8d020" stroke="#f49a9a" stroke-width="1"/>
<path d="M697.4,715.6 L665.5,735.6 M697.4,719.6 L669.5,757.6" fill="none" stroke="#111" stroke-width="1.4" stroke-dasharray="3,2.2"/>
<text x="700.6" y="720" font-size="19.5" text-anchor="start" fill="#000" ><tspan font-style="italic">V</tspan><tspan font-size="13" dy="5">MPP</tspan></text>
<line x1="684.3" y1="618.6" x2="721.4" y2="618.6" stroke="#3d7ae6" stroke-width="1.6"/>
<circle cx="702.8" cy="618.6" r="2.2" fill="#fff" stroke="#6aa0f0" stroke-width="1.1"/>
<line x1="684.3" y1="639.8" x2="721.4" y2="639.8" stroke="#f47c7c" stroke-width="1.6"/>
<path d="M702.8,636.9 L705.5,641.7 L700,641.7 Z" fill="#fff" stroke="#f4a0a0" stroke-width="1.1"/>
<text x="730.6" y="625" font-size="19.5" text-anchor="start" fill="#000" textLength="65.5" lengthAdjust="spacingAndGlyphs" >27.81%</text>
<text x="730.6" y="646" font-size="19.5" text-anchor="start" fill="#000" textLength="65.5" lengthAdjust="spacingAndGlyphs" >27.63%</text>
<path d="M512.1,578.4 H819.8 V829.6 H512.1 Z" fill="none" stroke="#444" stroke-width="1.4"/>
<line x1="512.1" y1="614.2" x2="516.1" y2="614.2" stroke="#444" stroke-width="1.2"/>
<line x1="512.1" y1="649.8" x2="516.1" y2="649.8" stroke="#444" stroke-width="1.2"/>
<line x1="512.1" y1="685.5" x2="516.1" y2="685.5" stroke="#444" stroke-width="1.2"/>
<line x1="512.1" y1="721.1" x2="516.1" y2="721.1" stroke="#444" stroke-width="1.2"/>
<line x1="512.1" y1="756.8" x2="516.1" y2="756.8" stroke="#444" stroke-width="1.2"/>
<line x1="512.1" y1="792.5" x2="516.1" y2="792.5" stroke="#444" stroke-width="1.2"/>
<text x="502" y="585.2" font-size="19" text-anchor="end" fill="#000" >2.0</text>
<text x="502" y="656.5" font-size="19" text-anchor="end" fill="#000" >1.6</text>
<text x="502" y="727.8" font-size="19" text-anchor="end" fill="#000" >1.2</text>
<text x="502" y="799.2" font-size="19" text-anchor="end" fill="#000" >0.8</text>
<line x1="563.4" y1="829.6" x2="563.4" y2="824.6" stroke="#444" stroke-width="1.2"/>
<line x1="614.7" y1="829.6" x2="614.7" y2="824.6" stroke="#444" stroke-width="1.2"/>
<line x1="666" y1="829.6" x2="666" y2="824.6" stroke="#444" stroke-width="1.2"/>
<line x1="717.2" y1="829.6" x2="717.2" y2="824.6" stroke="#444" stroke-width="1.2"/>
<line x1="768.5" y1="829.6" x2="768.5" y2="824.6" stroke="#444" stroke-width="1.2"/>
<text x="512.1" y="853.4" font-size="19" text-anchor="middle" fill="#000" >0.60</text>
<text x="614.7" y="853.4" font-size="19" text-anchor="middle" fill="#000" >0.65</text>
<text x="717.2" y="853.4" font-size="19" text-anchor="middle" fill="#000" >0.70</text>
<text x="819.8" y="853.4" font-size="19" text-anchor="middle" fill="#000" >0.75</text>
<text x="665" y="883.3" font-size="19" text-anchor="middle" fill="#000" textLength="91" lengthAdjust="spacingAndGlyphs" >Voltage (V)</text>
<text transform="translate(462,703.6) rotate(-90)" font-size="19" text-anchor="middle">Local ideality factor</text>
<text x="446" y="570.5" font-size="25" text-anchor="start" fill="#000" font-weight="bold" stroke="#000" stroke-width="0.9">d</text>
<text x="853" y="570.5" font-size="25" text-anchor="start" fill="#000" font-weight="bold" stroke="#000" stroke-width="0.9">e</text>
<text x="1049.6" y="571.1" font-size="19" text-anchor="middle" fill="#000" textLength="223.6" lengthAdjust="spacingAndGlyphs" >Optical enhancing/surface</text>
<text x="1050.1" y="592.7" font-size="19" text-anchor="middle" fill="#000" textLength="160.9" lengthAdjust="spacingAndGlyphs" >passivation layer(s)</text>
<text x="1050.5" y="895.3" font-size="19" text-anchor="middle" fill="#000" textLength="257.5" lengthAdjust="spacingAndGlyphs" >Passivated tunnelling contacts</text>
<path d="M867.1,655.9 L911.5,607 L936.7,637 L958.9,614.5 L981.3,637 L1007.2,607 L1034,637 L1044.2,627.5 L1055.7,636.4 L1083.8,606.6 L1113.6,636.4 L1134.2,616.5 L1158.2,633.9 L1187.2,606.6 L1239.2,660.4 L1239.2,670.3 L1187.2,623.6 L1158.2,648.9 L1134.2,633.5 L1113.6,651.4 L1083.8,623.6 L1055.7,651.4 L1044.2,644.5 L1034,652 L1007.2,624 L981.3,652 L958.9,631.5 L936.7,652 L911.5,624 L867.1,669.3 Z" fill="#a48bb8"/>
<path d="M867.1,669.3 L911.5,624 L936.7,652 L958.9,631.5 L981.3,652 L1007.2,624 L1034,652 L1044.2,644.5 L1055.7,651.4 L1083.8,623.6 L1113.6,651.4 L1134.2,633.5 L1158.2,648.9 L1187.2,623.6 L1239.2,670.3 L1226,672 L1187.2,636.6 L1158.2,660.9 L1134.2,646.5 L1113.6,663.4 L1083.8,636.6 L1055.7,663.4 L1044.2,657.5 L1034,664 L1007.2,637 L981.3,664 L958.9,644.5 L936.7,664 L911.5,637 L879,672 Z" fill="#94bac4"/>
<path d="M891.5,675 L911.5,650 L936.7,676.5 L958.9,657.5 L981.3,676.5 L1007.2,650 L1034,676.5 L1044.2,670.5 L1055.7,675.9 L1083.8,649.6 L1113.6,675.9 L1134.2,659.5 L1158.2,673.4 L1187.2,649.6 L1215.3,674.4 L1215.3,835.9 L891.5,835.9 Z" fill="#fdf0cc"/>
<rect x="867.1" y="669.3" width="11.8" height="180.7" fill="#b5e09a"/>
<rect x="1229.2" y="670.3" width="11" height="179.7" fill="#b5e09a"/>
<rect x="867.1" y="850.2" width="141" height="18" fill="#dc8884"/>
<rect x="1008" y="850.2" width="232.3" height="18" fill="#b8a796"/>
<path d="M909.7,645.5 h6.6 M1004.2,645.5 h6.6 M1085.2,645.5 h6.6 M1179.7,645.5 h6.6 M903,653.3 h6.6 M916.5,653.3 h6.6 M957,653.3 h6.6 M997.5,653.3 h6.6 M1011,653.3 h6.6 M1092,653.3 h6.6 M1132.5,653.3 h6.6 M1173,653.3 h6.6 M896.2,661.1 h6.6 M923.2,661.1 h6.6 M950.2,661.1 h6.6 M963.7,661.1 h6.6 M990.7,661.1 h6.6 M1017.7,661.1 h6.6 M1098.7,661.1 h6.6 M1125.7,661.1 h6.6 M1139.2,661.1 h6.6 M1166.2,661.1 h6.6 M889.5,668.9 h6.6 M930,668.9 h6.6 M970.5,668.9 h6.6 M984,668.9 h6.6 M1024.5,668.9 h6.6 M1038,668.9 h6.6 M1105.5,668.9 h6.6 M1119,668.9 h6.6 M1146,668.9 h6.6 M1159.5,668.9 h6.6 M977.2,676.7 h6.6 M1031.2,676.7 h6.6" stroke="#111" stroke-width="2.3" fill="none"/>
<path d="M919,645.5 h1.4 M1013.5,645.5 h1.4 M1094.5,645.5 h1.4 M1189,645.5 h1.4 M912.3,653.3 h1.4 M925.8,653.3 h1.4 M966.3,653.3 h1.4 M1006.8,653.3 h1.4 M1020.3,653.3 h1.4 M1101.3,653.3 h1.4 M1141.8,653.3 h1.4 M1182.3,653.3 h1.4 M905.5,661.1 h1.4 M932.5,661.1 h1.4 M959.5,661.1 h1.4 M973,661.1 h1.4 M1000,661.1 h1.4 M1027,661.1 h1.4 M1108,661.1 h1.4 M1135,661.1 h1.4 M1148.5,661.1 h1.4 M1175.5,661.1 h1.4 M898.8,668.9 h1.4 M939.3,668.9 h1.4 M979.8,668.9 h1.4 M993.3,668.9 h1.4 M1033.8,668.9 h1.4 M1047.3,668.9 h1.4 M1114.8,668.9 h1.4 M1128.3,668.9 h1.4 M1155.3,668.9 h1.4 M1168.8,668.9 h1.4 M986.5,676.7 h1.4 M1040.5,676.7 h1.4" stroke="#333" stroke-width="1.4" fill="none"/>
<path d="M883.6,677 h7.9 M1217,677 h7.8 M883.6,692.8 h7.9 M1217,692.8 h7.8 M883.6,708.5 h7.9 M1217,708.5 h7.8 M883.6,724.2 h7.9 M1217,724.2 h7.8 M883.6,740 h7.9 M1217,740 h7.8 M883.6,755.8 h7.9 M1217,755.8 h7.8 M883.6,771.5 h7.9 M1217,771.5 h7.8 M883.6,787.2 h7.9 M1217,787.2 h7.8 M883.6,803 h7.9 M1217,803 h7.8 M883.6,818.8 h7.9 M1217,818.8 h7.8 M883.6,834.5 h7.9 M1217,834.5 h7.8" stroke="#111" stroke-width="2.3" fill="none"/>
<path d="M884.5,685 h1.6 M1218,685 h1.6 M884.5,700.8 h1.6 M1218,700.8 h1.6 M884.5,716.5 h1.6 M1218,716.5 h1.6 M884.5,732.2 h1.6 M1218,732.2 h1.6 M884.5,748 h1.6 M1218,748 h1.6 M884.5,763.8 h1.6 M1218,763.8 h1.6 M884.5,779.5 h1.6 M1218,779.5 h1.6 M884.5,795.2 h1.6 M1218,795.2 h1.6 M884.5,811 h1.6 M1218,811 h1.6 M884.5,826.8 h1.6 M1218,826.8 h1.6" stroke="#111" stroke-width="1.6" fill="none"/>
<line x1="891.5" y1="835.9" x2="1215.3" y2="835.9" stroke="#777" stroke-width="1" stroke-dasharray="5,3"/>
<path d="M892.3,843.8 h8.5 M908,843.8 h8.5 M923.8,843.8 h8.5 M939.5,843.8 h8.5 M955.3,843.8 h8.5 M971,843.8 h8.5 M986.8,843.8 h8.5 M1002.5,843.8 h8.5 M1018.3,843.8 h8.5 M1034,843.8 h8.5 M1049.8,843.8 h8.5 M1065.5,843.8 h8.5 M1081.3,843.8 h8.5 M1097,843.8 h8.5 M1112.8,843.8 h8.5 M1128.5,843.8 h8.5 M1144.3,843.8 h8.5 M1160,843.8 h8.5 M1175.8,843.8 h8.5 M1191.5,843.8 h8.5 M1207.3,843.8 h8.5" stroke="#111" stroke-width="2.2" fill="none"/>
<path d="M893.2,843.8 v6.4 M908.9,843.8 v6.4 M924.7,843.8 v6.4 M940.4,843.8 v6.4 M956.2,843.8 v6.4 M971.9,843.8 v6.4 M987.7,843.8 v6.4 M1003.4,843.8 v6.4" stroke="#f04040" stroke-width="1.6" fill="none"/>
<path d="M1019.2,843.8 v6.4 M1035,843.8 v6.4 M1050.7,843.8 v6.4 M1066.5,843.8 v6.4 M1082.2,843.8 v6.4 M1098,843.8 v6.4 M1113.7,843.8 v6.4 M1129.5,843.8 v6.4 M1145.2,843.8 v6.4 M1161,843.8 v6.4 M1176.7,843.8 v6.4 M1192.5,843.8 v6.4 M1208.2,843.8 v6.4" stroke="#806040" stroke-width="1.6" fill="none"/>
<text x="907" y="699.7" font-size="17.3" text-anchor="start" fill="#000" textLength="274.3" lengthAdjust="spacingAndGlyphs" >Rich majority carrier subsurface, <tspan font-style="italic">m</tspan> = 1</text>
<text x="917.8" y="761.6" font-size="17.3" text-anchor="start" fill="#000" textLength="237.6" lengthAdjust="spacingAndGlyphs" >Low majority carrier bulk, <tspan font-style="italic">m</tspan> = 2/3</text>
<line x1="931" y1="705.7" x2="898.8" y2="758.9" stroke="#111" stroke-width="1.6" stroke-dasharray="2.6,2.6"/>
<path d="M896,763.5 L897.1,753.6 L899.3,758.1 L904.3,758 Z" fill="#111"/>
<line x1="1161.4" y1="699.7" x2="1169.7" y2="672.9" stroke="#111" stroke-width="1.6" stroke-dasharray="2.6,2.6"/>
<path d="M1171.3,667.7 L1172.7,677.5 L1169.4,673.7 L1164.6,675.1 Z" fill="#111"/>
<line x1="1160.7" y1="707.7" x2="1179.8" y2="829.7" stroke="#111" stroke-width="1.6" stroke-dasharray="2.6,2.6"/>
<path d="M1180.6,835 L1175.1,826.8 L1179.6,828.8 L1183.4,825.5 Z" fill="#111"/>
<line x1="1170.6" y1="706.6" x2="1207.3" y2="759.8" stroke="#111" stroke-width="1.6" stroke-dasharray="2.6,2.6"/>
<path d="M1210.4,764.2 L1201.8,759.2 L1206.8,759 L1208.7,754.4 Z" fill="#111"/>
</svg></body></html>
